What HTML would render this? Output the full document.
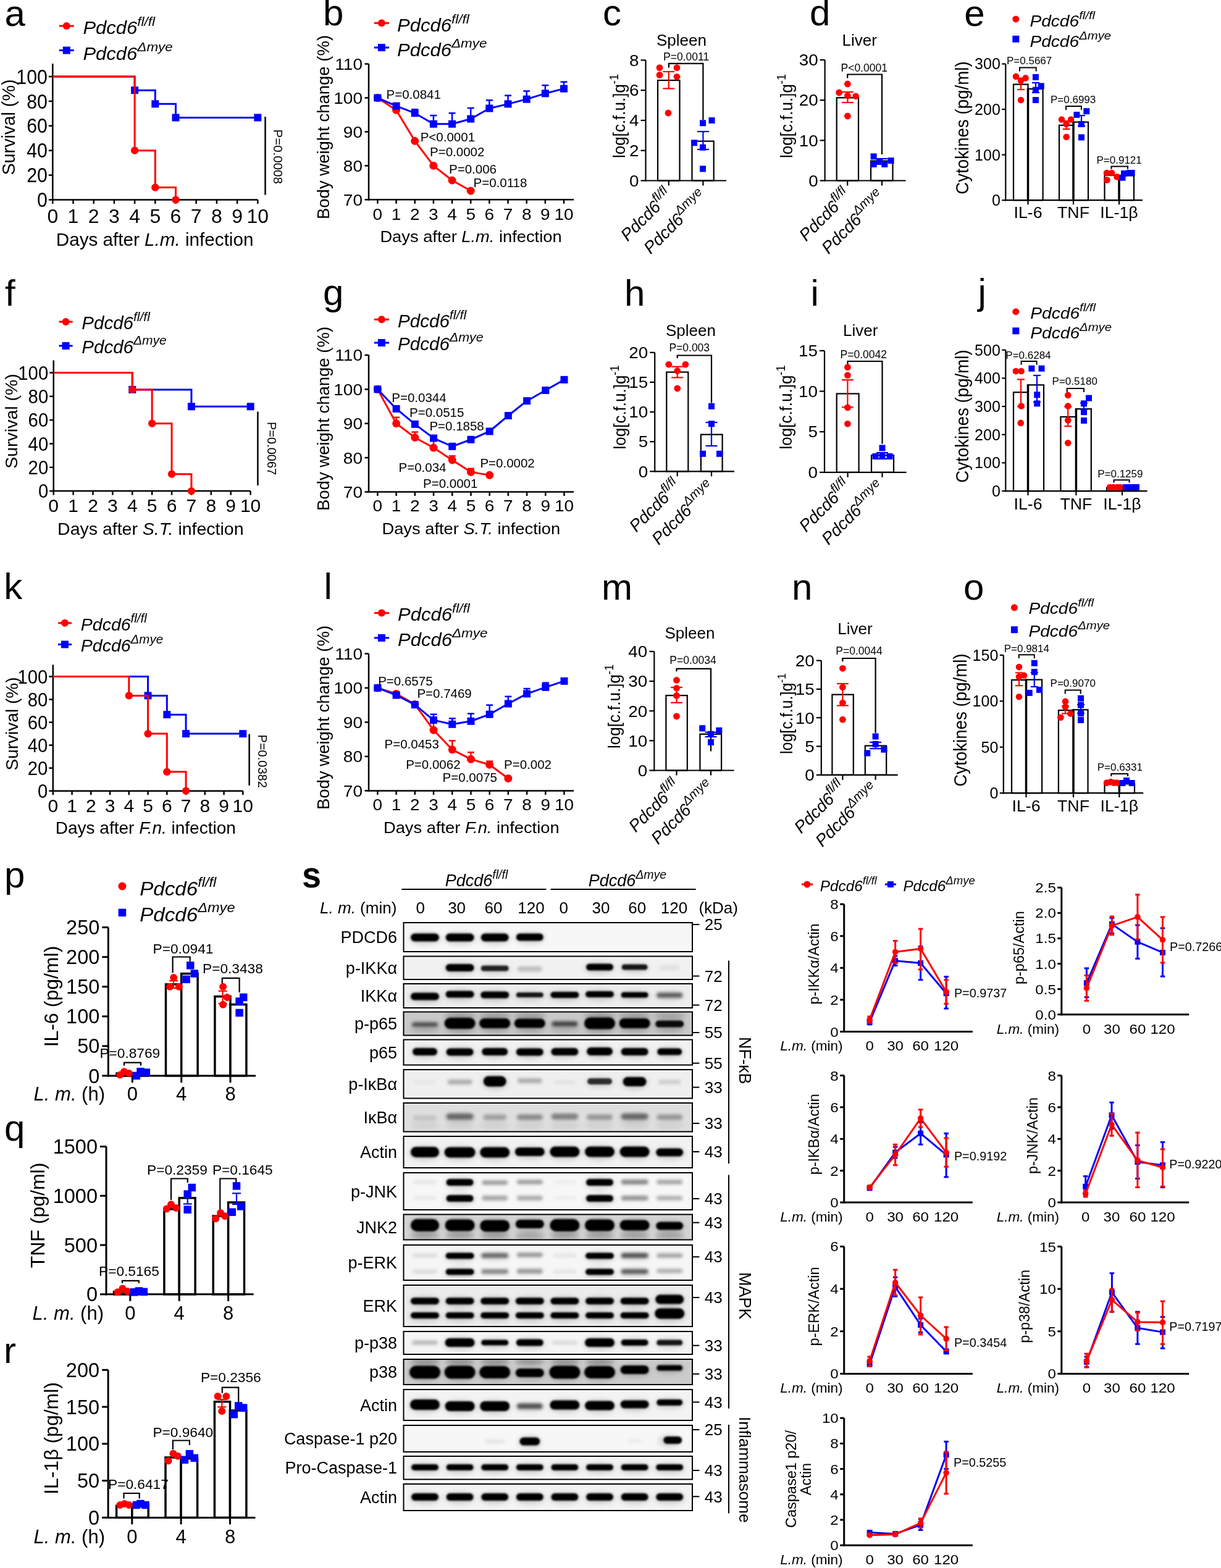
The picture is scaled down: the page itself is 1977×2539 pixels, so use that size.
<!DOCTYPE html>
<html><head><meta charset="utf-8"><title>Figure</title>
<style>
html,body{margin:0;padding:0;background:#fff;overflow:hidden;width:1977px;height:2539px;}
svg{display:block;}
text{font-family:"Liberation Sans",Arial,Helvetica,sans-serif;fill:#000;}
</style></head><body>
<svg width="1977" height="2539" viewBox="0 0 1977 2539">
<rect width="1977" height="2539" fill="#fff"/>
<line x1="95.8" y1="42" x2="119.7" y2="42" stroke="#ff0000" stroke-width="3"/>
<circle cx="107.75" cy="42" r="6" fill="#ff0000"/>
<text transform="translate(134.4,55.3) scale(1.07,1)" font-size="29" font-style="italic">Pdcd6<tspan font-size="21" dy="-13">fl/fl</tspan></text>
<line x1="95.8" y1="81.5" x2="119.7" y2="81.5" stroke="#0000ff" stroke-width="3"/>
<rect x="101.75" y="75.5" width="12" height="12" fill="#0000ff"/>
<text transform="translate(134.4,96.5) scale(1.07,1)" font-size="29" font-style="italic">Pdcd6<tspan font-size="21" dy="-14">Δmye</tspan></text>
<line x1="85.3" y1="103" x2="85.3" y2="324.75" stroke="#000" stroke-width="2.5"/>
<line x1="78.8" y1="323.5" x2="85.3" y2="323.5" stroke="#000" stroke-width="2.5"/>
<text transform="translate(76.8,335.15) scale(0.93,1)" font-size="32.55" text-anchor="end">0</text>
<line x1="78.8" y1="283.6" x2="85.3" y2="283.6" stroke="#000" stroke-width="2.5"/>
<text transform="translate(76.8,295.25) scale(0.93,1)" font-size="32.55" text-anchor="end">20</text>
<line x1="78.8" y1="243.7" x2="85.3" y2="243.7" stroke="#000" stroke-width="2.5"/>
<text transform="translate(76.8,255.35) scale(0.93,1)" font-size="32.55" text-anchor="end">40</text>
<line x1="78.8" y1="203.8" x2="85.3" y2="203.8" stroke="#000" stroke-width="2.5"/>
<text transform="translate(76.8,215.45) scale(0.93,1)" font-size="32.55" text-anchor="end">60</text>
<line x1="78.8" y1="163.9" x2="85.3" y2="163.9" stroke="#000" stroke-width="2.5"/>
<text transform="translate(76.8,175.55) scale(0.93,1)" font-size="32.55" text-anchor="end">80</text>
<line x1="78.8" y1="124" x2="85.3" y2="124" stroke="#000" stroke-width="2.5"/>
<text transform="translate(76.8,135.65) scale(0.93,1)" font-size="32.55" text-anchor="end">100</text>
<line x1="84.05" y1="323.5" x2="417.3" y2="323.5" stroke="#000" stroke-width="2.5"/>
<line x1="85.3" y1="323.5" x2="85.3" y2="330" stroke="#000" stroke-width="2.5"/>
<text transform="translate(85.3,360.8) scale(1.03,1)" font-size="31" text-anchor="middle">0</text>
<line x1="118.5" y1="323.5" x2="118.5" y2="330" stroke="#000" stroke-width="2.5"/>
<text transform="translate(118.5,360.8) scale(1.03,1)" font-size="31" text-anchor="middle">1</text>
<line x1="151.7" y1="323.5" x2="151.7" y2="330" stroke="#000" stroke-width="2.5"/>
<text transform="translate(151.7,360.8) scale(1.03,1)" font-size="31" text-anchor="middle">2</text>
<line x1="184.9" y1="323.5" x2="184.9" y2="330" stroke="#000" stroke-width="2.5"/>
<text transform="translate(184.9,360.8) scale(1.03,1)" font-size="31" text-anchor="middle">3</text>
<line x1="218.1" y1="323.5" x2="218.1" y2="330" stroke="#000" stroke-width="2.5"/>
<text transform="translate(218.1,360.8) scale(1.03,1)" font-size="31" text-anchor="middle">4</text>
<line x1="251.3" y1="323.5" x2="251.3" y2="330" stroke="#000" stroke-width="2.5"/>
<text transform="translate(251.3,360.8) scale(1.03,1)" font-size="31" text-anchor="middle">5</text>
<line x1="284.5" y1="323.5" x2="284.5" y2="330" stroke="#000" stroke-width="2.5"/>
<text transform="translate(284.5,360.8) scale(1.03,1)" font-size="31" text-anchor="middle">6</text>
<line x1="317.7" y1="323.5" x2="317.7" y2="330" stroke="#000" stroke-width="2.5"/>
<text transform="translate(317.7,360.8) scale(1.03,1)" font-size="31" text-anchor="middle">7</text>
<line x1="350.9" y1="323.5" x2="350.9" y2="330" stroke="#000" stroke-width="2.5"/>
<text transform="translate(350.9,360.8) scale(1.03,1)" font-size="31" text-anchor="middle">8</text>
<line x1="384.1" y1="323.5" x2="384.1" y2="330" stroke="#000" stroke-width="2.5"/>
<text transform="translate(384.1,360.8) scale(1.03,1)" font-size="31" text-anchor="middle">9</text>
<line x1="417.3" y1="323.5" x2="417.3" y2="330" stroke="#000" stroke-width="2.5"/>
<text transform="translate(417.3,360.8) scale(1.03,1)" font-size="31" text-anchor="middle">10</text>
<text transform="translate(250.6,397.6) scale(1.03,1)" font-size="28.8" text-anchor="middle">Days after <tspan font-style="italic">L.m.</tspan> infection</text>
<text transform="translate(24,206) rotate(-90)" font-size="28.8" text-anchor="middle">Survival (%)</text>
<polyline points="85.3,124 218.1,124 218.1,146.14 251.3,146.14 251.3,168.29 284.5,168.29 284.5,190.43 417.3,190.43 417.3,190.43" fill="none" stroke="#0000ff" stroke-width="3" stroke-linejoin="miter" stroke-linecap="butt"/>
<rect x="212.1" y="140.14" width="12" height="12" fill="#0000ff"/>
<rect x="245.3" y="162.29" width="12" height="12" fill="#0000ff"/>
<rect x="278.5" y="184.43" width="12" height="12" fill="#0000ff"/>
<rect x="411.3" y="184.43" width="12" height="12" fill="#0000ff"/>
<polyline points="85.3,124 218.1,124 218.1,243.7 251.3,243.7 251.3,303.55 284.5,303.55 284.5,323.5" fill="none" stroke="#ff0000" stroke-width="3" stroke-linejoin="miter" stroke-linecap="butt"/>
<circle cx="218.1" cy="243.7" r="6.2" fill="#ff0000"/>
<circle cx="251.3" cy="303.55" r="6.2" fill="#ff0000"/>
<circle cx="284.5" cy="323.5" r="6.2" fill="#ff0000"/>
<line x1="429.5" y1="189" x2="429.5" y2="315.6" stroke="#000" stroke-width="2.5"/>
<text transform="translate(443,209.5) rotate(90)" font-size="20.5">P=0.0008</text>
<line x1="605.8" y1="37.3" x2="630" y2="37.3" stroke="#ff0000" stroke-width="3"/>
<circle cx="617.9" cy="37.3" r="6" fill="#ff0000"/>
<text transform="translate(643,50.5) scale(1.07,1)" font-size="29" font-style="italic">Pdcd6<tspan font-size="21" dy="-13">fl/fl</tspan></text>
<line x1="605.8" y1="77" x2="630" y2="77" stroke="#0000ff" stroke-width="3"/>
<rect x="611.9" y="71" width="12" height="12" fill="#0000ff"/>
<text transform="translate(643,90.5) scale(1.07,1)" font-size="29" font-style="italic">Pdcd6<tspan font-size="21" dy="-14">Δmye</tspan></text>
<line x1="597" y1="103.5" x2="597" y2="324.55" stroke="#000" stroke-width="2.5"/>
<line x1="590.5" y1="323.3" x2="597" y2="323.3" stroke="#000" stroke-width="2.5"/>
<text transform="translate(587,332.68) scale(1.07,1)" font-size="26.2" text-anchor="end">70</text>
<line x1="590.5" y1="268.35" x2="597" y2="268.35" stroke="#000" stroke-width="2.5"/>
<text transform="translate(587,277.73) scale(1.07,1)" font-size="26.2" text-anchor="end">80</text>
<line x1="590.5" y1="213.4" x2="597" y2="213.4" stroke="#000" stroke-width="2.5"/>
<text transform="translate(587,222.78) scale(1.07,1)" font-size="26.2" text-anchor="end">90</text>
<line x1="590.5" y1="158.45" x2="597" y2="158.45" stroke="#000" stroke-width="2.5"/>
<text transform="translate(587,167.83) scale(1.07,1)" font-size="26.2" text-anchor="end">100</text>
<line x1="590.5" y1="103.5" x2="597" y2="103.5" stroke="#000" stroke-width="2.5"/>
<text transform="translate(587,112.88) scale(1.07,1)" font-size="26.2" text-anchor="end">110</text>
<line x1="595.75" y1="323.3" x2="929" y2="323.3" stroke="#000" stroke-width="2.5"/>
<line x1="611.4" y1="323.3" x2="611.4" y2="329.8" stroke="#000" stroke-width="2.5"/>
<text transform="translate(611.4,355.7) scale(1.07,1)" font-size="26.2" text-anchor="middle">0</text>
<line x1="641.56" y1="323.3" x2="641.56" y2="329.8" stroke="#000" stroke-width="2.5"/>
<text transform="translate(641.56,355.7) scale(1.07,1)" font-size="26.2" text-anchor="middle">1</text>
<line x1="671.72" y1="323.3" x2="671.72" y2="329.8" stroke="#000" stroke-width="2.5"/>
<text transform="translate(671.72,355.7) scale(1.07,1)" font-size="26.2" text-anchor="middle">2</text>
<line x1="701.88" y1="323.3" x2="701.88" y2="329.8" stroke="#000" stroke-width="2.5"/>
<text transform="translate(701.88,355.7) scale(1.07,1)" font-size="26.2" text-anchor="middle">3</text>
<line x1="732.04" y1="323.3" x2="732.04" y2="329.8" stroke="#000" stroke-width="2.5"/>
<text transform="translate(732.04,355.7) scale(1.07,1)" font-size="26.2" text-anchor="middle">4</text>
<line x1="762.2" y1="323.3" x2="762.2" y2="329.8" stroke="#000" stroke-width="2.5"/>
<text transform="translate(762.2,355.7) scale(1.07,1)" font-size="26.2" text-anchor="middle">5</text>
<line x1="792.36" y1="323.3" x2="792.36" y2="329.8" stroke="#000" stroke-width="2.5"/>
<text transform="translate(792.36,355.7) scale(1.07,1)" font-size="26.2" text-anchor="middle">6</text>
<line x1="822.52" y1="323.3" x2="822.52" y2="329.8" stroke="#000" stroke-width="2.5"/>
<text transform="translate(822.52,355.7) scale(1.07,1)" font-size="26.2" text-anchor="middle">7</text>
<line x1="852.68" y1="323.3" x2="852.68" y2="329.8" stroke="#000" stroke-width="2.5"/>
<text transform="translate(852.68,355.7) scale(1.07,1)" font-size="26.2" text-anchor="middle">8</text>
<line x1="882.84" y1="323.3" x2="882.84" y2="329.8" stroke="#000" stroke-width="2.5"/>
<text transform="translate(882.84,355.7) scale(1.07,1)" font-size="26.2" text-anchor="middle">9</text>
<line x1="913" y1="323.3" x2="913" y2="329.8" stroke="#000" stroke-width="2.5"/>
<text transform="translate(913,355.7) scale(1.07,1)" font-size="26.2" text-anchor="middle">10</text>
<text transform="translate(762.5,392.4) scale(1.03,1)" font-size="26.5" text-anchor="middle">Days after <tspan font-style="italic">L.m.</tspan> infection</text>
<text transform="translate(532.5,206) rotate(-90)" font-size="27.5" text-anchor="middle">Body weight change (%)</text>
<polyline points="611.4,158.45 641.56,178.23 671.72,228.24 701.88,268.35 732.04,291.98 762.2,309.01" fill="none" stroke="#ff0000" stroke-width="3" stroke-linejoin="round" stroke-linecap="butt"/>
<circle cx="611.4" cy="158.45" r="6.5" fill="#ff0000"/>
<circle cx="641.56" cy="178.23" r="6.5" fill="#ff0000"/>
<circle cx="671.72" cy="228.24" r="6.5" fill="#ff0000"/>
<circle cx="701.88" cy="268.35" r="6.5" fill="#ff0000"/>
<circle cx="732.04" cy="291.98" r="6.5" fill="#ff0000"/>
<circle cx="762.2" cy="309.01" r="6.5" fill="#ff0000"/>
<line x1="671.72" y1="177.13" x2="671.72" y2="183.18" stroke="#0000ff" stroke-width="2.5"/>
<line x1="666.22" y1="177.13" x2="677.22" y2="177.13" stroke="#0000ff" stroke-width="2.5"/>
<line x1="701.88" y1="187.02" x2="701.88" y2="200.76" stroke="#0000ff" stroke-width="2.5"/>
<line x1="696.38" y1="187.02" x2="707.38" y2="187.02" stroke="#0000ff" stroke-width="2.5"/>
<line x1="732.04" y1="183.18" x2="732.04" y2="200.76" stroke="#0000ff" stroke-width="2.5"/>
<line x1="726.54" y1="183.18" x2="737.54" y2="183.18" stroke="#0000ff" stroke-width="2.5"/>
<line x1="762.2" y1="174.94" x2="762.2" y2="192.52" stroke="#0000ff" stroke-width="2.5"/>
<line x1="756.7" y1="174.94" x2="767.7" y2="174.94" stroke="#0000ff" stroke-width="2.5"/>
<line x1="792.36" y1="162.3" x2="792.36" y2="175.48" stroke="#0000ff" stroke-width="2.5"/>
<line x1="786.86" y1="162.3" x2="797.86" y2="162.3" stroke="#0000ff" stroke-width="2.5"/>
<line x1="822.52" y1="154.6" x2="822.52" y2="168.34" stroke="#0000ff" stroke-width="2.5"/>
<line x1="817.02" y1="154.6" x2="828.02" y2="154.6" stroke="#0000ff" stroke-width="2.5"/>
<line x1="852.68" y1="147.46" x2="852.68" y2="160.65" stroke="#0000ff" stroke-width="2.5"/>
<line x1="847.18" y1="147.46" x2="858.18" y2="147.46" stroke="#0000ff" stroke-width="2.5"/>
<line x1="882.84" y1="138.12" x2="882.84" y2="151.31" stroke="#0000ff" stroke-width="2.5"/>
<line x1="877.34" y1="138.12" x2="888.34" y2="138.12" stroke="#0000ff" stroke-width="2.5"/>
<line x1="913" y1="132.62" x2="913" y2="143.61" stroke="#0000ff" stroke-width="2.5"/>
<line x1="907.5" y1="132.62" x2="918.5" y2="132.62" stroke="#0000ff" stroke-width="2.5"/>
<polyline points="611.4,158.45 641.56,171.64 671.72,183.18 701.88,200.76 732.04,200.76 762.2,192.52 792.36,175.48 822.52,168.34 852.68,160.65 882.84,151.31 913,143.61" fill="none" stroke="#0000ff" stroke-width="3" stroke-linejoin="round" stroke-linecap="butt"/>
<rect x="605.4" y="152.45" width="12" height="12" fill="#0000ff"/>
<rect x="635.56" y="165.64" width="12" height="12" fill="#0000ff"/>
<rect x="665.72" y="177.18" width="12" height="12" fill="#0000ff"/>
<rect x="695.88" y="194.76" width="12" height="12" fill="#0000ff"/>
<rect x="726.04" y="194.76" width="12" height="12" fill="#0000ff"/>
<rect x="756.2" y="186.52" width="12" height="12" fill="#0000ff"/>
<rect x="786.36" y="169.48" width="12" height="12" fill="#0000ff"/>
<rect x="816.52" y="162.34" width="12" height="12" fill="#0000ff"/>
<rect x="846.68" y="154.65" width="12" height="12" fill="#0000ff"/>
<rect x="876.84" y="145.31" width="12" height="12" fill="#0000ff"/>
<rect x="907" y="137.61" width="12" height="12" fill="#0000ff"/>
<text transform="translate(625.5,160)" font-size="20.5">P=0.0841</text>
<text transform="translate(680.7,229)" font-size="20.5">P&lt;0.0001</text>
<text transform="translate(696,253)" font-size="20.5">P=0.0002</text>
<text transform="translate(727,281)" font-size="20.5">P=0.006</text>
<text transform="translate(766.6,303)" font-size="20.5">P=0.0118</text>
<line x1="1045.5" y1="97.4" x2="1045.5" y2="293.6" stroke="#000" stroke-width="2.2"/>
<line x1="1037.5" y1="292.5" x2="1045.5" y2="292.5" stroke="#000" stroke-width="2.2"/>
<text transform="translate(1034.5,301.81) scale(1.07,1)" font-size="26" text-anchor="end">0</text>
<line x1="1037.5" y1="243.72" x2="1045.5" y2="243.72" stroke="#000" stroke-width="2.2"/>
<text transform="translate(1034.5,253.03) scale(1.07,1)" font-size="26" text-anchor="end">2</text>
<line x1="1037.5" y1="194.94" x2="1045.5" y2="194.94" stroke="#000" stroke-width="2.2"/>
<text transform="translate(1034.5,204.25) scale(1.07,1)" font-size="26" text-anchor="end">4</text>
<line x1="1037.5" y1="146.16" x2="1045.5" y2="146.16" stroke="#000" stroke-width="2.2"/>
<text transform="translate(1034.5,155.47) scale(1.07,1)" font-size="26" text-anchor="end">6</text>
<line x1="1037.5" y1="97.38" x2="1045.5" y2="97.38" stroke="#000" stroke-width="2.2"/>
<text transform="translate(1034.5,106.69) scale(1.07,1)" font-size="26" text-anchor="end">8</text>
<rect x="1065" y="130.06" width="35.5" height="162.44" fill="#fff" stroke="#000" stroke-width="2.2" />
<rect x="1120.5" y="228.6" width="35.2" height="63.9" fill="#fff" stroke="#000" stroke-width="2.2" />
<line x1="1044.4" y1="292.5" x2="1176" y2="292.5" stroke="#000" stroke-width="2.2"/>
<line x1="1082.8" y1="292.5" x2="1082.8" y2="300.5" stroke="#000" stroke-width="2.2"/>
<line x1="1138.4" y1="292.5" x2="1138.4" y2="300.5" stroke="#000" stroke-width="2.2"/>
<polyline points="1082.9,109.4 1082.9,102.9 1138.4,102.9 1138.4,194" fill="none" stroke="#000" stroke-width="2.2" stroke-linejoin="miter" stroke-linecap="butt"/>
<circle cx="1068" cy="109.6" r="5.4" fill="#ff0000"/>
<circle cx="1096" cy="109.6" r="5.4" fill="#ff0000"/>
<circle cx="1068" cy="121.4" r="5.4" fill="#ff0000"/>
<circle cx="1096" cy="124.3" r="5.4" fill="#ff0000"/>
<circle cx="1082" cy="183" r="5.4" fill="#ff0000"/>
<rect x="1133" y="194.3" width="10" height="10" fill="#0000ff"/>
<rect x="1147.5" y="190" width="10" height="10" fill="#0000ff"/>
<rect x="1119" y="226.3" width="10" height="10" fill="#0000ff"/>
<rect x="1133" y="233.7" width="10" height="10" fill="#0000ff"/>
<rect x="1133" y="268.4" width="10" height="10" fill="#0000ff"/>
<line x1="1082.8" y1="116" x2="1082.8" y2="143.4" stroke="#ff0000" stroke-width="2.2"/>
<line x1="1073.3" y1="116" x2="1092.3" y2="116" stroke="#ff0000" stroke-width="2.2"/>
<line x1="1073.3" y1="143.4" x2="1092.3" y2="143.4" stroke="#ff0000" stroke-width="2.2"/>
<line x1="1138.4" y1="213" x2="1138.4" y2="242" stroke="#0000ff" stroke-width="2.2"/>
<line x1="1128.9" y1="213" x2="1147.9" y2="213" stroke="#0000ff" stroke-width="2.2"/>
<line x1="1128.9" y1="242" x2="1147.9" y2="242" stroke="#0000ff" stroke-width="2.2"/>
<text transform="translate(1074,97.6)" font-size="17.5">P=0.0011</text>
<text transform="translate(1063,74.1)" font-size="26">Spleen</text>
<text transform="translate(1012,256) scale(1.07,1) rotate(-90)" font-size="26">log[c.f.u.]g<tspan font-size="18.2" dy="-10.4">-1</tspan></text>
<text transform="translate(1090,318) rotate(-45)" font-size="27.5" text-anchor="end" font-style="italic">Pdcd6<tspan font-size="20.62" dy="-11.55">fl/fl</tspan></text>
<text transform="translate(1146,320) rotate(-45)" font-size="27.5" text-anchor="end" font-style="italic">Pdcd6<tspan font-size="20.62" dy="-11.55">Δmye</tspan></text>
<line x1="1335.6" y1="97" x2="1335.6" y2="293.6" stroke="#000" stroke-width="2.2"/>
<line x1="1327.6" y1="292.5" x2="1335.6" y2="292.5" stroke="#000" stroke-width="2.2"/>
<text transform="translate(1324.6,301.81) scale(1.07,1)" font-size="26" text-anchor="end">0</text>
<line x1="1327.6" y1="227.33" x2="1335.6" y2="227.33" stroke="#000" stroke-width="2.2"/>
<text transform="translate(1324.6,236.64) scale(1.07,1)" font-size="26" text-anchor="end">10</text>
<line x1="1327.6" y1="162.16" x2="1335.6" y2="162.16" stroke="#000" stroke-width="2.2"/>
<text transform="translate(1324.6,171.47) scale(1.07,1)" font-size="26" text-anchor="end">20</text>
<line x1="1327.6" y1="96.99" x2="1335.6" y2="96.99" stroke="#000" stroke-width="2.2"/>
<text transform="translate(1324.6,106.3) scale(1.07,1)" font-size="26" text-anchor="end">30</text>
<rect x="1354.7" y="158.25" width="35.3" height="134.25" fill="#fff" stroke="#000" stroke-width="2.2" />
<rect x="1410" y="260.57" width="35.5" height="31.93" fill="#fff" stroke="#000" stroke-width="2.2" />
<line x1="1334.5" y1="292.5" x2="1466.7" y2="292.5" stroke="#000" stroke-width="2.2"/>
<line x1="1372.2" y1="292.5" x2="1372.2" y2="300.5" stroke="#000" stroke-width="2.2"/>
<line x1="1428" y1="292.5" x2="1428" y2="300.5" stroke="#000" stroke-width="2.2"/>
<polyline points="1372.2,126.4 1372.2,120.5 1428,120.5 1428,250" fill="none" stroke="#000" stroke-width="2.2" stroke-linejoin="miter" stroke-linecap="butt"/>
<circle cx="1372.4" cy="136" r="5.4" fill="#ff0000"/>
<circle cx="1358.6" cy="150" r="5.4" fill="#ff0000"/>
<circle cx="1372.4" cy="155" r="5.4" fill="#ff0000"/>
<circle cx="1385.6" cy="155.8" r="5.4" fill="#ff0000"/>
<circle cx="1372.4" cy="188" r="5.4" fill="#ff0000"/>
<rect x="1409.6" y="248.4" width="10" height="10" fill="#0000ff"/>
<rect x="1409.6" y="261" width="10" height="10" fill="#0000ff"/>
<rect x="1427.3" y="261" width="10" height="10" fill="#0000ff"/>
<rect x="1437.6" y="255.1" width="10" height="10" fill="#0000ff"/>
<rect x="1419" y="257" width="10" height="10" fill="#0000ff"/>
<line x1="1372.4" y1="149" x2="1372.4" y2="166" stroke="#ff0000" stroke-width="2.2"/>
<line x1="1362.9" y1="149" x2="1381.9" y2="149" stroke="#ff0000" stroke-width="2.2"/>
<line x1="1362.9" y1="166" x2="1381.9" y2="166" stroke="#ff0000" stroke-width="2.2"/>
<line x1="1428" y1="257" x2="1428" y2="263.5" stroke="#0000ff" stroke-width="2.2"/>
<line x1="1418.5" y1="257" x2="1437.5" y2="257" stroke="#0000ff" stroke-width="2.2"/>
<line x1="1418.5" y1="263.5" x2="1437.5" y2="263.5" stroke="#0000ff" stroke-width="2.2"/>
<text transform="translate(1361.5,115.5)" font-size="17.5">P&lt;0.0001</text>
<text transform="translate(1363.6,73.5)" font-size="26">Liver</text>
<text transform="translate(1283,256) scale(1.07,1) rotate(-90)" font-size="26">log[c.f.u.]g<tspan font-size="18.2" dy="-10.4">-1</tspan></text>
<text transform="translate(1379,318) rotate(-45)" font-size="27.5" text-anchor="end" font-style="italic">Pdcd6<tspan font-size="20.62" dy="-11.55">fl/fl</tspan></text>
<text transform="translate(1434,320) rotate(-45)" font-size="27.5" text-anchor="end" font-style="italic">Pdcd6<tspan font-size="20.62" dy="-11.55">Δmye</tspan></text>
<circle cx="1644.8" cy="30.9" r="5.5" fill="#ff0000"/>
<text transform="translate(1667.4,42.6) scale(1.07,1)" font-size="26.3" font-style="italic">Pdcd6<tspan font-size="19" dy="-12">fl/fl</tspan></text>
<rect x="1639.3" y="57.7" width="11" height="11" fill="#0000ff"/>
<text transform="translate(1667.4,75.8) scale(1.07,1)" font-size="26.3" font-style="italic">Pdcd6<tspan font-size="19" dy="-12">Δmye</tspan></text>
<line x1="1628.3" y1="103.5" x2="1628.3" y2="325.3" stroke="#000" stroke-width="2.2"/>
<line x1="1622.3" y1="324.2" x2="1628.3" y2="324.2" stroke="#000" stroke-width="2.2"/>
<text transform="translate(1619.8,333.15)" font-size="25" text-anchor="end">0</text>
<line x1="1622.3" y1="250.63" x2="1628.3" y2="250.63" stroke="#000" stroke-width="2.2"/>
<text transform="translate(1619.8,259.58)" font-size="25" text-anchor="end">100</text>
<line x1="1622.3" y1="177.06" x2="1628.3" y2="177.06" stroke="#000" stroke-width="2.2"/>
<text transform="translate(1619.8,186.01)" font-size="25" text-anchor="end">200</text>
<line x1="1622.3" y1="103.49" x2="1628.3" y2="103.49" stroke="#000" stroke-width="2.2"/>
<text transform="translate(1619.8,112.44)" font-size="25" text-anchor="end">300</text>
<rect x="1641" y="136.6" width="23.5" height="187.6" fill="#fff" stroke="#000" stroke-width="2.2" />
<rect x="1664.5" y="143.95" width="24.1" height="180.25" fill="#fff" stroke="#000" stroke-width="2.2" />
<rect x="1715" y="202.81" width="23" height="121.39" fill="#fff" stroke="#000" stroke-width="2.2" />
<rect x="1738" y="197.66" width="24" height="126.54" fill="#fff" stroke="#000" stroke-width="2.2" />
<rect x="1788.5" y="283.74" width="23.5" height="40.46" fill="#fff" stroke="#000" stroke-width="2.2" />
<rect x="1812" y="284.47" width="24" height="39.73" fill="#fff" stroke="#000" stroke-width="2.2" />
<line x1="1664.5" y1="142.85" x2="1664.5" y2="324.2" stroke="#000" stroke-width="3.5"/>
<line x1="1738" y1="196.56" x2="1738" y2="324.2" stroke="#000" stroke-width="3.5"/>
<line x1="1812" y1="283.37" x2="1812" y2="324.2" stroke="#000" stroke-width="3.5"/>
<line x1="1627.2" y1="324.2" x2="1850" y2="324.2" stroke="#000" stroke-width="2.2"/>
<line x1="1664.5" y1="324.2" x2="1664.5" y2="331.2" stroke="#000" stroke-width="2.2"/>
<line x1="1738" y1="324.2" x2="1738" y2="331.2" stroke="#000" stroke-width="2.2"/>
<line x1="1812" y1="324.2" x2="1812" y2="331.2" stroke="#000" stroke-width="2.2"/>
<text transform="translate(1664.5,352.7) scale(1.07,1)" font-size="25" text-anchor="middle">IL-6</text>
<text transform="translate(1738,352.7) scale(1.07,1)" font-size="25" text-anchor="middle">TNF</text>
<text transform="translate(1812,352.7) scale(1.07,1)" font-size="25" text-anchor="middle">IL-1β</text>
<polyline points="1651,115.5 1651,109.6 1677.7,109.6 1677.7,115.5" fill="none" stroke="#000" stroke-width="2" stroke-linejoin="miter" stroke-linecap="butt"/>
<text transform="translate(1630,104.1)" font-size="17">P=0.5667</text>
<polyline points="1726,178 1726,172 1751,172 1751,178" fill="none" stroke="#000" stroke-width="2" stroke-linejoin="miter" stroke-linecap="butt"/>
<text transform="translate(1701,167)" font-size="17">P=0.6993</text>
<polyline points="1799.4,273.8 1799.4,269.6 1826,269.6 1826,273.8" fill="none" stroke="#000" stroke-width="2" stroke-linejoin="miter" stroke-linecap="butt"/>
<text transform="translate(1775.5,265)" font-size="17">P=0.9121</text>
<line x1="1653" y1="127" x2="1653" y2="145" stroke="#ff0000" stroke-width="2.2"/>
<line x1="1647" y1="127" x2="1659" y2="127" stroke="#ff0000" stroke-width="2.2"/>
<line x1="1647" y1="145" x2="1659" y2="145" stroke="#ff0000" stroke-width="2.2"/>
<line x1="1726.6" y1="196" x2="1726.6" y2="209" stroke="#ff0000" stroke-width="2.2"/>
<line x1="1720.6" y1="196" x2="1732.6" y2="196" stroke="#ff0000" stroke-width="2.2"/>
<line x1="1720.6" y1="209" x2="1732.6" y2="209" stroke="#ff0000" stroke-width="2.2"/>
<line x1="1677" y1="134" x2="1677" y2="150" stroke="#0000ff" stroke-width="2.2"/>
<line x1="1671" y1="134" x2="1683" y2="134" stroke="#0000ff" stroke-width="2.2"/>
<line x1="1671" y1="150" x2="1683" y2="150" stroke="#0000ff" stroke-width="2.2"/>
<line x1="1751" y1="187" x2="1751" y2="204" stroke="#0000ff" stroke-width="2.2"/>
<line x1="1745" y1="187" x2="1757" y2="187" stroke="#0000ff" stroke-width="2.2"/>
<line x1="1745" y1="204" x2="1757" y2="204" stroke="#0000ff" stroke-width="2.2"/>
<circle cx="1645" cy="123.9" r="5.3" fill="#ff0000"/>
<circle cx="1660.5" cy="126.4" r="5.3" fill="#ff0000"/>
<circle cx="1653" cy="130.6" r="5.3" fill="#ff0000"/>
<circle cx="1653" cy="162" r="5.3" fill="#ff0000"/>
<circle cx="1719" cy="193.5" r="5.3" fill="#ff0000"/>
<circle cx="1734" cy="193.5" r="5.3" fill="#ff0000"/>
<circle cx="1726.6" cy="201" r="5.3" fill="#ff0000"/>
<circle cx="1726.6" cy="221.8" r="5.3" fill="#ff0000"/>
<circle cx="1792" cy="280.1" r="5.3" fill="#ff0000"/>
<circle cx="1800" cy="280.1" r="5.3" fill="#ff0000"/>
<circle cx="1808.6" cy="286.4" r="5.3" fill="#ff0000"/>
<circle cx="1792.4" cy="291.5" r="5.3" fill="#ff0000"/>
<rect x="1671.9" y="119.9" width="10" height="10" fill="#0000ff"/>
<rect x="1680.7" y="134.4" width="10" height="10" fill="#0000ff"/>
<rect x="1671.9" y="140.7" width="10" height="10" fill="#0000ff"/>
<rect x="1671.9" y="157" width="10" height="10" fill="#0000ff"/>
<rect x="1738.4" y="180.9" width="10" height="10" fill="#0000ff"/>
<rect x="1754.3" y="175.1" width="10" height="10" fill="#0000ff"/>
<rect x="1746" y="196" width="10" height="10" fill="#0000ff"/>
<rect x="1746" y="217.4" width="10" height="10" fill="#0000ff"/>
<rect x="1815" y="276" width="10" height="10" fill="#0000ff"/>
<rect x="1823.8" y="275" width="10" height="10" fill="#0000ff"/>
<rect x="1827.6" y="275" width="10" height="10" fill="#0000ff"/>
<rect x="1812.5" y="282.7" width="10" height="10" fill="#0000ff"/>
<text transform="translate(1568,207) scale(1.07,1) rotate(-90)" font-size="27.7" text-anchor="middle">Cytokines (pg/ml)</text>
<line x1="95.5" y1="521" x2="117.6" y2="521" stroke="#ff0000" stroke-width="3"/>
<circle cx="106.55" cy="521" r="6" fill="#ff0000"/>
<text transform="translate(132.3,533)" font-size="29.5" font-style="italic">Pdcd6<tspan font-size="21" dy="-13">fl/fl</tspan></text>
<line x1="95.5" y1="560" x2="117.6" y2="560" stroke="#0000ff" stroke-width="3"/>
<rect x="100.55" y="554" width="12" height="12" fill="#0000ff"/>
<text transform="translate(132.3,571.7)" font-size="29.5" font-style="italic">Pdcd6<tspan font-size="21" dy="-14">Δmye</tspan></text>
<line x1="86.7" y1="583.5" x2="86.7" y2="796.35" stroke="#000" stroke-width="2.5"/>
<line x1="80.2" y1="795.1" x2="86.7" y2="795.1" stroke="#000" stroke-width="2.5"/>
<text transform="translate(78.2,806.38) scale(0.93,1)" font-size="31.5" text-anchor="end">0</text>
<line x1="80.2" y1="756.78" x2="86.7" y2="756.78" stroke="#000" stroke-width="2.5"/>
<text transform="translate(78.2,768.06) scale(0.93,1)" font-size="31.5" text-anchor="end">20</text>
<line x1="80.2" y1="718.46" x2="86.7" y2="718.46" stroke="#000" stroke-width="2.5"/>
<text transform="translate(78.2,729.74) scale(0.93,1)" font-size="31.5" text-anchor="end">40</text>
<line x1="80.2" y1="680.14" x2="86.7" y2="680.14" stroke="#000" stroke-width="2.5"/>
<text transform="translate(78.2,691.42) scale(0.93,1)" font-size="31.5" text-anchor="end">60</text>
<line x1="80.2" y1="641.82" x2="86.7" y2="641.82" stroke="#000" stroke-width="2.5"/>
<text transform="translate(78.2,653.1) scale(0.93,1)" font-size="31.5" text-anchor="end">80</text>
<line x1="80.2" y1="603.5" x2="86.7" y2="603.5" stroke="#000" stroke-width="2.5"/>
<text transform="translate(78.2,614.78) scale(0.93,1)" font-size="31.5" text-anchor="end">100</text>
<line x1="85.45" y1="795.1" x2="405.6" y2="795.1" stroke="#000" stroke-width="2.5"/>
<line x1="86.7" y1="795.1" x2="86.7" y2="801.6" stroke="#000" stroke-width="2.5"/>
<text transform="translate(86.7,829)" font-size="30" text-anchor="middle">0</text>
<line x1="118.59" y1="795.1" x2="118.59" y2="801.6" stroke="#000" stroke-width="2.5"/>
<text transform="translate(118.59,829)" font-size="30" text-anchor="middle">1</text>
<line x1="150.48" y1="795.1" x2="150.48" y2="801.6" stroke="#000" stroke-width="2.5"/>
<text transform="translate(150.48,829)" font-size="30" text-anchor="middle">2</text>
<line x1="182.37" y1="795.1" x2="182.37" y2="801.6" stroke="#000" stroke-width="2.5"/>
<text transform="translate(182.37,829)" font-size="30" text-anchor="middle">3</text>
<line x1="214.26" y1="795.1" x2="214.26" y2="801.6" stroke="#000" stroke-width="2.5"/>
<text transform="translate(214.26,829)" font-size="30" text-anchor="middle">4</text>
<line x1="246.15" y1="795.1" x2="246.15" y2="801.6" stroke="#000" stroke-width="2.5"/>
<text transform="translate(246.15,829)" font-size="30" text-anchor="middle">5</text>
<line x1="278.04" y1="795.1" x2="278.04" y2="801.6" stroke="#000" stroke-width="2.5"/>
<text transform="translate(278.04,829)" font-size="30" text-anchor="middle">6</text>
<line x1="309.93" y1="795.1" x2="309.93" y2="801.6" stroke="#000" stroke-width="2.5"/>
<text transform="translate(309.93,829)" font-size="30" text-anchor="middle">7</text>
<line x1="341.82" y1="795.1" x2="341.82" y2="801.6" stroke="#000" stroke-width="2.5"/>
<text transform="translate(341.82,829)" font-size="30" text-anchor="middle">8</text>
<line x1="373.71" y1="795.1" x2="373.71" y2="801.6" stroke="#000" stroke-width="2.5"/>
<text transform="translate(373.71,829)" font-size="30" text-anchor="middle">9</text>
<line x1="405.6" y1="795.1" x2="405.6" y2="801.6" stroke="#000" stroke-width="2.5"/>
<text transform="translate(405.6,829)" font-size="30" text-anchor="middle">10</text>
<text transform="translate(243.8,865.6)" font-size="28.5" text-anchor="middle">Days after <tspan font-style="italic">S.T.</tspan> infection</text>
<text transform="translate(28,682) rotate(-90)" font-size="28.5" text-anchor="middle">Survival (%)</text>
<polyline points="86.7,603.5 214.26,603.5 214.26,630.9 309.93,630.9 309.93,658.3 405.6,658.3 405.6,658.3" fill="none" stroke="#0000ff" stroke-width="3" stroke-linejoin="miter" stroke-linecap="butt"/>
<rect x="208.26" y="624.9" width="12" height="12" fill="#0000ff"/>
<rect x="303.93" y="652.3" width="12" height="12" fill="#0000ff"/>
<rect x="399.6" y="652.3" width="12" height="12" fill="#0000ff"/>
<polyline points="86.7,603.5 214.26,603.5 214.26,630.9 246.15,630.9 246.15,685.7 278.04,685.7 278.04,767.7 309.93,767.7 309.93,795.1" fill="none" stroke="#ff0000" stroke-width="3" stroke-linejoin="miter" stroke-linecap="butt"/>
<circle cx="214.26" cy="630.9" r="6.2" fill="#ff0000"/>
<circle cx="246.15" cy="685.7" r="6.2" fill="#ff0000"/>
<circle cx="278.04" cy="767.7" r="6.2" fill="#ff0000"/>
<circle cx="309.93" cy="795.1" r="6.2" fill="#ff0000"/>
<line x1="417.4" y1="666.6" x2="417.4" y2="786" stroke="#000" stroke-width="2.5"/>
<text transform="translate(432.5,683) rotate(90)" font-size="20">P=0.0067</text>
<line x1="605.8" y1="517.3" x2="630" y2="517.3" stroke="#ff0000" stroke-width="3"/>
<circle cx="617.9" cy="517.3" r="6" fill="#ff0000"/>
<text transform="translate(644,530) scale(1.02,1)" font-size="29" font-style="italic">Pdcd6<tspan font-size="21" dy="-13">fl/fl</tspan></text>
<line x1="605.8" y1="555" x2="630" y2="555" stroke="#0000ff" stroke-width="3"/>
<rect x="611.9" y="549" width="12" height="12" fill="#0000ff"/>
<text transform="translate(644,566.7) scale(1.02,1)" font-size="29" font-style="italic">Pdcd6<tspan font-size="21" dy="-14">Δmye</tspan></text>
<line x1="597" y1="575" x2="597" y2="797.75" stroke="#000" stroke-width="2.5"/>
<line x1="590.5" y1="796.5" x2="597" y2="796.5" stroke="#000" stroke-width="2.5"/>
<text transform="translate(587,805.88) scale(1.07,1)" font-size="26.2" text-anchor="end">70</text>
<line x1="590.5" y1="741.12" x2="597" y2="741.12" stroke="#000" stroke-width="2.5"/>
<text transform="translate(587,750.5) scale(1.07,1)" font-size="26.2" text-anchor="end">80</text>
<line x1="590.5" y1="685.74" x2="597" y2="685.74" stroke="#000" stroke-width="2.5"/>
<text transform="translate(587,695.12) scale(1.07,1)" font-size="26.2" text-anchor="end">90</text>
<line x1="590.5" y1="630.36" x2="597" y2="630.36" stroke="#000" stroke-width="2.5"/>
<text transform="translate(587,639.74) scale(1.07,1)" font-size="26.2" text-anchor="end">100</text>
<line x1="590.5" y1="574.98" x2="597" y2="574.98" stroke="#000" stroke-width="2.5"/>
<text transform="translate(587,584.36) scale(1.07,1)" font-size="26.2" text-anchor="end">110</text>
<line x1="595.75" y1="796.5" x2="929" y2="796.5" stroke="#000" stroke-width="2.5"/>
<line x1="611.4" y1="796.5" x2="611.4" y2="803" stroke="#000" stroke-width="2.5"/>
<text transform="translate(611.4,828.3) scale(1.07,1)" font-size="26.2" text-anchor="middle">0</text>
<line x1="641.61" y1="796.5" x2="641.61" y2="803" stroke="#000" stroke-width="2.5"/>
<text transform="translate(641.61,828.3) scale(1.07,1)" font-size="26.2" text-anchor="middle">1</text>
<line x1="671.82" y1="796.5" x2="671.82" y2="803" stroke="#000" stroke-width="2.5"/>
<text transform="translate(671.82,828.3) scale(1.07,1)" font-size="26.2" text-anchor="middle">2</text>
<line x1="702.03" y1="796.5" x2="702.03" y2="803" stroke="#000" stroke-width="2.5"/>
<text transform="translate(702.03,828.3) scale(1.07,1)" font-size="26.2" text-anchor="middle">3</text>
<line x1="732.24" y1="796.5" x2="732.24" y2="803" stroke="#000" stroke-width="2.5"/>
<text transform="translate(732.24,828.3) scale(1.07,1)" font-size="26.2" text-anchor="middle">4</text>
<line x1="762.45" y1="796.5" x2="762.45" y2="803" stroke="#000" stroke-width="2.5"/>
<text transform="translate(762.45,828.3) scale(1.07,1)" font-size="26.2" text-anchor="middle">5</text>
<line x1="792.66" y1="796.5" x2="792.66" y2="803" stroke="#000" stroke-width="2.5"/>
<text transform="translate(792.66,828.3) scale(1.07,1)" font-size="26.2" text-anchor="middle">6</text>
<line x1="822.87" y1="796.5" x2="822.87" y2="803" stroke="#000" stroke-width="2.5"/>
<text transform="translate(822.87,828.3) scale(1.07,1)" font-size="26.2" text-anchor="middle">7</text>
<line x1="853.08" y1="796.5" x2="853.08" y2="803" stroke="#000" stroke-width="2.5"/>
<text transform="translate(853.08,828.3) scale(1.07,1)" font-size="26.2" text-anchor="middle">8</text>
<line x1="883.29" y1="796.5" x2="883.29" y2="803" stroke="#000" stroke-width="2.5"/>
<text transform="translate(883.29,828.3) scale(1.07,1)" font-size="26.2" text-anchor="middle">9</text>
<line x1="913.5" y1="796.5" x2="913.5" y2="803" stroke="#000" stroke-width="2.5"/>
<text transform="translate(913.5,828.3) scale(1.07,1)" font-size="26.2" text-anchor="middle">10</text>
<text transform="translate(762.8,865) scale(1.03,1)" font-size="26.5" text-anchor="middle">Days after <tspan font-style="italic">S.T.</tspan> infection</text>
<text transform="translate(532.5,678) rotate(-90)" font-size="27.5" text-anchor="middle">Body weight change (%)</text>
<line x1="641.61" y1="675.77" x2="641.61" y2="685.74" stroke="#ff0000" stroke-width="2.5"/>
<line x1="636.11" y1="675.77" x2="647.11" y2="675.77" stroke="#ff0000" stroke-width="2.5"/>
<line x1="671.82" y1="699.59" x2="671.82" y2="708.45" stroke="#ff0000" stroke-width="2.5"/>
<line x1="666.32" y1="699.59" x2="677.32" y2="699.59" stroke="#ff0000" stroke-width="2.5"/>
<line x1="702.03" y1="713.43" x2="702.03" y2="725.06" stroke="#ff0000" stroke-width="2.5"/>
<line x1="696.53" y1="713.43" x2="707.53" y2="713.43" stroke="#ff0000" stroke-width="2.5"/>
<line x1="732.24" y1="738.35" x2="732.24" y2="745" stroke="#ff0000" stroke-width="2.5"/>
<line x1="726.74" y1="738.35" x2="737.74" y2="738.35" stroke="#ff0000" stroke-width="2.5"/>
<line x1="762.45" y1="758.84" x2="762.45" y2="764.38" stroke="#ff0000" stroke-width="2.5"/>
<line x1="756.95" y1="758.84" x2="767.95" y2="758.84" stroke="#ff0000" stroke-width="2.5"/>
<polyline points="611.4,630.36 641.61,685.74 671.82,708.45 702.03,725.06 732.24,745 762.45,764.38 792.66,769.36" fill="none" stroke="#ff0000" stroke-width="3" stroke-linejoin="round" stroke-linecap="butt"/>
<circle cx="611.4" cy="630.36" r="6.5" fill="#ff0000"/>
<circle cx="641.61" cy="685.74" r="6.5" fill="#ff0000"/>
<circle cx="671.82" cy="708.45" r="6.5" fill="#ff0000"/>
<circle cx="702.03" cy="725.06" r="6.5" fill="#ff0000"/>
<circle cx="732.24" cy="745" r="6.5" fill="#ff0000"/>
<circle cx="762.45" cy="764.38" r="6.5" fill="#ff0000"/>
<circle cx="792.66" cy="769.36" r="6.5" fill="#ff0000"/>
<polyline points="611.4,630.36 641.61,661.93 671.82,686.85 702.03,709.55 732.24,722.84 762.45,711.77 792.66,698.48 822.87,673 853.08,649.19 883.29,632.02 913.5,614.85" fill="none" stroke="#0000ff" stroke-width="3" stroke-linejoin="round" stroke-linecap="butt"/>
<rect x="605.4" y="624.36" width="12" height="12" fill="#0000ff"/>
<rect x="635.61" y="655.93" width="12" height="12" fill="#0000ff"/>
<rect x="665.82" y="680.85" width="12" height="12" fill="#0000ff"/>
<rect x="696.03" y="703.55" width="12" height="12" fill="#0000ff"/>
<rect x="726.24" y="716.84" width="12" height="12" fill="#0000ff"/>
<rect x="756.45" y="705.77" width="12" height="12" fill="#0000ff"/>
<rect x="786.66" y="692.48" width="12" height="12" fill="#0000ff"/>
<rect x="816.87" y="667" width="12" height="12" fill="#0000ff"/>
<rect x="847.08" y="643.19" width="12" height="12" fill="#0000ff"/>
<rect x="877.29" y="626.02" width="12" height="12" fill="#0000ff"/>
<rect x="907.5" y="608.85" width="12" height="12" fill="#0000ff"/>
<text transform="translate(634.3,650.5)" font-size="20.5">P=0.0344</text>
<text transform="translate(663,674.6)" font-size="20.5">P=0.0515</text>
<text transform="translate(695.4,697)" font-size="20.5">P=0.1858</text>
<text transform="translate(645.5,763.6)" font-size="20.5">P=0.034</text>
<text transform="translate(685,790)" font-size="20.5">P=0.0001</text>
<text transform="translate(777.4,757)" font-size="20.5">P=0.0002</text>
<line x1="1060.2" y1="570.8" x2="1060.2" y2="764.4" stroke="#000" stroke-width="2.2"/>
<line x1="1052.2" y1="763.3" x2="1060.2" y2="763.3" stroke="#000" stroke-width="2.2"/>
<text transform="translate(1049.2,772.61) scale(1.07,1)" font-size="26" text-anchor="end">0</text>
<line x1="1052.2" y1="715.17" x2="1060.2" y2="715.17" stroke="#000" stroke-width="2.2"/>
<text transform="translate(1049.2,724.48) scale(1.07,1)" font-size="26" text-anchor="end">5</text>
<line x1="1052.2" y1="667.05" x2="1060.2" y2="667.05" stroke="#000" stroke-width="2.2"/>
<text transform="translate(1049.2,676.36) scale(1.07,1)" font-size="26" text-anchor="end">10</text>
<line x1="1052.2" y1="618.92" x2="1060.2" y2="618.92" stroke="#000" stroke-width="2.2"/>
<text transform="translate(1049.2,628.23) scale(1.07,1)" font-size="26" text-anchor="end">15</text>
<line x1="1052.2" y1="570.8" x2="1060.2" y2="570.8" stroke="#000" stroke-width="2.2"/>
<text transform="translate(1049.2,580.11) scale(1.07,1)" font-size="26" text-anchor="end">20</text>
<rect x="1079.3" y="602.56" width="35" height="160.74" fill="#fff" stroke="#000" stroke-width="2.2" />
<rect x="1134.9" y="703.62" width="34.7" height="59.67" fill="#fff" stroke="#000" stroke-width="2.2" />
<line x1="1059.1" y1="763.3" x2="1189" y2="763.3" stroke="#000" stroke-width="2.2"/>
<line x1="1096.7" y1="763.3" x2="1096.7" y2="771.3" stroke="#000" stroke-width="2.2"/>
<line x1="1152" y1="763.3" x2="1152" y2="771.3" stroke="#000" stroke-width="2.2"/>
<polyline points="1096.7,580 1096.7,575.5 1152,575.5 1152,652.5" fill="none" stroke="#000" stroke-width="2.2" stroke-linejoin="miter" stroke-linecap="butt"/>
<circle cx="1082.8" cy="590.2" r="5.4" fill="#ff0000"/>
<circle cx="1109.9" cy="590.2" r="5.4" fill="#ff0000"/>
<circle cx="1096.7" cy="600.5" r="5.4" fill="#ff0000"/>
<circle cx="1096.7" cy="629" r="5.4" fill="#ff0000"/>
<rect x="1147" y="652.8" width="10" height="10" fill="#0000ff"/>
<rect x="1147" y="681.3" width="10" height="10" fill="#0000ff"/>
<rect x="1133" y="729.8" width="10" height="10" fill="#0000ff"/>
<rect x="1160" y="729.8" width="10" height="10" fill="#0000ff"/>
<line x1="1096.7" y1="593.7" x2="1096.7" y2="611.4" stroke="#ff0000" stroke-width="2.2"/>
<line x1="1087.2" y1="593.7" x2="1106.2" y2="593.7" stroke="#ff0000" stroke-width="2.2"/>
<line x1="1087.2" y1="611.4" x2="1106.2" y2="611.4" stroke="#ff0000" stroke-width="2.2"/>
<line x1="1152" y1="684" x2="1152" y2="722" stroke="#0000ff" stroke-width="2.2"/>
<line x1="1142.5" y1="684" x2="1161.5" y2="684" stroke="#0000ff" stroke-width="2.2"/>
<line x1="1142.5" y1="722" x2="1161.5" y2="722" stroke="#0000ff" stroke-width="2.2"/>
<text transform="translate(1083.4,569.3)" font-size="17.5">P=0.003</text>
<text transform="translate(1077.9,543.8)" font-size="26">Spleen</text>
<text transform="translate(1013,727.5) scale(1.07,1) rotate(-90)" font-size="26">log[c.f.u.]g<tspan font-size="18.2" dy="-10.4">-1</tspan></text>
<text transform="translate(1104,789) rotate(-45)" font-size="27.5" text-anchor="end" font-style="italic">Pdcd6<tspan font-size="20.62" dy="-11.55">fl/fl</tspan></text>
<text transform="translate(1159,791) rotate(-45)" font-size="27.5" text-anchor="end" font-style="italic">Pdcd6<tspan font-size="20.62" dy="-11.55">Δmye</tspan></text>
<line x1="1335" y1="567.9" x2="1335" y2="765.9" stroke="#000" stroke-width="2.2"/>
<line x1="1327" y1="764.8" x2="1335" y2="764.8" stroke="#000" stroke-width="2.2"/>
<text transform="translate(1324,774.11) scale(1.07,1)" font-size="26" text-anchor="end">0</text>
<line x1="1327" y1="699.16" x2="1335" y2="699.16" stroke="#000" stroke-width="2.2"/>
<text transform="translate(1324,708.47) scale(1.07,1)" font-size="26" text-anchor="end">5</text>
<line x1="1327" y1="633.53" x2="1335" y2="633.53" stroke="#000" stroke-width="2.2"/>
<text transform="translate(1324,642.84) scale(1.07,1)" font-size="26" text-anchor="end">10</text>
<line x1="1327" y1="567.89" x2="1335" y2="567.89" stroke="#000" stroke-width="2.2"/>
<text transform="translate(1324,577.2) scale(1.07,1)" font-size="26" text-anchor="end">15</text>
<rect x="1354.7" y="637.47" width="35.9" height="127.33" fill="#fff" stroke="#000" stroke-width="2.2" />
<rect x="1411" y="737.23" width="36" height="27.57" fill="#fff" stroke="#000" stroke-width="2.2" />
<line x1="1333.9" y1="764.8" x2="1467.5" y2="764.8" stroke="#000" stroke-width="2.2"/>
<line x1="1372.6" y1="764.8" x2="1372.6" y2="772.8" stroke="#000" stroke-width="2.2"/>
<line x1="1428.5" y1="764.8" x2="1428.5" y2="772.8" stroke="#000" stroke-width="2.2"/>
<polyline points="1372.5,590.8 1372.5,585 1428.5,585 1428.5,718.7" fill="none" stroke="#000" stroke-width="2.2" stroke-linejoin="miter" stroke-linecap="butt"/>
<circle cx="1372.4" cy="594.6" r="5.4" fill="#ff0000"/>
<circle cx="1372.4" cy="607.6" r="5.4" fill="#ff0000"/>
<circle cx="1372.4" cy="659.9" r="5.4" fill="#ff0000"/>
<circle cx="1372.4" cy="686.3" r="5.4" fill="#ff0000"/>
<rect x="1412.5" y="734" width="10" height="10" fill="#0000ff"/>
<rect x="1423.5" y="720.4" width="10" height="10" fill="#0000ff"/>
<rect x="1423.5" y="734" width="10" height="10" fill="#0000ff"/>
<rect x="1435.5" y="734" width="10" height="10" fill="#0000ff"/>
<line x1="1372.4" y1="615.2" x2="1372.4" y2="659.3" stroke="#ff0000" stroke-width="2.2"/>
<line x1="1362.9" y1="615.2" x2="1381.9" y2="615.2" stroke="#ff0000" stroke-width="2.2"/>
<line x1="1362.9" y1="659.3" x2="1381.9" y2="659.3" stroke="#ff0000" stroke-width="2.2"/>
<line x1="1428.5" y1="733" x2="1428.5" y2="743" stroke="#0000ff" stroke-width="2.2"/>
<line x1="1419" y1="733" x2="1438" y2="733" stroke="#0000ff" stroke-width="2.2"/>
<line x1="1419" y1="743" x2="1438" y2="743" stroke="#0000ff" stroke-width="2.2"/>
<text transform="translate(1360.6,580)" font-size="17.5">P=0.0042</text>
<text transform="translate(1365,543.8)" font-size="26">Liver</text>
<text transform="translate(1282,727.5) scale(1.07,1) rotate(-90)" font-size="26">log[c.f.u.]g<tspan font-size="18.2" dy="-10.4">-1</tspan></text>
<text transform="translate(1379,789) rotate(-45)" font-size="27.5" text-anchor="end" font-style="italic">Pdcd6<tspan font-size="20.62" dy="-11.55">fl/fl</tspan></text>
<text transform="translate(1434,791) rotate(-45)" font-size="27.5" text-anchor="end" font-style="italic">Pdcd6<tspan font-size="20.62" dy="-11.55">Δmye</tspan></text>
<circle cx="1644.8" cy="504.7" r="5.5" fill="#ff0000"/>
<text transform="translate(1668.3,515.8) scale(1.07,1)" font-size="26.3" font-style="italic">Pdcd6<tspan font-size="19" dy="-12">fl/fl</tspan></text>
<rect x="1639.3" y="530.3" width="11" height="11" fill="#0000ff"/>
<text transform="translate(1668.3,548.2) scale(1.07,1)" font-size="26.3" font-style="italic">Pdcd6<tspan font-size="19" dy="-12">Δmye</tspan></text>
<line x1="1628.3" y1="566.7" x2="1628.3" y2="796.2" stroke="#000" stroke-width="2.2"/>
<line x1="1622.3" y1="795.1" x2="1628.3" y2="795.1" stroke="#000" stroke-width="2.2"/>
<text transform="translate(1619.8,804.05)" font-size="25" text-anchor="end">0</text>
<line x1="1622.3" y1="749.42" x2="1628.3" y2="749.42" stroke="#000" stroke-width="2.2"/>
<text transform="translate(1619.8,758.37)" font-size="25" text-anchor="end">100</text>
<line x1="1622.3" y1="703.74" x2="1628.3" y2="703.74" stroke="#000" stroke-width="2.2"/>
<text transform="translate(1619.8,712.69)" font-size="25" text-anchor="end">200</text>
<line x1="1622.3" y1="658.06" x2="1628.3" y2="658.06" stroke="#000" stroke-width="2.2"/>
<text transform="translate(1619.8,667.01)" font-size="25" text-anchor="end">300</text>
<line x1="1622.3" y1="612.38" x2="1628.3" y2="612.38" stroke="#000" stroke-width="2.2"/>
<text transform="translate(1619.8,621.33)" font-size="25" text-anchor="end">400</text>
<line x1="1622.3" y1="566.7" x2="1628.3" y2="566.7" stroke="#000" stroke-width="2.2"/>
<text transform="translate(1619.8,575.65)" font-size="25" text-anchor="end">500</text>
<rect x="1641" y="635.22" width="23.5" height="159.88" fill="#fff" stroke="#000" stroke-width="2.2" />
<rect x="1664.5" y="623.34" width="25.5" height="171.76" fill="#fff" stroke="#000" stroke-width="2.2" />
<rect x="1717.4" y="674.96" width="25" height="120.14" fill="#fff" stroke="#000" stroke-width="2.2" />
<rect x="1742.4" y="662.17" width="24.4" height="132.93" fill="#fff" stroke="#000" stroke-width="2.2" />
<rect x="1792" y="789.62" width="25" height="5.48" fill="#fff" stroke="#000" stroke-width="2.2" />
<rect x="1817" y="789.62" width="25" height="5.48" fill="#fff" stroke="#000" stroke-width="2.2" />
<line x1="1664.5" y1="622.24" x2="1664.5" y2="795.1" stroke="#000" stroke-width="3.5"/>
<line x1="1742.4" y1="661.07" x2="1742.4" y2="795.1" stroke="#000" stroke-width="3.5"/>
<line x1="1817" y1="788.52" x2="1817" y2="795.1" stroke="#000" stroke-width="3.5"/>
<line x1="1627.2" y1="795.1" x2="1857.5" y2="795.1" stroke="#000" stroke-width="2.2"/>
<line x1="1664.5" y1="795.1" x2="1664.5" y2="802.1" stroke="#000" stroke-width="2.2"/>
<line x1="1742.4" y1="795.1" x2="1742.4" y2="802.1" stroke="#000" stroke-width="2.2"/>
<line x1="1817" y1="795.1" x2="1817" y2="802.1" stroke="#000" stroke-width="2.2"/>
<text transform="translate(1664.5,825.4) scale(1.07,1)" font-size="25" text-anchor="middle">IL-6</text>
<text transform="translate(1742.4,825.4) scale(1.07,1)" font-size="25" text-anchor="middle">TNF</text>
<text transform="translate(1817,825.4) scale(1.07,1)" font-size="25" text-anchor="middle">IL-1β</text>
<polyline points="1653.6,590.8 1653.6,585 1678.6,585 1678.6,590.8" fill="none" stroke="#000" stroke-width="2" stroke-linejoin="miter" stroke-linecap="butt"/>
<text transform="translate(1628.3,580.5)" font-size="17">P=0.6284</text>
<polyline points="1727.7,635 1727.7,629 1755,629 1755,635" fill="none" stroke="#000" stroke-width="2" stroke-linejoin="miter" stroke-linecap="butt"/>
<text transform="translate(1703.6,622.5)" font-size="17">P=0.5180</text>
<polyline points="1803.5,781.4 1803.5,777.2 1828.6,777.2 1828.6,781.4" fill="none" stroke="#000" stroke-width="2" stroke-linejoin="miter" stroke-linecap="butt"/>
<text transform="translate(1777.2,772.7)" font-size="17">P=0.1259</text>
<line x1="1653" y1="614.3" x2="1653" y2="658.4" stroke="#ff0000" stroke-width="2.2"/>
<line x1="1647" y1="614.3" x2="1659" y2="614.3" stroke="#ff0000" stroke-width="2.2"/>
<line x1="1647" y1="658.4" x2="1659" y2="658.4" stroke="#ff0000" stroke-width="2.2"/>
<line x1="1729.2" y1="658.4" x2="1729.2" y2="690.2" stroke="#ff0000" stroke-width="2.2"/>
<line x1="1723.2" y1="658.4" x2="1735.2" y2="658.4" stroke="#ff0000" stroke-width="2.2"/>
<line x1="1723.2" y1="690.2" x2="1735.2" y2="690.2" stroke="#ff0000" stroke-width="2.2"/>
<line x1="1679" y1="607.9" x2="1679" y2="651" stroke="#0000ff" stroke-width="2.2"/>
<line x1="1673" y1="607.9" x2="1685" y2="607.9" stroke="#0000ff" stroke-width="2.2"/>
<line x1="1673" y1="651" x2="1685" y2="651" stroke="#0000ff" stroke-width="2.2"/>
<line x1="1755" y1="652.5" x2="1755" y2="662.8" stroke="#0000ff" stroke-width="2.2"/>
<line x1="1749" y1="652.5" x2="1761" y2="652.5" stroke="#0000ff" stroke-width="2.2"/>
<line x1="1749" y1="662.8" x2="1761" y2="662.8" stroke="#0000ff" stroke-width="2.2"/>
<circle cx="1644.8" cy="601" r="5.3" fill="#ff0000"/>
<circle cx="1653.6" cy="601" r="5.3" fill="#ff0000"/>
<circle cx="1653.6" cy="657.5" r="5.3" fill="#ff0000"/>
<circle cx="1652.7" cy="684.9" r="5.3" fill="#ff0000"/>
<circle cx="1729.2" cy="639.9" r="5.3" fill="#ff0000"/>
<circle cx="1729.2" cy="657.5" r="5.3" fill="#ff0000"/>
<circle cx="1729.2" cy="680.5" r="5.3" fill="#ff0000"/>
<circle cx="1729.2" cy="717.2" r="5.3" fill="#ff0000"/>
<circle cx="1797" cy="789" r="5.3" fill="#ff0000"/>
<circle cx="1803" cy="789" r="5.3" fill="#ff0000"/>
<circle cx="1809" cy="789" r="5.3" fill="#ff0000"/>
<circle cx="1814" cy="789" r="5.3" fill="#ff0000"/>
<rect x="1665.4" y="591.7" width="10" height="10" fill="#0000ff"/>
<rect x="1681.5" y="591.7" width="10" height="10" fill="#0000ff"/>
<rect x="1674.2" y="634.3" width="10" height="10" fill="#0000ff"/>
<rect x="1674.2" y="648.4" width="10" height="10" fill="#0000ff"/>
<rect x="1758" y="639.6" width="10" height="10" fill="#0000ff"/>
<rect x="1750" y="648.4" width="10" height="10" fill="#0000ff"/>
<rect x="1750" y="662.2" width="10" height="10" fill="#0000ff"/>
<rect x="1750" y="676" width="10" height="10" fill="#0000ff"/>
<rect x="1818" y="784" width="10" height="10" fill="#0000ff"/>
<rect x="1825" y="784" width="10" height="10" fill="#0000ff"/>
<rect x="1831" y="784" width="10" height="10" fill="#0000ff"/>
<rect x="1835" y="784" width="10" height="10" fill="#0000ff"/>
<text transform="translate(1568,674) scale(1.07,1) rotate(-90)" font-size="27.7" text-anchor="middle">Cytokines (pg/ml)</text>
<line x1="94" y1="1008.8" x2="116" y2="1008.8" stroke="#ff0000" stroke-width="3"/>
<circle cx="105" cy="1008.8" r="6" fill="#ff0000"/>
<text transform="translate(130.8,1020.5)" font-size="28.5" font-style="italic">Pdcd6<tspan font-size="20.5" dy="-12.5">fl/fl</tspan></text>
<line x1="94" y1="1043.5" x2="116" y2="1043.5" stroke="#0000ff" stroke-width="3"/>
<rect x="99" y="1037.5" width="12" height="12" fill="#0000ff"/>
<text transform="translate(130.8,1055)" font-size="28.5" font-style="italic">Pdcd6<tspan font-size="20.5" dy="-13.5">Δmye</tspan></text>
<line x1="85.8" y1="1076.4" x2="85.8" y2="1281.95" stroke="#000" stroke-width="2.5"/>
<line x1="79.3" y1="1280.7" x2="85.8" y2="1280.7" stroke="#000" stroke-width="2.5"/>
<text transform="translate(77.3,1291.98) scale(0.93,1)" font-size="31.5" text-anchor="end">0</text>
<line x1="79.3" y1="1243.66" x2="85.8" y2="1243.66" stroke="#000" stroke-width="2.5"/>
<text transform="translate(77.3,1254.94) scale(0.93,1)" font-size="31.5" text-anchor="end">20</text>
<line x1="79.3" y1="1206.62" x2="85.8" y2="1206.62" stroke="#000" stroke-width="2.5"/>
<text transform="translate(77.3,1217.9) scale(0.93,1)" font-size="31.5" text-anchor="end">40</text>
<line x1="79.3" y1="1169.58" x2="85.8" y2="1169.58" stroke="#000" stroke-width="2.5"/>
<text transform="translate(77.3,1180.86) scale(0.93,1)" font-size="31.5" text-anchor="end">60</text>
<line x1="79.3" y1="1132.54" x2="85.8" y2="1132.54" stroke="#000" stroke-width="2.5"/>
<text transform="translate(77.3,1143.82) scale(0.93,1)" font-size="31.5" text-anchor="end">80</text>
<line x1="79.3" y1="1095.5" x2="85.8" y2="1095.5" stroke="#000" stroke-width="2.5"/>
<text transform="translate(77.3,1106.78) scale(0.93,1)" font-size="31.5" text-anchor="end">100</text>
<line x1="84.55" y1="1280.7" x2="393.3" y2="1280.7" stroke="#000" stroke-width="2.5"/>
<line x1="85.8" y1="1280.7" x2="85.8" y2="1287.2" stroke="#000" stroke-width="2.5"/>
<text transform="translate(85.8,1314.5)" font-size="30" text-anchor="middle">0</text>
<line x1="116.55" y1="1280.7" x2="116.55" y2="1287.2" stroke="#000" stroke-width="2.5"/>
<text transform="translate(116.55,1314.5)" font-size="30" text-anchor="middle">1</text>
<line x1="147.3" y1="1280.7" x2="147.3" y2="1287.2" stroke="#000" stroke-width="2.5"/>
<text transform="translate(147.3,1314.5)" font-size="30" text-anchor="middle">2</text>
<line x1="178.05" y1="1280.7" x2="178.05" y2="1287.2" stroke="#000" stroke-width="2.5"/>
<text transform="translate(178.05,1314.5)" font-size="30" text-anchor="middle">3</text>
<line x1="208.8" y1="1280.7" x2="208.8" y2="1287.2" stroke="#000" stroke-width="2.5"/>
<text transform="translate(208.8,1314.5)" font-size="30" text-anchor="middle">4</text>
<line x1="239.55" y1="1280.7" x2="239.55" y2="1287.2" stroke="#000" stroke-width="2.5"/>
<text transform="translate(239.55,1314.5)" font-size="30" text-anchor="middle">5</text>
<line x1="270.3" y1="1280.7" x2="270.3" y2="1287.2" stroke="#000" stroke-width="2.5"/>
<text transform="translate(270.3,1314.5)" font-size="30" text-anchor="middle">6</text>
<line x1="301.05" y1="1280.7" x2="301.05" y2="1287.2" stroke="#000" stroke-width="2.5"/>
<text transform="translate(301.05,1314.5)" font-size="30" text-anchor="middle">7</text>
<line x1="331.8" y1="1280.7" x2="331.8" y2="1287.2" stroke="#000" stroke-width="2.5"/>
<text transform="translate(331.8,1314.5)" font-size="30" text-anchor="middle">8</text>
<line x1="362.55" y1="1280.7" x2="362.55" y2="1287.2" stroke="#000" stroke-width="2.5"/>
<text transform="translate(362.55,1314.5)" font-size="30" text-anchor="middle">9</text>
<line x1="393.3" y1="1280.7" x2="393.3" y2="1287.2" stroke="#000" stroke-width="2.5"/>
<text transform="translate(393.3,1314.5)" font-size="30" text-anchor="middle">10</text>
<text transform="translate(235.8,1349.8)" font-size="28" text-anchor="middle">Days after <tspan font-style="italic">F.n.</tspan> infection</text>
<text transform="translate(29,1172) rotate(-90)" font-size="28" text-anchor="middle">Survival (%)</text>
<polyline points="85.8,1095.5 239.55,1095.5 239.55,1126.43 270.3,1126.43 270.3,1157.17 301.05,1157.17 301.05,1188.1 393.3,1188.1 393.3,1188.1" fill="none" stroke="#0000ff" stroke-width="3" stroke-linejoin="miter" stroke-linecap="butt"/>
<rect x="233.55" y="1120.43" width="12" height="12" fill="#0000ff"/>
<rect x="264.3" y="1151.17" width="12" height="12" fill="#0000ff"/>
<rect x="295.05" y="1182.1" width="12" height="12" fill="#0000ff"/>
<rect x="387.3" y="1182.1" width="12" height="12" fill="#0000ff"/>
<polyline points="85.8,1095.5 208.8,1095.5 208.8,1126.43 239.55,1126.43 239.55,1188.1 270.3,1188.1 270.3,1249.77 301.05,1249.77 301.05,1280.7" fill="none" stroke="#ff0000" stroke-width="3" stroke-linejoin="miter" stroke-linecap="butt"/>
<circle cx="208.8" cy="1126.43" r="6.2" fill="#ff0000"/>
<circle cx="239.55" cy="1188.1" r="6.2" fill="#ff0000"/>
<circle cx="270.3" cy="1249.77" r="6.2" fill="#ff0000"/>
<circle cx="301.05" cy="1280.7" r="6.2" fill="#ff0000"/>
<line x1="403.6" y1="1188.7" x2="403.6" y2="1271.9" stroke="#000" stroke-width="2.5"/>
<text transform="translate(418,1189.6) rotate(90)" font-size="20">P=0.0382</text>
<line x1="605.8" y1="992.6" x2="630" y2="992.6" stroke="#ff0000" stroke-width="3"/>
<circle cx="617.9" cy="992.6" r="6" fill="#ff0000"/>
<text transform="translate(644,1005) scale(1.07,1)" font-size="29" font-style="italic">Pdcd6<tspan font-size="21" dy="-13">fl/fl</tspan></text>
<line x1="605.8" y1="1032.9" x2="630" y2="1032.9" stroke="#0000ff" stroke-width="3"/>
<rect x="611.9" y="1026.9" width="12" height="12" fill="#0000ff"/>
<text transform="translate(644,1046) scale(1.07,1)" font-size="29" font-style="italic">Pdcd6<tspan font-size="21" dy="-14">Δmye</tspan></text>
<line x1="597" y1="1058.5" x2="597" y2="1281.65" stroke="#000" stroke-width="2.5"/>
<line x1="590.5" y1="1280.4" x2="597" y2="1280.4" stroke="#000" stroke-width="2.5"/>
<text transform="translate(587,1289.78) scale(1.07,1)" font-size="26.2" text-anchor="end">70</text>
<line x1="590.5" y1="1224.92" x2="597" y2="1224.92" stroke="#000" stroke-width="2.5"/>
<text transform="translate(587,1234.3) scale(1.07,1)" font-size="26.2" text-anchor="end">80</text>
<line x1="590.5" y1="1169.44" x2="597" y2="1169.44" stroke="#000" stroke-width="2.5"/>
<text transform="translate(587,1178.82) scale(1.07,1)" font-size="26.2" text-anchor="end">90</text>
<line x1="590.5" y1="1113.96" x2="597" y2="1113.96" stroke="#000" stroke-width="2.5"/>
<text transform="translate(587,1123.34) scale(1.07,1)" font-size="26.2" text-anchor="end">100</text>
<line x1="590.5" y1="1058.48" x2="597" y2="1058.48" stroke="#000" stroke-width="2.5"/>
<text transform="translate(587,1067.86) scale(1.07,1)" font-size="26.2" text-anchor="end">110</text>
<line x1="595.75" y1="1280.4" x2="929" y2="1280.4" stroke="#000" stroke-width="2.5"/>
<line x1="611.4" y1="1280.4" x2="611.4" y2="1286.9" stroke="#000" stroke-width="2.5"/>
<text transform="translate(611.4,1312) scale(1.07,1)" font-size="26.2" text-anchor="middle">0</text>
<line x1="641.61" y1="1280.4" x2="641.61" y2="1286.9" stroke="#000" stroke-width="2.5"/>
<text transform="translate(641.61,1312) scale(1.07,1)" font-size="26.2" text-anchor="middle">1</text>
<line x1="671.82" y1="1280.4" x2="671.82" y2="1286.9" stroke="#000" stroke-width="2.5"/>
<text transform="translate(671.82,1312) scale(1.07,1)" font-size="26.2" text-anchor="middle">2</text>
<line x1="702.03" y1="1280.4" x2="702.03" y2="1286.9" stroke="#000" stroke-width="2.5"/>
<text transform="translate(702.03,1312) scale(1.07,1)" font-size="26.2" text-anchor="middle">3</text>
<line x1="732.24" y1="1280.4" x2="732.24" y2="1286.9" stroke="#000" stroke-width="2.5"/>
<text transform="translate(732.24,1312) scale(1.07,1)" font-size="26.2" text-anchor="middle">4</text>
<line x1="762.45" y1="1280.4" x2="762.45" y2="1286.9" stroke="#000" stroke-width="2.5"/>
<text transform="translate(762.45,1312) scale(1.07,1)" font-size="26.2" text-anchor="middle">5</text>
<line x1="792.66" y1="1280.4" x2="792.66" y2="1286.9" stroke="#000" stroke-width="2.5"/>
<text transform="translate(792.66,1312) scale(1.07,1)" font-size="26.2" text-anchor="middle">6</text>
<line x1="822.87" y1="1280.4" x2="822.87" y2="1286.9" stroke="#000" stroke-width="2.5"/>
<text transform="translate(822.87,1312) scale(1.07,1)" font-size="26.2" text-anchor="middle">7</text>
<line x1="853.08" y1="1280.4" x2="853.08" y2="1286.9" stroke="#000" stroke-width="2.5"/>
<text transform="translate(853.08,1312) scale(1.07,1)" font-size="26.2" text-anchor="middle">8</text>
<line x1="883.29" y1="1280.4" x2="883.29" y2="1286.9" stroke="#000" stroke-width="2.5"/>
<text transform="translate(883.29,1312) scale(1.07,1)" font-size="26.2" text-anchor="middle">9</text>
<line x1="913.5" y1="1280.4" x2="913.5" y2="1286.9" stroke="#000" stroke-width="2.5"/>
<text transform="translate(913.5,1312) scale(1.07,1)" font-size="26.2" text-anchor="middle">10</text>
<text transform="translate(763.3,1348.9) scale(1.03,1)" font-size="26.5" text-anchor="middle">Days after <tspan font-style="italic">F.n.</tspan> infection</text>
<text transform="translate(532.5,1162) rotate(-90)" font-size="27.5" text-anchor="middle">Body weight change (%)</text>
<line x1="702.03" y1="1168.33" x2="702.03" y2="1182.2" stroke="#ff0000" stroke-width="2.5"/>
<line x1="696.53" y1="1168.33" x2="707.53" y2="1168.33" stroke="#ff0000" stroke-width="2.5"/>
<line x1="732.24" y1="1199.4" x2="732.24" y2="1213.82" stroke="#ff0000" stroke-width="2.5"/>
<line x1="726.74" y1="1199.4" x2="737.74" y2="1199.4" stroke="#ff0000" stroke-width="2.5"/>
<line x1="762.45" y1="1218.26" x2="762.45" y2="1229.36" stroke="#ff0000" stroke-width="2.5"/>
<line x1="756.95" y1="1218.26" x2="767.95" y2="1218.26" stroke="#ff0000" stroke-width="2.5"/>
<line x1="792.66" y1="1232.69" x2="792.66" y2="1238.24" stroke="#ff0000" stroke-width="2.5"/>
<line x1="787.16" y1="1232.69" x2="798.16" y2="1232.69" stroke="#ff0000" stroke-width="2.5"/>
<polyline points="611.4,1113.96 641.61,1123.39 671.82,1140.59 702.03,1182.2 732.24,1213.82 762.45,1229.36 792.66,1238.24 822.87,1260.43" fill="none" stroke="#ff0000" stroke-width="3" stroke-linejoin="round" stroke-linecap="butt"/>
<circle cx="611.4" cy="1113.96" r="6.5" fill="#ff0000"/>
<circle cx="641.61" cy="1123.39" r="6.5" fill="#ff0000"/>
<circle cx="671.82" cy="1140.59" r="6.5" fill="#ff0000"/>
<circle cx="702.03" cy="1182.2" r="6.5" fill="#ff0000"/>
<circle cx="732.24" cy="1213.82" r="6.5" fill="#ff0000"/>
<circle cx="762.45" cy="1229.36" r="6.5" fill="#ff0000"/>
<circle cx="792.66" cy="1238.24" r="6.5" fill="#ff0000"/>
<circle cx="822.87" cy="1260.43" r="6.5" fill="#ff0000"/>
<line x1="702.03" y1="1156.68" x2="702.03" y2="1166.11" stroke="#0000ff" stroke-width="2.5"/>
<line x1="696.53" y1="1156.68" x2="707.53" y2="1156.68" stroke="#0000ff" stroke-width="2.5"/>
<line x1="732.24" y1="1163.34" x2="732.24" y2="1172.77" stroke="#0000ff" stroke-width="2.5"/>
<line x1="726.74" y1="1163.34" x2="737.74" y2="1163.34" stroke="#0000ff" stroke-width="2.5"/>
<line x1="762.45" y1="1155.57" x2="762.45" y2="1167.78" stroke="#0000ff" stroke-width="2.5"/>
<line x1="756.95" y1="1155.57" x2="767.95" y2="1155.57" stroke="#0000ff" stroke-width="2.5"/>
<line x1="792.66" y1="1141.7" x2="792.66" y2="1156.68" stroke="#0000ff" stroke-width="2.5"/>
<line x1="787.16" y1="1141.7" x2="798.16" y2="1141.7" stroke="#0000ff" stroke-width="2.5"/>
<line x1="822.87" y1="1127.83" x2="822.87" y2="1139.48" stroke="#0000ff" stroke-width="2.5"/>
<line x1="817.37" y1="1127.83" x2="828.37" y2="1127.83" stroke="#0000ff" stroke-width="2.5"/>
<line x1="853.08" y1="1115.07" x2="853.08" y2="1123.39" stroke="#0000ff" stroke-width="2.5"/>
<line x1="847.58" y1="1115.07" x2="858.58" y2="1115.07" stroke="#0000ff" stroke-width="2.5"/>
<line x1="883.29" y1="1105.64" x2="883.29" y2="1112.85" stroke="#0000ff" stroke-width="2.5"/>
<line x1="877.79" y1="1105.64" x2="888.79" y2="1105.64" stroke="#0000ff" stroke-width="2.5"/>
<polyline points="611.4,1113.96 641.61,1125.61 671.82,1141.15 702.03,1166.11 732.24,1172.77 762.45,1167.78 792.66,1156.68 822.87,1139.48 853.08,1123.39 883.29,1112.85 913.5,1102.86" fill="none" stroke="#0000ff" stroke-width="3" stroke-linejoin="round" stroke-linecap="butt"/>
<rect x="605.4" y="1107.96" width="12" height="12" fill="#0000ff"/>
<rect x="635.61" y="1119.61" width="12" height="12" fill="#0000ff"/>
<rect x="665.82" y="1135.15" width="12" height="12" fill="#0000ff"/>
<rect x="696.03" y="1160.11" width="12" height="12" fill="#0000ff"/>
<rect x="726.24" y="1166.77" width="12" height="12" fill="#0000ff"/>
<rect x="756.45" y="1161.78" width="12" height="12" fill="#0000ff"/>
<rect x="786.66" y="1150.68" width="12" height="12" fill="#0000ff"/>
<rect x="816.87" y="1133.48" width="12" height="12" fill="#0000ff"/>
<rect x="847.08" y="1117.39" width="12" height="12" fill="#0000ff"/>
<rect x="877.29" y="1106.85" width="12" height="12" fill="#0000ff"/>
<rect x="907.5" y="1096.86" width="12" height="12" fill="#0000ff"/>
<text transform="translate(612.2,1110)" font-size="20.5">P=0.6575</text>
<text transform="translate(675.4,1130)" font-size="20.5">P=0.7469</text>
<text transform="translate(622.5,1212)" font-size="20.5">P=0.0453</text>
<text transform="translate(657.2,1245.4)" font-size="20.5">P=0.0062</text>
<text transform="translate(716.6,1266)" font-size="20.5">P=0.0075</text>
<text transform="translate(816,1245.4)" font-size="20.5">P=0.002</text>
<line x1="1059.3" y1="1054.9" x2="1059.3" y2="1248.6" stroke="#000" stroke-width="2.2"/>
<line x1="1051.3" y1="1247.5" x2="1059.3" y2="1247.5" stroke="#000" stroke-width="2.2"/>
<text transform="translate(1048.3,1256.81) scale(1.07,1)" font-size="26" text-anchor="end">0</text>
<line x1="1051.3" y1="1199.35" x2="1059.3" y2="1199.35" stroke="#000" stroke-width="2.2"/>
<text transform="translate(1048.3,1208.66) scale(1.07,1)" font-size="26" text-anchor="end">10</text>
<line x1="1051.3" y1="1151.2" x2="1059.3" y2="1151.2" stroke="#000" stroke-width="2.2"/>
<text transform="translate(1048.3,1160.51) scale(1.07,1)" font-size="26" text-anchor="end">20</text>
<line x1="1051.3" y1="1103.05" x2="1059.3" y2="1103.05" stroke="#000" stroke-width="2.2"/>
<text transform="translate(1048.3,1112.36) scale(1.07,1)" font-size="26" text-anchor="end">30</text>
<line x1="1051.3" y1="1054.9" x2="1059.3" y2="1054.9" stroke="#000" stroke-width="2.2"/>
<text transform="translate(1048.3,1064.21) scale(1.07,1)" font-size="26" text-anchor="end">40</text>
<rect x="1078.4" y="1126.16" width="34.4" height="121.34" fill="#fff" stroke="#000" stroke-width="2.2" />
<rect x="1133.4" y="1188.76" width="34.7" height="58.74" fill="#fff" stroke="#000" stroke-width="2.2" />
<line x1="1058.2" y1="1247.5" x2="1188.7" y2="1247.5" stroke="#000" stroke-width="2.2"/>
<line x1="1095.5" y1="1247.5" x2="1095.5" y2="1255.5" stroke="#000" stroke-width="2.2"/>
<line x1="1151" y1="1247.5" x2="1151" y2="1255.5" stroke="#000" stroke-width="2.2"/>
<polyline points="1095.5,1087.3 1095.5,1082.9 1151,1082.9 1151,1216.6" fill="none" stroke="#000" stroke-width="2.2" stroke-linejoin="miter" stroke-linecap="butt"/>
<circle cx="1095.5" cy="1101.4" r="5.4" fill="#ff0000"/>
<circle cx="1095.5" cy="1114.3" r="5.4" fill="#ff0000"/>
<circle cx="1095.5" cy="1126.4" r="5.4" fill="#ff0000"/>
<circle cx="1095.5" cy="1159.9" r="5.4" fill="#ff0000"/>
<rect x="1132.2" y="1174.3" width="10" height="10" fill="#0000ff"/>
<rect x="1159.3" y="1177.8" width="10" height="10" fill="#0000ff"/>
<rect x="1146" y="1183.7" width="10" height="10" fill="#0000ff"/>
<rect x="1146" y="1196.9" width="10" height="10" fill="#0000ff"/>
<line x1="1095.5" y1="1113" x2="1095.5" y2="1137.8" stroke="#ff0000" stroke-width="2.2"/>
<line x1="1086" y1="1113" x2="1105" y2="1113" stroke="#ff0000" stroke-width="2.2"/>
<line x1="1086" y1="1137.8" x2="1105" y2="1137.8" stroke="#ff0000" stroke-width="2.2"/>
<line x1="1151" y1="1185.7" x2="1151" y2="1193" stroke="#0000ff" stroke-width="2.2"/>
<line x1="1141.5" y1="1185.7" x2="1160.5" y2="1185.7" stroke="#0000ff" stroke-width="2.2"/>
<line x1="1141.5" y1="1193" x2="1160.5" y2="1193" stroke="#0000ff" stroke-width="2.2"/>
<text transform="translate(1084.3,1074.9)" font-size="17.5">P=0.0034</text>
<text transform="translate(1076.4,1034.3)" font-size="26">Spleen</text>
<text transform="translate(1004,1212) scale(1.07,1) rotate(-90)" font-size="26">log[c.f.u.]g<tspan font-size="18.2" dy="-10.4">-1</tspan></text>
<text transform="translate(1103,1275) rotate(-45)" font-size="27.5" text-anchor="end" font-style="italic">Pdcd6<tspan font-size="20.62" dy="-11.55">fl/fl</tspan></text>
<text transform="translate(1158,1276) rotate(-45)" font-size="27.5" text-anchor="end" font-style="italic">Pdcd6<tspan font-size="20.62" dy="-11.55">Δmye</tspan></text>
<line x1="1329.8" y1="1069.6" x2="1329.8" y2="1255.9" stroke="#000" stroke-width="2.2"/>
<line x1="1321.8" y1="1254.8" x2="1329.8" y2="1254.8" stroke="#000" stroke-width="2.2"/>
<text transform="translate(1318.8,1264.11) scale(1.07,1)" font-size="26" text-anchor="end">0</text>
<line x1="1321.8" y1="1208.5" x2="1329.8" y2="1208.5" stroke="#000" stroke-width="2.2"/>
<text transform="translate(1318.8,1217.81) scale(1.07,1)" font-size="26" text-anchor="end">5</text>
<line x1="1321.8" y1="1162.2" x2="1329.8" y2="1162.2" stroke="#000" stroke-width="2.2"/>
<text transform="translate(1318.8,1171.51) scale(1.07,1)" font-size="26" text-anchor="end">10</text>
<line x1="1321.8" y1="1115.9" x2="1329.8" y2="1115.9" stroke="#000" stroke-width="2.2"/>
<text transform="translate(1318.8,1125.21) scale(1.07,1)" font-size="26" text-anchor="end">15</text>
<line x1="1321.8" y1="1069.6" x2="1329.8" y2="1069.6" stroke="#000" stroke-width="2.2"/>
<text transform="translate(1318.8,1078.91) scale(1.07,1)" font-size="26" text-anchor="end">20</text>
<rect x="1347.4" y="1124.7" width="34.4" height="130.1" fill="#fff" stroke="#000" stroke-width="2.2" />
<rect x="1400.8" y="1207.57" width="34.4" height="47.23" fill="#fff" stroke="#000" stroke-width="2.2" />
<line x1="1328.7" y1="1254.8" x2="1453.7" y2="1254.8" stroke="#000" stroke-width="2.2"/>
<line x1="1364.4" y1="1254.8" x2="1364.4" y2="1262.8" stroke="#000" stroke-width="2.2"/>
<line x1="1417.6" y1="1254.8" x2="1417.6" y2="1262.8" stroke="#000" stroke-width="2.2"/>
<polyline points="1364.4,1071 1364.4,1066 1417.6,1066 1417.6,1187" fill="none" stroke="#000" stroke-width="2.2" stroke-linejoin="miter" stroke-linecap="butt"/>
<circle cx="1364.4" cy="1082.3" r="5.4" fill="#ff0000"/>
<circle cx="1364.4" cy="1112.8" r="5.4" fill="#ff0000"/>
<circle cx="1364.4" cy="1138.1" r="5.4" fill="#ff0000"/>
<circle cx="1364.4" cy="1165.2" r="5.4" fill="#ff0000"/>
<rect x="1412.6" y="1187.5" width="10" height="10" fill="#0000ff"/>
<rect x="1412.6" y="1199.8" width="10" height="10" fill="#0000ff"/>
<rect x="1399.3" y="1214.5" width="10" height="10" fill="#0000ff"/>
<rect x="1426.4" y="1208.7" width="10" height="10" fill="#0000ff"/>
<line x1="1364.4" y1="1107" x2="1364.4" y2="1142.5" stroke="#ff0000" stroke-width="2.2"/>
<line x1="1354.9" y1="1107" x2="1373.9" y2="1107" stroke="#ff0000" stroke-width="2.2"/>
<line x1="1354.9" y1="1142.5" x2="1373.9" y2="1142.5" stroke="#ff0000" stroke-width="2.2"/>
<line x1="1417.6" y1="1201.9" x2="1417.6" y2="1212.2" stroke="#0000ff" stroke-width="2.2"/>
<line x1="1408.1" y1="1201.9" x2="1427.1" y2="1201.9" stroke="#0000ff" stroke-width="2.2"/>
<line x1="1408.1" y1="1212.2" x2="1427.1" y2="1212.2" stroke="#0000ff" stroke-width="2.2"/>
<text transform="translate(1353.3,1060.2)" font-size="17.5">P=0.0044</text>
<text transform="translate(1356.2,1027)" font-size="26">Liver</text>
<text transform="translate(1283,1221) scale(1.07,1) rotate(-90)" font-size="25">log[c.f.u.]g<tspan font-size="17.5" dy="-10">-1</tspan></text>
<text transform="translate(1371,1277) rotate(-45)" font-size="27.5" text-anchor="end" font-style="italic">Pdcd6<tspan font-size="20.62" dy="-11.55">fl/fl</tspan></text>
<text transform="translate(1424,1280) rotate(-45)" font-size="27.5" text-anchor="end" font-style="italic">Pdcd6<tspan font-size="20.62" dy="-11.55">Δmye</tspan></text>
<circle cx="1642.4" cy="983.8" r="5.5" fill="#ff0000"/>
<text transform="translate(1665.4,994) scale(1.07,1)" font-size="26.3" font-style="italic">Pdcd6<tspan font-size="19" dy="-12">fl/fl</tspan></text>
<rect x="1636.9" y="1014.2" width="11" height="11" fill="#0000ff"/>
<text transform="translate(1665.4,1031.4) scale(1.07,1)" font-size="26.3" font-style="italic">Pdcd6<tspan font-size="19" dy="-12">Δmye</tspan></text>
<line x1="1624.8" y1="1060.8" x2="1624.8" y2="1285.3" stroke="#000" stroke-width="2.2"/>
<line x1="1618.8" y1="1284.2" x2="1624.8" y2="1284.2" stroke="#000" stroke-width="2.2"/>
<text transform="translate(1616.3,1293.15)" font-size="25" text-anchor="end">0</text>
<line x1="1618.8" y1="1209.74" x2="1624.8" y2="1209.74" stroke="#000" stroke-width="2.2"/>
<text transform="translate(1616.3,1218.69)" font-size="25" text-anchor="end">50</text>
<line x1="1618.8" y1="1135.27" x2="1624.8" y2="1135.27" stroke="#000" stroke-width="2.2"/>
<text transform="translate(1616.3,1144.22)" font-size="25" text-anchor="end">100</text>
<line x1="1618.8" y1="1060.81" x2="1624.8" y2="1060.81" stroke="#000" stroke-width="2.2"/>
<text transform="translate(1616.3,1069.76)" font-size="25" text-anchor="end">150</text>
<rect x="1638" y="1101.02" width="23.5" height="183.18" fill="#fff" stroke="#000" stroke-width="2.2" />
<rect x="1661.5" y="1100.57" width="25.6" height="183.63" fill="#fff" stroke="#000" stroke-width="2.2" />
<rect x="1713.9" y="1150.16" width="24.1" height="134.04" fill="#fff" stroke="#000" stroke-width="2.2" />
<rect x="1738" y="1149.27" width="23.5" height="134.93" fill="#fff" stroke="#000" stroke-width="2.2" />
<rect x="1788.5" y="1270.05" width="23.8" height="14.15" fill="#fff" stroke="#000" stroke-width="2.2" />
<rect x="1812.3" y="1269.31" width="24.7" height="14.89" fill="#fff" stroke="#000" stroke-width="2.2" />
<line x1="1661.5" y1="1099.47" x2="1661.5" y2="1284.2" stroke="#000" stroke-width="3.5"/>
<line x1="1738" y1="1148.17" x2="1738" y2="1284.2" stroke="#000" stroke-width="3.5"/>
<line x1="1812.3" y1="1268.21" x2="1812.3" y2="1284.2" stroke="#000" stroke-width="3.5"/>
<line x1="1623.7" y1="1284.2" x2="1851.2" y2="1284.2" stroke="#000" stroke-width="2.2"/>
<line x1="1661.5" y1="1284.2" x2="1661.5" y2="1291.2" stroke="#000" stroke-width="2.2"/>
<line x1="1738" y1="1284.2" x2="1738" y2="1291.2" stroke="#000" stroke-width="2.2"/>
<line x1="1812.3" y1="1284.2" x2="1812.3" y2="1291.2" stroke="#000" stroke-width="2.2"/>
<text transform="translate(1661.5,1313.6) scale(1.07,1)" font-size="25" text-anchor="middle">IL-6</text>
<text transform="translate(1738,1313.6) scale(1.07,1)" font-size="25" text-anchor="middle">TNF</text>
<text transform="translate(1812.3,1313.6) scale(1.07,1)" font-size="25" text-anchor="middle">IL-1β</text>
<polyline points="1649.8,1066 1649.8,1060.2 1674.8,1060.2 1674.8,1066" fill="none" stroke="#000" stroke-width="2" stroke-linejoin="miter" stroke-linecap="butt"/>
<text transform="translate(1625.7,1056.4)" font-size="17">P=0.9814</text>
<polyline points="1724.7,1123.4 1724.7,1117.5 1749.7,1117.5 1749.7,1123.4" fill="none" stroke="#000" stroke-width="2" stroke-linejoin="miter" stroke-linecap="butt"/>
<text transform="translate(1700.6,1112.2)" font-size="17">P=0.9070</text>
<polyline points="1799.3,1257 1799.3,1253 1826.1,1253 1826.1,1257" fill="none" stroke="#000" stroke-width="2" stroke-linejoin="miter" stroke-linecap="butt"/>
<text transform="translate(1776.7,1247.5)" font-size="17">P=0.6331</text>
<line x1="1650" y1="1089.4" x2="1650" y2="1110.2" stroke="#ff0000" stroke-width="2.2"/>
<line x1="1644" y1="1089.4" x2="1656" y2="1089.4" stroke="#ff0000" stroke-width="2.2"/>
<line x1="1644" y1="1110.2" x2="1656" y2="1110.2" stroke="#ff0000" stroke-width="2.2"/>
<line x1="1725" y1="1143.4" x2="1725" y2="1155.4" stroke="#ff0000" stroke-width="2.2"/>
<line x1="1719" y1="1143.4" x2="1731" y2="1143.4" stroke="#ff0000" stroke-width="2.2"/>
<line x1="1719" y1="1155.4" x2="1731" y2="1155.4" stroke="#ff0000" stroke-width="2.2"/>
<line x1="1674.8" y1="1089" x2="1674.8" y2="1112" stroke="#0000ff" stroke-width="2.2"/>
<line x1="1668.8" y1="1089" x2="1680.8" y2="1089" stroke="#0000ff" stroke-width="2.2"/>
<line x1="1668.8" y1="1112" x2="1680.8" y2="1112" stroke="#0000ff" stroke-width="2.2"/>
<line x1="1750" y1="1141" x2="1750" y2="1155" stroke="#0000ff" stroke-width="2.2"/>
<line x1="1744" y1="1141" x2="1756" y2="1141" stroke="#0000ff" stroke-width="2.2"/>
<line x1="1744" y1="1155" x2="1756" y2="1155" stroke="#0000ff" stroke-width="2.2"/>
<circle cx="1650" cy="1080.1" r="5.3" fill="#ff0000"/>
<circle cx="1650" cy="1095.7" r="5.3" fill="#ff0000"/>
<circle cx="1658" cy="1093.7" r="5.3" fill="#ff0000"/>
<circle cx="1650" cy="1128.3" r="5.3" fill="#ff0000"/>
<circle cx="1725" cy="1135.9" r="5.3" fill="#ff0000"/>
<circle cx="1725" cy="1144.6" r="5.3" fill="#ff0000"/>
<circle cx="1717.4" cy="1161.7" r="5.3" fill="#ff0000"/>
<circle cx="1733.3" cy="1155.4" r="5.3" fill="#ff0000"/>
<circle cx="1792" cy="1267.6" r="5.3" fill="#ff0000"/>
<circle cx="1798.5" cy="1266" r="5.3" fill="#ff0000"/>
<circle cx="1803.5" cy="1267.6" r="5.3" fill="#ff0000"/>
<circle cx="1808.6" cy="1267.6" r="5.3" fill="#ff0000"/>
<rect x="1669.8" y="1068.8" width="10" height="10" fill="#0000ff"/>
<rect x="1669.8" y="1083.1" width="10" height="10" fill="#0000ff"/>
<rect x="1661.7" y="1117" width="10" height="10" fill="#0000ff"/>
<rect x="1678" y="1112" width="10" height="10" fill="#0000ff"/>
<rect x="1745" y="1125.8" width="10" height="10" fill="#0000ff"/>
<rect x="1745" y="1136.6" width="10" height="10" fill="#0000ff"/>
<rect x="1745" y="1150.2" width="10" height="10" fill="#0000ff"/>
<rect x="1745" y="1161" width="10" height="10" fill="#0000ff"/>
<rect x="1812.5" y="1263" width="10" height="10" fill="#0000ff"/>
<rect x="1819" y="1259" width="10" height="10" fill="#0000ff"/>
<rect x="1827.6" y="1263" width="10" height="10" fill="#0000ff"/>
<text transform="translate(1565,1166) scale(1.07,1) rotate(-90)" font-size="27.7" text-anchor="middle">Cytokines (pg/ml)</text>
<circle cx="197.9" cy="1435" r="6.5" fill="#ff0000"/>
<text transform="translate(226.2,1449.5) scale(1.07,1)" font-size="31" font-style="italic">Pdcd6<tspan font-size="22" dy="-14">fl/fl</tspan></text>
<rect x="191.65" y="1471.55" width="12.5" height="12.5" fill="#0000ff"/>
<text transform="translate(226.2,1491.9) scale(1.07,1)" font-size="31" font-style="italic">Pdcd6<tspan font-size="22" dy="-15">Δmye</tspan></text>
<line x1="175.3" y1="1501.6" x2="175.3" y2="1743.4" stroke="#000" stroke-width="3"/>
<line x1="165.3" y1="1741.9" x2="175.3" y2="1741.9" stroke="#000" stroke-width="3"/>
<text transform="translate(161.3,1753.54)" font-size="32.5" text-anchor="end">0</text>
<line x1="165.3" y1="1693.84" x2="175.3" y2="1693.84" stroke="#000" stroke-width="3"/>
<text transform="translate(161.3,1705.48)" font-size="32.5" text-anchor="end">50</text>
<line x1="165.3" y1="1645.78" x2="175.3" y2="1645.78" stroke="#000" stroke-width="3"/>
<text transform="translate(161.3,1657.42)" font-size="32.5" text-anchor="end">100</text>
<line x1="165.3" y1="1597.72" x2="175.3" y2="1597.72" stroke="#000" stroke-width="3"/>
<text transform="translate(161.3,1609.36)" font-size="32.5" text-anchor="end">150</text>
<line x1="165.3" y1="1549.66" x2="175.3" y2="1549.66" stroke="#000" stroke-width="3"/>
<text transform="translate(161.3,1561.3)" font-size="32.5" text-anchor="end">200</text>
<line x1="165.3" y1="1501.6" x2="175.3" y2="1501.6" stroke="#000" stroke-width="3"/>
<text transform="translate(161.3,1513.24)" font-size="32.5" text-anchor="end">250</text>
<rect x="189" y="1738.06" width="24.8" height="3.84" fill="#fff" stroke="#000" stroke-width="3.5" />
<rect x="213.8" y="1738.06" width="25.7" height="3.84" fill="#fff" stroke="#000" stroke-width="3.5" />
<rect x="268.5" y="1593.88" width="25.2" height="148.02" fill="#fff" stroke="#000" stroke-width="3.5" />
<rect x="293.7" y="1576.57" width="26.4" height="165.33" fill="#fff" stroke="#000" stroke-width="3.5" />
<rect x="347.9" y="1613.58" width="25.1" height="128.32" fill="#fff" stroke="#000" stroke-width="3.5" />
<rect x="373" y="1626.56" width="25.9" height="115.34" fill="#fff" stroke="#000" stroke-width="3.5" />
<line x1="173.8" y1="1741.9" x2="414" y2="1741.9" stroke="#000" stroke-width="3"/>
<line x1="214.3" y1="1741.9" x2="214.3" y2="1752.9" stroke="#000" stroke-width="3"/>
<line x1="293.7" y1="1741.9" x2="293.7" y2="1752.9" stroke="#000" stroke-width="3"/>
<line x1="373" y1="1741.9" x2="373" y2="1752.9" stroke="#000" stroke-width="3"/>
<text transform="translate(214.3,1781.5)" font-size="31" text-anchor="middle">0</text>
<text transform="translate(293.7,1781.5)" font-size="31" text-anchor="middle">4</text>
<text transform="translate(373,1781.5)" font-size="31" text-anchor="middle">8</text>
<text transform="translate(170,1781.5)" font-size="31" text-anchor="end"><tspan font-style="italic">L. m.</tspan> (h)</text>
<polyline points="201,1725.4 201,1720.7 228,1720.7 228,1725.4" fill="none" stroke="#000" stroke-width="2.2" stroke-linejoin="miter" stroke-linecap="butt"/>
<text transform="translate(161.4,1713.3)" font-size="22.7">P=0.8769</text>
<polyline points="279.6,1575.2 279.6,1549.5 307.7,1549.5 307.7,1556.7" fill="none" stroke="#000" stroke-width="2.2" stroke-linejoin="miter" stroke-linecap="butt"/>
<text transform="translate(247.6,1544.1)" font-size="22.7">P=0.0941</text>
<polyline points="359.8,1592.4 359.8,1583.9 387.6,1583.9 387.6,1607" fill="none" stroke="#000" stroke-width="2.2" stroke-linejoin="miter" stroke-linecap="butt"/>
<text transform="translate(328,1576)" font-size="22.7">P=0.3438</text>
<circle cx="281.2" cy="1583.1" r="6" fill="#ff0000"/>
<circle cx="275.1" cy="1597.7" r="6" fill="#ff0000"/>
<circle cx="289.7" cy="1597.7" r="6" fill="#ff0000"/>
<circle cx="361.1" cy="1597.7" r="6" fill="#ff0000"/>
<circle cx="367.7" cy="1614.9" r="6" fill="#ff0000"/>
<circle cx="361.1" cy="1626.8" r="6" fill="#ff0000"/>
<circle cx="194.4" cy="1740.5" r="6" fill="#ff0000"/>
<circle cx="201" cy="1735.2" r="6" fill="#ff0000"/>
<circle cx="209" cy="1737.9" r="6" fill="#ff0000"/>
<rect x="301.95" y="1557.05" width="12.5" height="12.5" fill="#0000ff"/>
<rect x="295.35" y="1579.55" width="12.5" height="12.5" fill="#0000ff"/>
<rect x="308.55" y="1570.25" width="12.5" height="12.5" fill="#0000ff"/>
<rect x="387.95" y="1608.65" width="12.5" height="12.5" fill="#0000ff"/>
<rect x="381.35" y="1615.25" width="12.5" height="12.5" fill="#0000ff"/>
<rect x="381.35" y="1633.75" width="12.5" height="12.5" fill="#0000ff"/>
<rect x="214.65" y="1735.65" width="12.5" height="12.5" fill="#0000ff"/>
<rect x="221.25" y="1728.95" width="12.5" height="12.5" fill="#0000ff"/>
<rect x="230.55" y="1730.35" width="12.5" height="12.5" fill="#0000ff"/>
<line x1="281" y1="1588.2" x2="281" y2="1600" stroke="#ff0000" stroke-width="2.2"/>
<line x1="274" y1="1588.2" x2="288" y2="1588.2" stroke="#ff0000" stroke-width="2.2"/>
<line x1="274" y1="1600" x2="288" y2="1600" stroke="#ff0000" stroke-width="2.2"/>
<line x1="360.6" y1="1604.7" x2="360.6" y2="1625" stroke="#ff0000" stroke-width="2.2"/>
<line x1="353.6" y1="1604.7" x2="367.6" y2="1604.7" stroke="#ff0000" stroke-width="2.2"/>
<line x1="353.6" y1="1625" x2="367.6" y2="1625" stroke="#ff0000" stroke-width="2.2"/>
<text transform="translate(94,1613.5) rotate(-90)" font-size="32" text-anchor="middle">IL-6 (pg/ml)</text>
<line x1="172" y1="1856.3" x2="172" y2="2097.3" stroke="#000" stroke-width="3"/>
<line x1="162" y1="2095.8" x2="172" y2="2095.8" stroke="#000" stroke-width="3"/>
<text transform="translate(158,2107.44)" font-size="32.5" text-anchor="end">0</text>
<line x1="162" y1="2016.05" x2="172" y2="2016.05" stroke="#000" stroke-width="3"/>
<text transform="translate(158,2027.69)" font-size="32.5" text-anchor="end">500</text>
<line x1="162" y1="1936.3" x2="172" y2="1936.3" stroke="#000" stroke-width="3"/>
<text transform="translate(158,1947.94)" font-size="32.5" text-anchor="end">1000</text>
<line x1="162" y1="1856.55" x2="172" y2="1856.55" stroke="#000" stroke-width="3"/>
<text transform="translate(158,1868.19)" font-size="32.5" text-anchor="end">1500</text>
<rect x="184.5" y="2091.81" width="26.3" height="3.99" fill="#fff" stroke="#000" stroke-width="3.5" />
<rect x="210.8" y="2092.29" width="26.2" height="3.51" fill="#fff" stroke="#000" stroke-width="3.5" />
<rect x="265.9" y="1957.83" width="24.3" height="137.97" fill="#fff" stroke="#000" stroke-width="3.5" />
<rect x="290.2" y="1939.81" width="25.9" height="155.99" fill="#fff" stroke="#000" stroke-width="3.5" />
<rect x="345.2" y="1969" width="24.4" height="126.8" fill="#fff" stroke="#000" stroke-width="3.5" />
<rect x="369.6" y="1946.99" width="25.9" height="148.81" fill="#fff" stroke="#000" stroke-width="3.5" />
<line x1="170.5" y1="2095.8" x2="410.6" y2="2095.8" stroke="#000" stroke-width="3"/>
<line x1="210.8" y1="2095.8" x2="210.8" y2="2106.8" stroke="#000" stroke-width="3"/>
<line x1="290.2" y1="2095.8" x2="290.2" y2="2106.8" stroke="#000" stroke-width="3"/>
<line x1="369.6" y1="2095.8" x2="369.6" y2="2106.8" stroke="#000" stroke-width="3"/>
<text transform="translate(210.8,2137.3)" font-size="31" text-anchor="middle">0</text>
<text transform="translate(290.2,2137.3)" font-size="31" text-anchor="middle">4</text>
<text transform="translate(369.6,2137.3)" font-size="31" text-anchor="middle">8</text>
<text transform="translate(168,2137.3)" font-size="31" text-anchor="end"><tspan font-style="italic">L. m.</tspan> (h)</text>
<polyline points="197.9,2077.8 197.9,2073.8 224.9,2073.8 224.9,2077.8" fill="none" stroke="#000" stroke-width="2.2" stroke-linejoin="miter" stroke-linecap="butt"/>
<text transform="translate(160,2065.9)" font-size="22.7">P=0.5165</text>
<polyline points="277,1942.9 277,1908.5 303.7,1908.5 303.7,1915" fill="none" stroke="#000" stroke-width="2.2" stroke-linejoin="miter" stroke-linecap="butt"/>
<text transform="translate(238,1901.9)" font-size="22.7">P=0.2359</text>
<polyline points="356.3,1958.7 356.3,1908.5 382.3,1908.5 382.3,1915" fill="none" stroke="#000" stroke-width="2.2" stroke-linejoin="miter" stroke-linecap="butt"/>
<text transform="translate(343.9,1901.9)" font-size="22.7">P=0.1645</text>
<circle cx="269.8" cy="1957.4" r="6" fill="#ff0000"/>
<circle cx="277" cy="1950.3" r="6" fill="#ff0000"/>
<circle cx="285.2" cy="1956.1" r="6" fill="#ff0000"/>
<circle cx="349.2" cy="1973.3" r="6" fill="#ff0000"/>
<circle cx="357.1" cy="1964" r="6" fill="#ff0000"/>
<circle cx="364.3" cy="1969.3" r="6" fill="#ff0000"/>
<circle cx="190.5" cy="2092.3" r="6" fill="#ff0000"/>
<circle cx="198.4" cy="2086.5" r="6" fill="#ff0000"/>
<circle cx="206.3" cy="2091" r="6" fill="#ff0000"/>
<rect x="297.45" y="1927.35" width="12.5" height="12.5" fill="#0000ff"/>
<rect x="304.55" y="1916.75" width="12.5" height="12.5" fill="#0000ff"/>
<rect x="297.45" y="1952.45" width="12.5" height="12.5" fill="#0000ff"/>
<rect x="376.75" y="1914.15" width="12.5" height="12.5" fill="#0000ff"/>
<rect x="369.45" y="1956.45" width="12.5" height="12.5" fill="#0000ff"/>
<rect x="383.95" y="1947.15" width="12.5" height="12.5" fill="#0000ff"/>
<rect x="210.75" y="2086.05" width="12.5" height="12.5" fill="#0000ff"/>
<rect x="218.65" y="2084.25" width="12.5" height="12.5" fill="#0000ff"/>
<rect x="226.55" y="2085.55" width="12.5" height="12.5" fill="#0000ff"/>
<line x1="303.7" y1="1938.9" x2="303.7" y2="1949.5" stroke="#0000ff" stroke-width="2.2"/>
<line x1="296.7" y1="1938.9" x2="310.7" y2="1938.9" stroke="#0000ff" stroke-width="2.2"/>
<line x1="296.7" y1="1949.5" x2="310.7" y2="1949.5" stroke="#0000ff" stroke-width="2.2"/>
<line x1="383" y1="1932.3" x2="383" y2="1950" stroke="#0000ff" stroke-width="2.2"/>
<line x1="376" y1="1932.3" x2="390" y2="1932.3" stroke="#0000ff" stroke-width="2.2"/>
<line x1="376" y1="1950" x2="390" y2="1950" stroke="#0000ff" stroke-width="2.2"/>
<text transform="translate(71.5,1968) rotate(-90)" font-size="32" text-anchor="middle">TNF (pg/ml)</text>
<line x1="175.1" y1="2218.3" x2="175.1" y2="2458.9" stroke="#000" stroke-width="3"/>
<line x1="165.1" y1="2457.4" x2="175.1" y2="2457.4" stroke="#000" stroke-width="3"/>
<text transform="translate(161.1,2469.04)" font-size="32.5" text-anchor="end">0</text>
<line x1="165.1" y1="2397.62" x2="175.1" y2="2397.62" stroke="#000" stroke-width="3"/>
<text transform="translate(161.1,2409.26)" font-size="32.5" text-anchor="end">50</text>
<line x1="165.1" y1="2337.85" x2="175.1" y2="2337.85" stroke="#000" stroke-width="3"/>
<text transform="translate(161.1,2349.49)" font-size="32.5" text-anchor="end">100</text>
<line x1="165.1" y1="2278.08" x2="175.1" y2="2278.08" stroke="#000" stroke-width="3"/>
<text transform="translate(161.1,2289.71)" font-size="32.5" text-anchor="end">150</text>
<line x1="165.1" y1="2218.3" x2="175.1" y2="2218.3" stroke="#000" stroke-width="3"/>
<text transform="translate(161.1,2229.94)" font-size="32.5" text-anchor="end">200</text>
<rect x="188.6" y="2438.27" width="25.2" height="19.13" fill="#fff" stroke="#000" stroke-width="3.5" />
<rect x="213.8" y="2435.88" width="26.4" height="21.52" fill="#fff" stroke="#000" stroke-width="3.5" />
<rect x="268" y="2359.97" width="25.1" height="97.43" fill="#fff" stroke="#000" stroke-width="3.5" />
<rect x="293.1" y="2361.76" width="26.5" height="95.64" fill="#fff" stroke="#000" stroke-width="3.5" />
<rect x="347.4" y="2269.71" width="25.1" height="187.69" fill="#fff" stroke="#000" stroke-width="3.5" />
<rect x="372.5" y="2284.05" width="26.4" height="173.35" fill="#fff" stroke="#000" stroke-width="3.5" />
<line x1="173.6" y1="2457.4" x2="413.5" y2="2457.4" stroke="#000" stroke-width="3"/>
<line x1="213.8" y1="2457.4" x2="213.8" y2="2468.4" stroke="#000" stroke-width="3"/>
<line x1="293.1" y1="2457.4" x2="293.1" y2="2468.4" stroke="#000" stroke-width="3"/>
<line x1="372.5" y1="2457.4" x2="372.5" y2="2468.4" stroke="#000" stroke-width="3"/>
<text transform="translate(213.8,2499.2)" font-size="31" text-anchor="middle">0</text>
<text transform="translate(293.1,2499.2)" font-size="31" text-anchor="middle">4</text>
<text transform="translate(372.5,2499.2)" font-size="31" text-anchor="middle">8</text>
<text transform="translate(170,2499.2)" font-size="31" text-anchor="end"><tspan font-style="italic">L. m.</tspan> (h)</text>
<polyline points="200.5,2426.5 200.5,2418 225.7,2418 225.7,2426.5" fill="none" stroke="#000" stroke-width="2.2" stroke-linejoin="miter" stroke-linecap="butt"/>
<text transform="translate(175,2410.6)" font-size="22.7">P=0.6417</text>
<polyline points="279.9,2347 279.9,2332.5 306.9,2332.5 306.9,2340" fill="none" stroke="#000" stroke-width="2.2" stroke-linejoin="miter" stroke-linecap="butt"/>
<text transform="translate(247.4,2326.7)" font-size="22.7">P=0.9640</text>
<polyline points="359.8,2255.8 359.8,2246.6 386.2,2246.6 386.2,2270.4" fill="none" stroke="#000" stroke-width="2.2" stroke-linejoin="miter" stroke-linecap="butt"/>
<text transform="translate(324.9,2238.1)" font-size="22.7">P=0.2356</text>
<circle cx="272.5" cy="2365.6" r="6" fill="#ff0000"/>
<circle cx="280.4" cy="2353.7" r="6" fill="#ff0000"/>
<circle cx="287.8" cy="2357.7" r="6" fill="#ff0000"/>
<circle cx="352.6" cy="2261.1" r="6" fill="#ff0000"/>
<circle cx="366.4" cy="2261.1" r="6" fill="#ff0000"/>
<circle cx="359.3" cy="2284.9" r="6" fill="#ff0000"/>
<circle cx="194.4" cy="2437" r="6" fill="#ff0000"/>
<circle cx="201.6" cy="2435" r="6" fill="#ff0000"/>
<circle cx="209" cy="2437" r="6" fill="#ff0000"/>
<rect x="292.65" y="2357.55" width="12.5" height="12.5" fill="#0000ff"/>
<rect x="300.65" y="2347.95" width="12.5" height="12.5" fill="#0000ff"/>
<rect x="308.55" y="2354.65" width="12.5" height="12.5" fill="#0000ff"/>
<rect x="372.55" y="2283.95" width="12.5" height="12.5" fill="#0000ff"/>
<rect x="379.95" y="2270.25" width="12.5" height="12.5" fill="#0000ff"/>
<rect x="387.95" y="2273.35" width="12.5" height="12.5" fill="#0000ff"/>
<rect x="214.65" y="2430.75" width="12.5" height="12.5" fill="#0000ff"/>
<rect x="221.25" y="2428.75" width="12.5" height="12.5" fill="#0000ff"/>
<rect x="229.15" y="2430.75" width="12.5" height="12.5" fill="#0000ff"/>
<line x1="359.3" y1="2266" x2="359.3" y2="2278.3" stroke="#ff0000" stroke-width="2.2"/>
<line x1="352.3" y1="2266" x2="366.3" y2="2266" stroke="#ff0000" stroke-width="2.2"/>
<line x1="352.3" y1="2278.3" x2="366.3" y2="2278.3" stroke="#ff0000" stroke-width="2.2"/>
<text transform="translate(94,2329) rotate(-90)" font-size="32" text-anchor="middle">IL-1β (pg/ml)</text>
<defs><filter id="b1" x="-30%" y="-80%" width="160%" height="260%"><feGaussianBlur stdDeviation="1.8"/></filter><filter id="b2" x="-30%" y="-80%" width="160%" height="260%"><feGaussianBlur stdDeviation="2.6"/></filter><filter id="b3" x="-40%" y="-100%" width="180%" height="300%"><feGaussianBlur stdDeviation="3.5"/></filter></defs>
<text transform="translate(720.8,1434.7)" font-size="27" font-style="italic">Pdcd6<tspan font-size="19.5" dy="-12">fl/fl</tspan></text>
<text transform="translate(952.7,1434.7)" font-size="27" font-style="italic">Pdcd6<tspan font-size="19.5" dy="-12">Δmye</tspan></text>
<line x1="650.3" y1="1440" x2="884.5" y2="1440" stroke="#000" stroke-width="2"/>
<line x1="891.6" y1="1440" x2="1126.7" y2="1440" stroke="#000" stroke-width="2"/>
<text transform="translate(642.3,1478.8)" font-size="26" text-anchor="end"><tspan font-style="italic">L. m.</tspan> (min)</text>
<text transform="translate(680.8,1478.8)" font-size="26" text-anchor="middle">0</text>
<text transform="translate(739.6,1478.8)" font-size="26" text-anchor="middle">30</text>
<text transform="translate(798.9,1478.8)" font-size="26" text-anchor="middle">60</text>
<text transform="translate(860,1478.8)" font-size="26" text-anchor="middle">120</text>
<text transform="translate(912.7,1478.8)" font-size="26" text-anchor="middle">0</text>
<text transform="translate(972.9,1478.8)" font-size="26" text-anchor="middle">30</text>
<text transform="translate(1031.7,1478.8)" font-size="26" text-anchor="middle">60</text>
<text transform="translate(1091.5,1478.8)" font-size="26" text-anchor="middle">120</text>
<text transform="translate(1131.4,1478.8)" font-size="26">(kDa)</text>
<clipPath id="cp1493"><rect x="653.5" y="1494" width="467.5" height="47"/></clipPath>
<g clip-path="url(#cp1493)">
<rect x="653.5" y="1494" width="467.5" height="47" fill="#f7f7f7"/>
<ellipse cx="688" cy="1519.5" rx="26" ry="11" fill="#000" fill-opacity="0.13" filter="url(#b3)"/>
<rect x="665" y="1511.5" width="46" height="13" rx="6.5" fill="#000" fill-opacity="1" filter="url(#b1)"/>
<ellipse cx="744.6" cy="1519.5" rx="26" ry="11" fill="#000" fill-opacity="0.13" filter="url(#b3)"/>
<rect x="721.6" y="1511.5" width="46" height="13" rx="6.5" fill="#000" fill-opacity="1" filter="url(#b1)"/>
<ellipse cx="801.2" cy="1519.5" rx="25.5" ry="11" fill="#000" fill-opacity="0.13" filter="url(#b3)"/>
<rect x="778.7" y="1511.5" width="45" height="13" rx="6.5" fill="#000" fill-opacity="1" filter="url(#b1)"/>
<ellipse cx="857.8" cy="1519" rx="25" ry="10.5" fill="#000" fill-opacity="0.13" filter="url(#b3)"/>
<rect x="835.8" y="1511.5" width="44" height="12" rx="6" fill="#000" fill-opacity="1" filter="url(#b1)"/>
</g>
<rect x="653.5" y="1494" width="467.5" height="47" fill="none" stroke="#000" stroke-width="2" />
<text transform="translate(643,1527)" font-size="27" text-anchor="end">PDCD6</text>
<line x1="1122" y1="1497" x2="1132.4" y2="1497" stroke="#000" stroke-width="2"/>
<text transform="translate(1140.8,1506.2)" font-size="26">25</text>
<clipPath id="cp1547"><rect x="653.5" y="1548.5" width="467.5" height="37.5"/></clipPath>
<g clip-path="url(#cp1547)">
<rect x="653.5" y="1548.5" width="467.5" height="37.5" fill="#f1f1f1"/>
<ellipse cx="744.6" cy="1568.5" rx="26" ry="10.5" fill="#000" fill-opacity="0.13" filter="url(#b3)"/>
<rect x="721.6" y="1561" width="46" height="12" rx="6" fill="#000" fill-opacity="1" filter="url(#b1)"/>
<ellipse cx="801.2" cy="1569.5" rx="25.5" ry="9" fill="#000" fill-opacity="0.11" filter="url(#b3)"/>
<rect x="778.7" y="1563.5" width="45" height="9" rx="4.5" fill="#000" fill-opacity="0.85" filter="url(#b1)"/>
<rect x="837.8" y="1565" width="40" height="8" rx="4" fill="#000" fill-opacity="0.22" filter="url(#b2)"/>
<ellipse cx="971" cy="1567.5" rx="25" ry="10" fill="#000" fill-opacity="0.13" filter="url(#b3)"/>
<rect x="949" y="1560.5" width="44" height="11" rx="5.5" fill="#000" fill-opacity="1" filter="url(#b1)"/>
<ellipse cx="1027.6" cy="1567.5" rx="24" ry="9" fill="#000" fill-opacity="0.12" filter="url(#b3)"/>
<rect x="1006.6" y="1561.5" width="42" height="9" rx="4.5" fill="#000" fill-opacity="0.9" filter="url(#b1)"/>
<rect x="1067.2" y="1563.5" width="34" height="7" rx="3.5" fill="#000" fill-opacity="0.08" filter="url(#b2)"/>
</g>
<rect x="653.5" y="1548.5" width="467.5" height="37.5" fill="none" stroke="#000" stroke-width="2" />
<text transform="translate(643,1576.75)" font-size="27" text-anchor="end">p-IKKα</text>
<line x1="1122" y1="1580.5" x2="1132.4" y2="1580.5" stroke="#000" stroke-width="2"/>
<text transform="translate(1140.8,1589.7)" font-size="26">72</text>
<clipPath id="cp1592"><rect x="653.5" y="1593" width="467.5" height="39"/></clipPath>
<g clip-path="url(#cp1592)">
<rect x="653.5" y="1593" width="467.5" height="39" fill="#ededed"/>
<ellipse cx="688" cy="1615" rx="26" ry="10.5" fill="#000" fill-opacity="0.13" filter="url(#b3)"/>
<rect x="665" y="1607.5" width="46" height="12" rx="6" fill="#000" fill-opacity="1" filter="url(#b1)"/>
<ellipse cx="744.6" cy="1611.5" rx="26" ry="10" fill="#000" fill-opacity="0.13" filter="url(#b3)"/>
<rect x="721.6" y="1604.5" width="46" height="11" rx="5.5" fill="#000" fill-opacity="1" filter="url(#b1)"/>
<ellipse cx="801.2" cy="1612.5" rx="26" ry="10" fill="#000" fill-opacity="0.13" filter="url(#b3)"/>
<rect x="778.2" y="1605.5" width="46" height="11" rx="5.5" fill="#000" fill-opacity="1" filter="url(#b1)"/>
<ellipse cx="857.8" cy="1612.5" rx="25" ry="8.5" fill="#000" fill-opacity="0.12" filter="url(#b3)"/>
<rect x="835.8" y="1607" width="44" height="8" rx="4" fill="#000" fill-opacity="0.9" filter="url(#b1)"/>
<ellipse cx="914.4" cy="1612.5" rx="26" ry="9.5" fill="#000" fill-opacity="0.13" filter="url(#b3)"/>
<rect x="891.4" y="1606" width="46" height="10" rx="5" fill="#000" fill-opacity="1" filter="url(#b1)"/>
<ellipse cx="971" cy="1611.5" rx="26" ry="9.5" fill="#000" fill-opacity="0.13" filter="url(#b3)"/>
<rect x="948" y="1605" width="46" height="10" rx="5" fill="#000" fill-opacity="1" filter="url(#b1)"/>
<ellipse cx="1027.6" cy="1612.5" rx="25" ry="9" fill="#000" fill-opacity="0.13" filter="url(#b3)"/>
<rect x="1005.6" y="1606.5" width="44" height="9" rx="4.5" fill="#000" fill-opacity="1" filter="url(#b1)"/>
<ellipse cx="1084.2" cy="1613" rx="24" ry="8.5" fill="#000" fill-opacity="0.08" filter="url(#b3)"/>
<rect x="1063.2" y="1607.5" width="42" height="8" rx="4" fill="#000" fill-opacity="0.6" filter="url(#b2)"/>
</g>
<rect x="653.5" y="1593" width="467.5" height="39" fill="none" stroke="#000" stroke-width="2" />
<text transform="translate(643,1622)" font-size="27" text-anchor="end">IKKα</text>
<line x1="1122" y1="1627.5" x2="1132.4" y2="1627.5" stroke="#000" stroke-width="2"/>
<text transform="translate(1140.8,1636.7)" font-size="26">72</text>
<clipPath id="cp1637"><rect x="653.5" y="1638.5" width="467.5" height="38"/></clipPath>
<g clip-path="url(#cp1637)">
<rect x="653.5" y="1638.5" width="467.5" height="38" fill="#c9c9c9"/>
<ellipse cx="744.6" cy="1645" rx="26" ry="6" fill="#000" fill-opacity="0.18" filter="url(#b3)"/>
<ellipse cx="801.2" cy="1645" rx="26" ry="6" fill="#000" fill-opacity="0.18" filter="url(#b3)"/>
<ellipse cx="857.8" cy="1645" rx="26" ry="6" fill="#000" fill-opacity="0.18" filter="url(#b3)"/>
<ellipse cx="971" cy="1645" rx="26" ry="6" fill="#000" fill-opacity="0.18" filter="url(#b3)"/>
<ellipse cx="1027.6" cy="1645" rx="26" ry="6" fill="#000" fill-opacity="0.18" filter="url(#b3)"/>
<ellipse cx="1084.2" cy="1645" rx="26" ry="6" fill="#000" fill-opacity="0.18" filter="url(#b3)"/>
<ellipse cx="688" cy="1668" rx="25" ry="5" fill="#000" fill-opacity="0.1" filter="url(#b3)"/>
<ellipse cx="744.6" cy="1668" rx="25" ry="5" fill="#000" fill-opacity="0.1" filter="url(#b3)"/>
<ellipse cx="801.2" cy="1668" rx="25" ry="5" fill="#000" fill-opacity="0.1" filter="url(#b3)"/>
<ellipse cx="857.8" cy="1668" rx="25" ry="5" fill="#000" fill-opacity="0.1" filter="url(#b3)"/>
<ellipse cx="914.4" cy="1668" rx="25" ry="5" fill="#000" fill-opacity="0.1" filter="url(#b3)"/>
<ellipse cx="971" cy="1668" rx="25" ry="5" fill="#000" fill-opacity="0.1" filter="url(#b3)"/>
<ellipse cx="1027.6" cy="1668" rx="25" ry="5" fill="#000" fill-opacity="0.1" filter="url(#b3)"/>
<ellipse cx="1084.2" cy="1668" rx="25" ry="5" fill="#000" fill-opacity="0.1" filter="url(#b3)"/>
<ellipse cx="688" cy="1660.5" rx="24" ry="8" fill="#000" fill-opacity="0.08" filter="url(#b3)"/>
<rect x="667" y="1655.5" width="42" height="7" rx="3.5" fill="#000" fill-opacity="0.6" filter="url(#b2)"/>
<ellipse cx="744.6" cy="1658.5" rx="28" ry="13.5" fill="#000" fill-opacity="0.13" filter="url(#b3)"/>
<rect x="719.6" y="1648" width="50" height="18" rx="9" fill="#000" fill-opacity="1" filter="url(#b1)"/>
<ellipse cx="801.2" cy="1658.5" rx="28" ry="12.5" fill="#000" fill-opacity="0.13" filter="url(#b3)"/>
<rect x="776.2" y="1649" width="50" height="16" rx="8" fill="#000" fill-opacity="1" filter="url(#b1)"/>
<ellipse cx="857.8" cy="1658.5" rx="28" ry="12" fill="#000" fill-opacity="0.13" filter="url(#b3)"/>
<rect x="832.8" y="1649.5" width="50" height="15" rx="7.5" fill="#000" fill-opacity="1" filter="url(#b1)"/>
<ellipse cx="914.4" cy="1659.5" rx="24" ry="8.5" fill="#000" fill-opacity="0.08" filter="url(#b3)"/>
<rect x="893.4" y="1654" width="42" height="8" rx="4" fill="#000" fill-opacity="0.65" filter="url(#b2)"/>
<ellipse cx="971" cy="1658.5" rx="28" ry="14" fill="#000" fill-opacity="0.13" filter="url(#b3)"/>
<rect x="946" y="1647.5" width="50" height="19" rx="9.5" fill="#000" fill-opacity="1" filter="url(#b1)"/>
<ellipse cx="1027.6" cy="1658.5" rx="28" ry="12.5" fill="#000" fill-opacity="0.13" filter="url(#b3)"/>
<rect x="1002.6" y="1649" width="50" height="16" rx="8" fill="#000" fill-opacity="1" filter="url(#b1)"/>
<ellipse cx="1084.2" cy="1659.5" rx="26" ry="10" fill="#000" fill-opacity="0.12" filter="url(#b3)"/>
<rect x="1061.2" y="1652.5" width="46" height="11" rx="5.5" fill="#000" fill-opacity="0.95" filter="url(#b1)"/>
</g>
<rect x="653.5" y="1638.5" width="467.5" height="38" fill="none" stroke="#000" stroke-width="2" />
<text transform="translate(643,1667)" font-size="27" text-anchor="end">p-p65</text>
<line x1="1122" y1="1672" x2="1132.4" y2="1672" stroke="#000" stroke-width="2"/>
<text transform="translate(1140.8,1681.2)" font-size="26">55</text>
<clipPath id="cp1682"><rect x="653.5" y="1683.5" width="467.5" height="41"/></clipPath>
<g clip-path="url(#cp1682)">
<rect x="653.5" y="1683.5" width="467.5" height="41" fill="#f1f1f1"/>
<ellipse cx="688" cy="1704.5" rx="23" ry="10.5" fill="#000" fill-opacity="0.13" filter="url(#b3)"/>
<rect x="668" y="1697" width="40" height="12" rx="6" fill="#000" fill-opacity="1" filter="url(#b1)"/>
<ellipse cx="744.6" cy="1705" rx="25" ry="10.5" fill="#000" fill-opacity="0.13" filter="url(#b3)"/>
<rect x="722.6" y="1697.5" width="44" height="12" rx="6" fill="#000" fill-opacity="1" filter="url(#b1)"/>
<ellipse cx="801.2" cy="1704.5" rx="24" ry="10.5" fill="#000" fill-opacity="0.13" filter="url(#b3)"/>
<rect x="780.2" y="1697" width="42" height="12" rx="6" fill="#000" fill-opacity="1" filter="url(#b1)"/>
<ellipse cx="857.8" cy="1705" rx="25" ry="10.5" fill="#000" fill-opacity="0.13" filter="url(#b3)"/>
<rect x="835.8" y="1697.5" width="44" height="12" rx="6" fill="#000" fill-opacity="1" filter="url(#b1)"/>
<ellipse cx="914.4" cy="1704.5" rx="25" ry="10.5" fill="#000" fill-opacity="0.13" filter="url(#b3)"/>
<rect x="892.4" y="1697" width="44" height="12" rx="6" fill="#000" fill-opacity="1" filter="url(#b1)"/>
<ellipse cx="971" cy="1704" rx="24" ry="11" fill="#000" fill-opacity="0.13" filter="url(#b3)"/>
<rect x="950" y="1696" width="42" height="13" rx="6.5" fill="#000" fill-opacity="1" filter="url(#b1)"/>
<ellipse cx="1027.6" cy="1704.5" rx="25" ry="10.5" fill="#000" fill-opacity="0.13" filter="url(#b3)"/>
<rect x="1005.6" y="1697" width="44" height="12" rx="6" fill="#000" fill-opacity="1" filter="url(#b1)"/>
<ellipse cx="1084.2" cy="1704.5" rx="23" ry="10" fill="#000" fill-opacity="0.13" filter="url(#b3)"/>
<rect x="1064.2" y="1697.5" width="40" height="11" rx="5.5" fill="#000" fill-opacity="1" filter="url(#b1)"/>
</g>
<rect x="653.5" y="1683.5" width="467.5" height="41" fill="none" stroke="#000" stroke-width="2" />
<text transform="translate(643,1713.5)" font-size="27" text-anchor="end">p65</text>
<line x1="1122" y1="1721.6" x2="1132.4" y2="1721.6" stroke="#000" stroke-width="2"/>
<text transform="translate(1140.8,1730.8)" font-size="26">55</text>
<clipPath id="cp1731"><rect x="653.5" y="1732" width="467.5" height="46.5"/></clipPath>
<g clip-path="url(#cp1731)">
<rect x="653.5" y="1732" width="467.5" height="46.5" fill="#efefef"/>
<rect x="671" y="1749" width="34" height="6" rx="3" fill="#000" fill-opacity="0.04" filter="url(#b2)"/>
<rect x="724.6" y="1748" width="40" height="8" rx="4" fill="#000" fill-opacity="0.28" filter="url(#b2)"/>
<ellipse cx="801.2" cy="1752.5" rx="21.5" ry="13" fill="#000" fill-opacity="0.13" filter="url(#b3)"/>
<rect x="782.7" y="1742.5" width="37" height="17" rx="8.5" fill="#000" fill-opacity="1" filter="url(#b1)"/>
<rect x="837.8" y="1746" width="40" height="8" rx="4" fill="#000" fill-opacity="0.28" filter="url(#b2)"/>
<rect x="897.4" y="1749" width="34" height="6" rx="3" fill="#000" fill-opacity="0.06" filter="url(#b2)"/>
<ellipse cx="971" cy="1752.5" rx="23" ry="9.5" fill="#000" fill-opacity="0.1" filter="url(#b3)"/>
<rect x="951" y="1746" width="40" height="10" rx="5" fill="#000" fill-opacity="0.8" filter="url(#b1)"/>
<ellipse cx="1027.6" cy="1753" rx="22" ry="12" fill="#000" fill-opacity="0.13" filter="url(#b3)"/>
<rect x="1008.6" y="1744" width="38" height="15" rx="7.5" fill="#000" fill-opacity="1" filter="url(#b1)"/>
<rect x="1066.2" y="1748.5" width="36" height="7" rx="3.5" fill="#000" fill-opacity="0.15" filter="url(#b2)"/>
</g>
<rect x="653.5" y="1732" width="467.5" height="46.5" fill="none" stroke="#000" stroke-width="2" />
<text transform="translate(643,1764.75)" font-size="27" text-anchor="end">p-IκBα</text>
<line x1="1122" y1="1760.6" x2="1132.4" y2="1760.6" stroke="#000" stroke-width="2"/>
<text transform="translate(1140.8,1769.8)" font-size="26">33</text>
<clipPath id="cp1785"><rect x="653.5" y="1786" width="467.5" height="46.5"/></clipPath>
<g clip-path="url(#cp1785)">
<rect x="653.5" y="1786" width="467.5" height="46.5" fill="#dedede"/>
<ellipse cx="688" cy="1822" rx="23" ry="7" fill="#000" fill-opacity="0.06" filter="url(#b3)"/>
<ellipse cx="744.6" cy="1822" rx="23" ry="7" fill="#000" fill-opacity="0.06" filter="url(#b3)"/>
<ellipse cx="801.2" cy="1822" rx="23" ry="7" fill="#000" fill-opacity="0.06" filter="url(#b3)"/>
<ellipse cx="857.8" cy="1822" rx="23" ry="7" fill="#000" fill-opacity="0.06" filter="url(#b3)"/>
<ellipse cx="914.4" cy="1822" rx="23" ry="7" fill="#000" fill-opacity="0.06" filter="url(#b3)"/>
<ellipse cx="971" cy="1822" rx="23" ry="7" fill="#000" fill-opacity="0.06" filter="url(#b3)"/>
<ellipse cx="1027.6" cy="1822" rx="23" ry="7" fill="#000" fill-opacity="0.06" filter="url(#b3)"/>
<ellipse cx="1084.2" cy="1822" rx="23" ry="7" fill="#000" fill-opacity="0.06" filter="url(#b3)"/>
<rect x="669" y="1806" width="38" height="8" rx="4" fill="#000" fill-opacity="0.12" filter="url(#b2)"/>
<ellipse cx="744.6" cy="1809.5" rx="25" ry="9.5" fill="#000" fill-opacity="0.07" filter="url(#b3)"/>
<rect x="722.6" y="1803" width="44" height="10" rx="5" fill="#000" fill-opacity="0.5" filter="url(#b2)"/>
<rect x="782.2" y="1804.5" width="38" height="9" rx="4.5" fill="#000" fill-opacity="0.28" filter="url(#b2)"/>
<rect x="836.8" y="1804.5" width="42" height="9" rx="4.5" fill="#000" fill-opacity="0.38" filter="url(#b2)"/>
<rect x="892.4" y="1803" width="44" height="10" rx="5" fill="#000" fill-opacity="0.42" filter="url(#b2)"/>
<rect x="950" y="1804.5" width="42" height="9" rx="4.5" fill="#000" fill-opacity="0.32" filter="url(#b2)"/>
<ellipse cx="1027.6" cy="1809.5" rx="25" ry="9.5" fill="#000" fill-opacity="0.07" filter="url(#b3)"/>
<rect x="1005.6" y="1803" width="44" height="10" rx="5" fill="#000" fill-opacity="0.5" filter="url(#b2)"/>
<rect x="1063.2" y="1804.5" width="42" height="9" rx="4.5" fill="#000" fill-opacity="0.32" filter="url(#b2)"/>
</g>
<rect x="653.5" y="1786" width="467.5" height="46.5" fill="none" stroke="#000" stroke-width="2" />
<text transform="translate(643,1818.75)" font-size="27" text-anchor="end">IκBα</text>
<line x1="1122" y1="1819" x2="1132.4" y2="1819" stroke="#000" stroke-width="2"/>
<text transform="translate(1140.8,1828.2)" font-size="26">33</text>
<clipPath id="cp1839"><rect x="653.5" y="1840" width="467.5" height="51"/></clipPath>
<g clip-path="url(#cp1839)">
<rect x="653.5" y="1840" width="467.5" height="51" fill="#f2f2f2"/>
<ellipse cx="688" cy="1867" rx="26" ry="13" fill="#000" fill-opacity="0.13" filter="url(#b3)"/>
<rect x="665" y="1857" width="46" height="17" rx="8.5" fill="#000" fill-opacity="1" filter="url(#b1)"/>
<ellipse cx="744.6" cy="1867.5" rx="28" ry="13" fill="#000" fill-opacity="0.13" filter="url(#b3)"/>
<rect x="719.6" y="1857.5" width="50" height="17" rx="8.5" fill="#000" fill-opacity="1" filter="url(#b1)"/>
<ellipse cx="801.2" cy="1867.5" rx="27" ry="13" fill="#000" fill-opacity="0.13" filter="url(#b3)"/>
<rect x="777.2" y="1857.5" width="48" height="17" rx="8.5" fill="#000" fill-opacity="1" filter="url(#b1)"/>
<ellipse cx="857.8" cy="1866.5" rx="27" ry="11.5" fill="#000" fill-opacity="0.13" filter="url(#b3)"/>
<rect x="833.8" y="1858" width="48" height="14" rx="7" fill="#000" fill-opacity="1" filter="url(#b1)"/>
<ellipse cx="914.4" cy="1866.5" rx="27" ry="13" fill="#000" fill-opacity="0.13" filter="url(#b3)"/>
<rect x="890.4" y="1856.5" width="48" height="17" rx="8.5" fill="#000" fill-opacity="1" filter="url(#b1)"/>
<ellipse cx="971" cy="1866.5" rx="27" ry="13" fill="#000" fill-opacity="0.13" filter="url(#b3)"/>
<rect x="947" y="1856.5" width="48" height="17" rx="8.5" fill="#000" fill-opacity="1" filter="url(#b1)"/>
<ellipse cx="1027.6" cy="1866.5" rx="27" ry="13" fill="#000" fill-opacity="0.13" filter="url(#b3)"/>
<rect x="1003.6" y="1856.5" width="48" height="17" rx="8.5" fill="#000" fill-opacity="1" filter="url(#b1)"/>
<ellipse cx="1084.2" cy="1867.5" rx="25" ry="11" fill="#000" fill-opacity="0.13" filter="url(#b3)"/>
<rect x="1062.2" y="1859.5" width="44" height="13" rx="6.5" fill="#000" fill-opacity="1" filter="url(#b1)"/>
</g>
<rect x="653.5" y="1840" width="467.5" height="51" fill="none" stroke="#000" stroke-width="2" />
<text transform="translate(643,1875)" font-size="27" text-anchor="end">Actin</text>
<line x1="1122" y1="1865" x2="1132.4" y2="1865" stroke="#000" stroke-width="2"/>
<text transform="translate(1140.8,1874.2)" font-size="26">43</text>
<clipPath id="cp1898"><rect x="653.5" y="1899" width="467.5" height="60"/></clipPath>
<g clip-path="url(#cp1898)">
<rect x="653.5" y="1899" width="467.5" height="60" fill="#f7f7f7"/>
<rect x="669" y="1911" width="38" height="6" rx="3" fill="#000" fill-opacity="0.07" filter="url(#b2)"/>
<rect x="669" y="1937" width="38" height="6" rx="3" fill="#000" fill-opacity="0.06" filter="url(#b2)"/>
<ellipse cx="744.6" cy="1916" rx="25" ry="10" fill="#000" fill-opacity="0.13" filter="url(#b3)"/>
<rect x="722.6" y="1909" width="44" height="11" rx="5.5" fill="#000" fill-opacity="1" filter="url(#b1)"/>
<ellipse cx="744.6" cy="1942" rx="25" ry="10" fill="#000" fill-opacity="0.13" filter="url(#b3)"/>
<rect x="722.6" y="1935" width="44" height="11" rx="5.5" fill="#000" fill-opacity="1" filter="url(#b1)"/>
<rect x="780.2" y="1911.5" width="42" height="7" rx="3.5" fill="#000" fill-opacity="0.38" filter="url(#b2)"/>
<rect x="780.2" y="1936" width="42" height="8" rx="4" fill="#000" fill-opacity="0.33" filter="url(#b2)"/>
<rect x="836.8" y="1910.5" width="42" height="7" rx="3.5" fill="#000" fill-opacity="0.38" filter="url(#b2)"/>
<rect x="836.8" y="1936" width="42" height="8" rx="4" fill="#000" fill-opacity="0.3" filter="url(#b2)"/>
<rect x="895.4" y="1911" width="38" height="6" rx="3" fill="#000" fill-opacity="0.04" filter="url(#b2)"/>
<rect x="895.4" y="1937" width="38" height="6" rx="3" fill="#000" fill-opacity="0.04" filter="url(#b2)"/>
<ellipse cx="971" cy="1916" rx="25" ry="10" fill="#000" fill-opacity="0.13" filter="url(#b3)"/>
<rect x="949" y="1909" width="44" height="11" rx="5.5" fill="#000" fill-opacity="1" filter="url(#b1)"/>
<ellipse cx="971" cy="1942" rx="25" ry="10" fill="#000" fill-opacity="0.13" filter="url(#b3)"/>
<rect x="949" y="1935" width="44" height="11" rx="5.5" fill="#000" fill-opacity="1" filter="url(#b1)"/>
<rect x="1005.6" y="1910" width="44" height="8" rx="4" fill="#000" fill-opacity="0.45" filter="url(#b2)"/>
<rect x="1005.6" y="1936" width="44" height="8" rx="4" fill="#000" fill-opacity="0.4" filter="url(#b2)"/>
<rect x="1063.2" y="1910.5" width="42" height="7" rx="3.5" fill="#000" fill-opacity="0.35" filter="url(#b2)"/>
<rect x="1063.2" y="1936.5" width="42" height="7" rx="3.5" fill="#000" fill-opacity="0.3" filter="url(#b2)"/>
</g>
<rect x="653.5" y="1899" width="467.5" height="60" fill="none" stroke="#000" stroke-width="2" />
<text transform="translate(643,1938.5)" font-size="27" text-anchor="end">p-JNK</text>
<line x1="1122" y1="1941" x2="1132.4" y2="1941" stroke="#000" stroke-width="2"/>
<text transform="translate(1140.8,1950.2)" font-size="26">43</text>
<clipPath id="cp1965"><rect x="653.5" y="1966.5" width="467.5" height="41"/></clipPath>
<g clip-path="url(#cp1965)">
<rect x="653.5" y="1966.5" width="467.5" height="41" fill="#d4d4d4"/>
<ellipse cx="688" cy="2001" rx="24" ry="6" fill="#000" fill-opacity="0.22" filter="url(#b3)"/>
<ellipse cx="744.6" cy="2001" rx="24" ry="6" fill="#000" fill-opacity="0.22" filter="url(#b3)"/>
<ellipse cx="801.2" cy="2001" rx="24" ry="6" fill="#000" fill-opacity="0.22" filter="url(#b3)"/>
<ellipse cx="857.8" cy="2001" rx="24" ry="6" fill="#000" fill-opacity="0.22" filter="url(#b3)"/>
<ellipse cx="914.4" cy="2001" rx="24" ry="6" fill="#000" fill-opacity="0.22" filter="url(#b3)"/>
<ellipse cx="971" cy="2001" rx="24" ry="6" fill="#000" fill-opacity="0.22" filter="url(#b3)"/>
<ellipse cx="1027.6" cy="2001" rx="24" ry="6" fill="#000" fill-opacity="0.22" filter="url(#b3)"/>
<ellipse cx="1084.2" cy="2001" rx="24" ry="6" fill="#000" fill-opacity="0.22" filter="url(#b3)"/>
<ellipse cx="688" cy="1985.5" rx="26" ry="14.5" fill="#000" fill-opacity="0.13" filter="url(#b3)"/>
<rect x="665" y="1974" width="46" height="20" rx="10" fill="#000" fill-opacity="1" filter="url(#b1)"/>
<ellipse cx="744.6" cy="1985.5" rx="27" ry="14" fill="#000" fill-opacity="0.13" filter="url(#b3)"/>
<rect x="720.6" y="1974.5" width="48" height="19" rx="9.5" fill="#000" fill-opacity="1" filter="url(#b1)"/>
<ellipse cx="801.2" cy="1986.5" rx="27" ry="14" fill="#000" fill-opacity="0.13" filter="url(#b3)"/>
<rect x="777.2" y="1975.5" width="48" height="19" rx="9.5" fill="#000" fill-opacity="1" filter="url(#b1)"/>
<ellipse cx="857.8" cy="1983.5" rx="26" ry="11.5" fill="#000" fill-opacity="0.13" filter="url(#b3)"/>
<rect x="834.8" y="1975" width="46" height="14" rx="7" fill="#000" fill-opacity="1" filter="url(#b1)"/>
<ellipse cx="914.4" cy="1985.5" rx="27" ry="14.5" fill="#000" fill-opacity="0.13" filter="url(#b3)"/>
<rect x="890.4" y="1974" width="48" height="20" rx="10" fill="#000" fill-opacity="1" filter="url(#b1)"/>
<ellipse cx="971" cy="1985.5" rx="27" ry="14" fill="#000" fill-opacity="0.13" filter="url(#b3)"/>
<rect x="947" y="1974.5" width="48" height="19" rx="9.5" fill="#000" fill-opacity="1" filter="url(#b1)"/>
<ellipse cx="1027.6" cy="1985.5" rx="27" ry="13" fill="#000" fill-opacity="0.13" filter="url(#b3)"/>
<rect x="1003.6" y="1975.5" width="48" height="17" rx="8.5" fill="#000" fill-opacity="1" filter="url(#b1)"/>
<ellipse cx="1084.2" cy="1986.5" rx="25" ry="11" fill="#000" fill-opacity="0.13" filter="url(#b3)"/>
<rect x="1062.2" y="1978.5" width="44" height="13" rx="6.5" fill="#000" fill-opacity="1" filter="url(#b1)"/>
</g>
<rect x="653.5" y="1966.5" width="467.5" height="41" fill="none" stroke="#000" stroke-width="2" />
<text transform="translate(643,1996.5)" font-size="27" text-anchor="end">JNK2</text>
<line x1="1122" y1="1979.7" x2="1132.4" y2="1979.7" stroke="#000" stroke-width="2"/>
<text transform="translate(1140.8,1988.9)" font-size="26">43</text>
<clipPath id="cp2015"><rect x="653.5" y="2016" width="467.5" height="57"/></clipPath>
<g clip-path="url(#cp2015)">
<rect x="653.5" y="2016" width="467.5" height="57" fill="#f6f6f6"/>
<rect x="668" y="2030" width="40" height="6" rx="3" fill="#000" fill-opacity="0.12" filter="url(#b2)"/>
<rect x="668" y="2056" width="40" height="6" rx="3" fill="#000" fill-opacity="0.12" filter="url(#b2)"/>
<ellipse cx="744.6" cy="2035" rx="26" ry="9.5" fill="#000" fill-opacity="0.13" filter="url(#b3)"/>
<rect x="721.6" y="2028.5" width="46" height="10" rx="5" fill="#000" fill-opacity="1" filter="url(#b1)"/>
<ellipse cx="744.6" cy="2061" rx="26" ry="9.5" fill="#000" fill-opacity="0.13" filter="url(#b3)"/>
<rect x="721.6" y="2054.5" width="46" height="10" rx="5" fill="#000" fill-opacity="1" filter="url(#b1)"/>
<ellipse cx="801.2" cy="2034.5" rx="25" ry="8.5" fill="#000" fill-opacity="0.07" filter="url(#b3)"/>
<rect x="779.2" y="2029" width="44" height="8" rx="4" fill="#000" fill-opacity="0.55" filter="url(#b2)"/>
<rect x="779.2" y="2055" width="44" height="8" rx="4" fill="#000" fill-opacity="0.45" filter="url(#b2)"/>
<rect x="836.8" y="2028.5" width="42" height="7" rx="3.5" fill="#000" fill-opacity="0.4" filter="url(#b2)"/>
<rect x="836.8" y="2054.5" width="42" height="8" rx="4" fill="#000" fill-opacity="0.38" filter="url(#b2)"/>
<rect x="895.4" y="2030" width="38" height="6" rx="3" fill="#000" fill-opacity="0.08" filter="url(#b2)"/>
<rect x="895.4" y="2056" width="38" height="6" rx="3" fill="#000" fill-opacity="0.08" filter="url(#b2)"/>
<ellipse cx="971" cy="2035" rx="26" ry="9.5" fill="#000" fill-opacity="0.13" filter="url(#b3)"/>
<rect x="948" y="2028.5" width="46" height="10" rx="5" fill="#000" fill-opacity="1" filter="url(#b1)"/>
<ellipse cx="971" cy="2061" rx="26" ry="9.5" fill="#000" fill-opacity="0.13" filter="url(#b3)"/>
<rect x="948" y="2054.5" width="46" height="10" rx="5" fill="#000" fill-opacity="1" filter="url(#b1)"/>
<ellipse cx="1027.6" cy="2034.5" rx="25" ry="8.5" fill="#000" fill-opacity="0.08" filter="url(#b3)"/>
<rect x="1005.6" y="2029" width="44" height="8" rx="4" fill="#000" fill-opacity="0.65" filter="url(#b2)"/>
<ellipse cx="1027.6" cy="2060.5" rx="25" ry="8.5" fill="#000" fill-opacity="0.08" filter="url(#b3)"/>
<rect x="1005.6" y="2055" width="44" height="8" rx="4" fill="#000" fill-opacity="0.6" filter="url(#b2)"/>
<rect x="1063.2" y="2029.5" width="42" height="7" rx="3.5" fill="#000" fill-opacity="0.35" filter="url(#b2)"/>
<rect x="1063.2" y="2054.5" width="42" height="7" rx="3.5" fill="#000" fill-opacity="0.3" filter="url(#b2)"/>
</g>
<rect x="653.5" y="2016" width="467.5" height="57" fill="none" stroke="#000" stroke-width="2" />
<text transform="translate(643,2054)" font-size="27" text-anchor="end">p-ERK</text>
<line x1="1122" y1="2035.2" x2="1132.4" y2="2035.2" stroke="#000" stroke-width="2"/>
<text transform="translate(1140.8,2044.4)" font-size="26">43</text>
<clipPath id="cp2080"><rect x="653.5" y="2081" width="467.5" height="67"/></clipPath>
<g clip-path="url(#cp2080)">
<rect x="653.5" y="2081" width="467.5" height="67" fill="#ececec"/>
<ellipse cx="688" cy="2108.2" rx="26" ry="10" fill="#000" fill-opacity="0.13" filter="url(#b3)"/>
<rect x="665" y="2101.2" width="46" height="11" rx="5.5" fill="#000" fill-opacity="1" filter="url(#b1)"/>
<ellipse cx="744.6" cy="2108.2" rx="26" ry="10" fill="#000" fill-opacity="0.13" filter="url(#b3)"/>
<rect x="721.6" y="2101.2" width="46" height="11" rx="5.5" fill="#000" fill-opacity="1" filter="url(#b1)"/>
<ellipse cx="801.2" cy="2108.2" rx="26" ry="10" fill="#000" fill-opacity="0.13" filter="url(#b3)"/>
<rect x="778.2" y="2101.2" width="46" height="11" rx="5.5" fill="#000" fill-opacity="1" filter="url(#b1)"/>
<ellipse cx="857.8" cy="2108.2" rx="26" ry="10" fill="#000" fill-opacity="0.13" filter="url(#b3)"/>
<rect x="834.8" y="2101.2" width="46" height="11" rx="5.5" fill="#000" fill-opacity="1" filter="url(#b1)"/>
<ellipse cx="914.4" cy="2108.2" rx="26" ry="10" fill="#000" fill-opacity="0.13" filter="url(#b3)"/>
<rect x="891.4" y="2101.2" width="46" height="11" rx="5.5" fill="#000" fill-opacity="1" filter="url(#b1)"/>
<ellipse cx="971" cy="2108.2" rx="26" ry="10" fill="#000" fill-opacity="0.13" filter="url(#b3)"/>
<rect x="948" y="2101.2" width="46" height="11" rx="5.5" fill="#000" fill-opacity="1" filter="url(#b1)"/>
<ellipse cx="1027.6" cy="2108.2" rx="26" ry="10" fill="#000" fill-opacity="0.13" filter="url(#b3)"/>
<rect x="1004.6" y="2101.2" width="46" height="11" rx="5.5" fill="#000" fill-opacity="1" filter="url(#b1)"/>
<ellipse cx="688" cy="2131.5" rx="26" ry="9.5" fill="#000" fill-opacity="0.13" filter="url(#b3)"/>
<rect x="665" y="2125" width="46" height="10" rx="5" fill="#000" fill-opacity="1" filter="url(#b1)"/>
<ellipse cx="744.6" cy="2131.5" rx="26" ry="9.5" fill="#000" fill-opacity="0.13" filter="url(#b3)"/>
<rect x="721.6" y="2125" width="46" height="10" rx="5" fill="#000" fill-opacity="1" filter="url(#b1)"/>
<ellipse cx="801.2" cy="2131.5" rx="26" ry="9.5" fill="#000" fill-opacity="0.13" filter="url(#b3)"/>
<rect x="778.2" y="2125" width="46" height="10" rx="5" fill="#000" fill-opacity="1" filter="url(#b1)"/>
<ellipse cx="857.8" cy="2131.5" rx="26" ry="9.5" fill="#000" fill-opacity="0.13" filter="url(#b3)"/>
<rect x="834.8" y="2125" width="46" height="10" rx="5" fill="#000" fill-opacity="1" filter="url(#b1)"/>
<ellipse cx="914.4" cy="2131.5" rx="26" ry="9.5" fill="#000" fill-opacity="0.13" filter="url(#b3)"/>
<rect x="891.4" y="2125" width="46" height="10" rx="5" fill="#000" fill-opacity="1" filter="url(#b1)"/>
<ellipse cx="971" cy="2131.5" rx="26" ry="9.5" fill="#000" fill-opacity="0.13" filter="url(#b3)"/>
<rect x="948" y="2125" width="46" height="10" rx="5" fill="#000" fill-opacity="1" filter="url(#b1)"/>
<ellipse cx="1027.6" cy="2131.5" rx="26" ry="9.5" fill="#000" fill-opacity="0.13" filter="url(#b3)"/>
<rect x="1004.6" y="2125" width="46" height="10" rx="5" fill="#000" fill-opacity="1" filter="url(#b1)"/>
<ellipse cx="1084.2" cy="2105.5" rx="26" ry="12" fill="#000" fill-opacity="0.13" filter="url(#b3)"/>
<rect x="1061.2" y="2096.5" width="46" height="15" rx="7.5" fill="#000" fill-opacity="1" filter="url(#b1)"/>
<ellipse cx="1084.2" cy="2128.5" rx="27" ry="13" fill="#000" fill-opacity="0.13" filter="url(#b3)"/>
<rect x="1060.2" y="2118.5" width="48" height="17" rx="8.5" fill="#000" fill-opacity="1" filter="url(#b1)"/>
</g>
<rect x="653.5" y="2081" width="467.5" height="67" fill="none" stroke="#000" stroke-width="2" />
<text transform="translate(643,2124)" font-size="27" text-anchor="end">ERK</text>
<line x1="1122" y1="2101" x2="1132.4" y2="2101" stroke="#000" stroke-width="2"/>
<text transform="translate(1140.8,2110.2)" font-size="26">43</text>
<clipPath id="cp2155"><rect x="653.5" y="2156" width="467.5" height="37"/></clipPath>
<g clip-path="url(#cp2155)">
<rect x="653.5" y="2156" width="467.5" height="37" fill="#f5f5f5"/>
<rect x="667" y="2170.5" width="42" height="7" rx="3.5" fill="#000" fill-opacity="0.25" filter="url(#b2)"/>
<ellipse cx="744.6" cy="2175.5" rx="27" ry="11.5" fill="#000" fill-opacity="0.13" filter="url(#b3)"/>
<rect x="720.6" y="2167" width="48" height="14" rx="7" fill="#000" fill-opacity="1" filter="url(#b1)"/>
<ellipse cx="801.2" cy="2175.5" rx="25" ry="9" fill="#000" fill-opacity="0.13" filter="url(#b3)"/>
<rect x="779.2" y="2169.5" width="44" height="9" rx="4.5" fill="#000" fill-opacity="1" filter="url(#b1)"/>
<ellipse cx="857.8" cy="2175.5" rx="25" ry="10" fill="#000" fill-opacity="0.13" filter="url(#b3)"/>
<rect x="835.8" y="2168.5" width="44" height="11" rx="5.5" fill="#000" fill-opacity="1" filter="url(#b1)"/>
<rect x="893.4" y="2171" width="42" height="6" rx="3" fill="#000" fill-opacity="0.12" filter="url(#b2)"/>
<ellipse cx="971" cy="2175.5" rx="27" ry="11.5" fill="#000" fill-opacity="0.13" filter="url(#b3)"/>
<rect x="947" y="2167" width="48" height="14" rx="7" fill="#000" fill-opacity="1" filter="url(#b1)"/>
<ellipse cx="1027.6" cy="2175.5" rx="25" ry="9.5" fill="#000" fill-opacity="0.13" filter="url(#b3)"/>
<rect x="1005.6" y="2169" width="44" height="10" rx="5" fill="#000" fill-opacity="1" filter="url(#b1)"/>
<ellipse cx="1084.2" cy="2175.5" rx="24" ry="9" fill="#000" fill-opacity="0.12" filter="url(#b3)"/>
<rect x="1063.2" y="2169.5" width="42" height="9" rx="4.5" fill="#000" fill-opacity="0.9" filter="url(#b1)"/>
</g>
<rect x="653.5" y="2156" width="467.5" height="37" fill="none" stroke="#000" stroke-width="2" />
<text transform="translate(643,2184)" font-size="27" text-anchor="end">p-p38</text>
<line x1="1122" y1="2178.7" x2="1132.4" y2="2178.7" stroke="#000" stroke-width="2"/>
<text transform="translate(1140.8,2187.9)" font-size="26">33</text>
<clipPath id="cp2200"><rect x="653.5" y="2201" width="467.5" height="41"/></clipPath>
<g clip-path="url(#cp2200)">
<rect x="653.5" y="2201" width="467.5" height="41" fill="#cccccc"/>
<ellipse cx="688" cy="2205" rx="24" ry="4.5" fill="#000" fill-opacity="0.3" filter="url(#b3)"/>
<ellipse cx="744.6" cy="2205" rx="24" ry="4.5" fill="#000" fill-opacity="0.3" filter="url(#b3)"/>
<ellipse cx="801.2" cy="2205" rx="24" ry="4.5" fill="#000" fill-opacity="0.3" filter="url(#b3)"/>
<ellipse cx="857.8" cy="2205" rx="24" ry="4.5" fill="#000" fill-opacity="0.3" filter="url(#b3)"/>
<ellipse cx="914.4" cy="2205" rx="24" ry="4.5" fill="#000" fill-opacity="0.3" filter="url(#b3)"/>
<ellipse cx="971" cy="2205" rx="24" ry="4.5" fill="#000" fill-opacity="0.3" filter="url(#b3)"/>
<ellipse cx="688" cy="2223.5" rx="28" ry="15" fill="#000" fill-opacity="0.13" filter="url(#b3)"/>
<rect x="663" y="2211.5" width="50" height="21" rx="10.5" fill="#000" fill-opacity="1" filter="url(#b1)"/>
<ellipse cx="744.6" cy="2223.5" rx="28" ry="15" fill="#000" fill-opacity="0.13" filter="url(#b3)"/>
<rect x="719.6" y="2211.5" width="50" height="21" rx="10.5" fill="#000" fill-opacity="1" filter="url(#b1)"/>
<ellipse cx="801.2" cy="2223.5" rx="28" ry="14.5" fill="#000" fill-opacity="0.13" filter="url(#b3)"/>
<rect x="776.2" y="2212" width="50" height="20" rx="10" fill="#000" fill-opacity="1" filter="url(#b1)"/>
<ellipse cx="857.8" cy="2224.5" rx="26" ry="11.5" fill="#000" fill-opacity="0.13" filter="url(#b3)"/>
<rect x="834.8" y="2216" width="46" height="14" rx="7" fill="#000" fill-opacity="1" filter="url(#b1)"/>
<ellipse cx="914.4" cy="2223.5" rx="28" ry="15" fill="#000" fill-opacity="0.13" filter="url(#b3)"/>
<rect x="889.4" y="2211.5" width="50" height="21" rx="10.5" fill="#000" fill-opacity="1" filter="url(#b1)"/>
<ellipse cx="971" cy="2223.5" rx="28" ry="14.5" fill="#000" fill-opacity="0.13" filter="url(#b3)"/>
<rect x="946" y="2212" width="50" height="20" rx="10" fill="#000" fill-opacity="1" filter="url(#b1)"/>
<ellipse cx="1027.6" cy="2219.5" rx="26" ry="11.5" fill="#000" fill-opacity="0.13" filter="url(#b3)"/>
<rect x="1004.6" y="2211" width="46" height="14" rx="7" fill="#000" fill-opacity="1" filter="url(#b1)"/>
<ellipse cx="1084.2" cy="2216.5" rx="24" ry="9" fill="#000" fill-opacity="0.13" filter="url(#b3)"/>
<rect x="1063.2" y="2210.5" width="42" height="9" rx="4.5" fill="#000" fill-opacity="1" filter="url(#b1)"/>
</g>
<rect x="653.5" y="2201" width="467.5" height="41" fill="none" stroke="#000" stroke-width="2" />
<text transform="translate(643,2231)" font-size="27" text-anchor="end">p38</text>
<line x1="1122" y1="2224.8" x2="1132.4" y2="2224.8" stroke="#000" stroke-width="2"/>
<text transform="translate(1140.8,2234)" font-size="26">33</text>
<clipPath id="cp2249"><rect x="653.5" y="2250" width="467.5" height="50"/></clipPath>
<g clip-path="url(#cp2249)">
<rect x="653.5" y="2250" width="467.5" height="50" fill="#f3f3f3"/>
<ellipse cx="688" cy="2276" rx="27" ry="13" fill="#000" fill-opacity="0.13" filter="url(#b3)"/>
<rect x="664" y="2266" width="48" height="17" rx="8.5" fill="#000" fill-opacity="1" filter="url(#b1)"/>
<ellipse cx="744.6" cy="2278.5" rx="27" ry="12.5" fill="#000" fill-opacity="0.13" filter="url(#b3)"/>
<rect x="720.6" y="2269" width="48" height="16" rx="8" fill="#000" fill-opacity="1" filter="url(#b1)"/>
<ellipse cx="801.2" cy="2278.5" rx="27" ry="12.5" fill="#000" fill-opacity="0.13" filter="url(#b3)"/>
<rect x="777.2" y="2269" width="48" height="16" rx="8" fill="#000" fill-opacity="1" filter="url(#b1)"/>
<ellipse cx="857.8" cy="2278.5" rx="24" ry="9" fill="#000" fill-opacity="0.08" filter="url(#b3)"/>
<rect x="836.8" y="2272.5" width="42" height="9" rx="4.5" fill="#000" fill-opacity="0.65" filter="url(#b2)"/>
<ellipse cx="914.4" cy="2276.5" rx="27" ry="12" fill="#000" fill-opacity="0.13" filter="url(#b3)"/>
<rect x="890.4" y="2267.5" width="48" height="15" rx="7.5" fill="#000" fill-opacity="1" filter="url(#b1)"/>
<ellipse cx="971" cy="2277.5" rx="27" ry="12" fill="#000" fill-opacity="0.13" filter="url(#b3)"/>
<rect x="947" y="2268.5" width="48" height="15" rx="7.5" fill="#000" fill-opacity="1" filter="url(#b1)"/>
<ellipse cx="1027.6" cy="2275.5" rx="26" ry="11" fill="#000" fill-opacity="0.13" filter="url(#b3)"/>
<rect x="1004.6" y="2267.5" width="46" height="13" rx="6.5" fill="#000" fill-opacity="1" filter="url(#b1)"/>
<ellipse cx="1084.2" cy="2272.5" rx="24" ry="9.5" fill="#000" fill-opacity="0.13" filter="url(#b3)"/>
<rect x="1063.2" y="2266" width="42" height="10" rx="5" fill="#000" fill-opacity="1" filter="url(#b1)"/>
</g>
<rect x="653.5" y="2250" width="467.5" height="50" fill="none" stroke="#000" stroke-width="2" />
<text transform="translate(643,2284.5)" font-size="27" text-anchor="end">Actin</text>
<line x1="1122" y1="2270.4" x2="1132.4" y2="2270.4" stroke="#000" stroke-width="2"/>
<text transform="translate(1140.8,2279.6)" font-size="26">43</text>
<clipPath id="cp2307"><rect x="653.5" y="2308" width="467.5" height="43"/></clipPath>
<g clip-path="url(#cp2307)">
<rect x="653.5" y="2308" width="467.5" height="43" fill="#f7f7f7"/>
<rect x="785.2" y="2331" width="32" height="6" rx="3" fill="#000" fill-opacity="0.08" filter="url(#b2)"/>
<ellipse cx="857.8" cy="2335.5" rx="19.5" ry="11" fill="#000" fill-opacity="0.13" filter="url(#b3)"/>
<rect x="841.3" y="2327.5" width="33" height="13" rx="6.5" fill="#000" fill-opacity="1" filter="url(#b1)"/>
<rect x="1016.6" y="2330" width="22" height="6" rx="3" fill="#000" fill-opacity="0.05" filter="url(#b2)"/>
<ellipse cx="1084.2" cy="2333.5" rx="18" ry="10.5" fill="#000" fill-opacity="0.13" filter="url(#b3)"/>
<rect x="1074.2" y="2326" width="30" height="12" rx="6" fill="#000" fill-opacity="1" filter="url(#b1)"/>
</g>
<rect x="653.5" y="2308" width="467.5" height="43" fill="none" stroke="#000" stroke-width="2" />
<text transform="translate(643,2339)" font-size="27" text-anchor="end">Caspase-1 p20</text>
<line x1="1122" y1="2315" x2="1132.4" y2="2315" stroke="#000" stroke-width="2"/>
<text transform="translate(1140.8,2324.2)" font-size="26">25</text>
<clipPath id="cp2357"><rect x="653.5" y="2358" width="467.5" height="37.5"/></clipPath>
<g clip-path="url(#cp2357)">
<rect x="653.5" y="2358" width="467.5" height="37.5" fill="#f3f3f3"/>
<ellipse cx="688" cy="2377.5" rx="25" ry="9.5" fill="#000" fill-opacity="0.13" filter="url(#b3)"/>
<rect x="666" y="2371" width="44" height="10" rx="5" fill="#000" fill-opacity="1" filter="url(#b1)"/>
<ellipse cx="744.6" cy="2377.5" rx="25" ry="9.5" fill="#000" fill-opacity="0.13" filter="url(#b3)"/>
<rect x="722.6" y="2371" width="44" height="10" rx="5" fill="#000" fill-opacity="1" filter="url(#b1)"/>
<ellipse cx="801.2" cy="2377.5" rx="25" ry="9.5" fill="#000" fill-opacity="0.13" filter="url(#b3)"/>
<rect x="779.2" y="2371" width="44" height="10" rx="5" fill="#000" fill-opacity="1" filter="url(#b1)"/>
<ellipse cx="857.8" cy="2377.5" rx="25" ry="9.5" fill="#000" fill-opacity="0.13" filter="url(#b3)"/>
<rect x="835.8" y="2371" width="44" height="10" rx="5" fill="#000" fill-opacity="1" filter="url(#b1)"/>
<ellipse cx="914.4" cy="2377.5" rx="25" ry="9.5" fill="#000" fill-opacity="0.13" filter="url(#b3)"/>
<rect x="892.4" y="2371" width="44" height="10" rx="5" fill="#000" fill-opacity="1" filter="url(#b1)"/>
<ellipse cx="971" cy="2377.5" rx="25" ry="9.5" fill="#000" fill-opacity="0.13" filter="url(#b3)"/>
<rect x="949" y="2371" width="44" height="10" rx="5" fill="#000" fill-opacity="1" filter="url(#b1)"/>
<ellipse cx="1027.6" cy="2377.5" rx="25" ry="9.5" fill="#000" fill-opacity="0.13" filter="url(#b3)"/>
<rect x="1005.6" y="2371" width="44" height="10" rx="5" fill="#000" fill-opacity="1" filter="url(#b1)"/>
<ellipse cx="1084.2" cy="2377.5" rx="25" ry="9.5" fill="#000" fill-opacity="0.13" filter="url(#b3)"/>
<rect x="1062.2" y="2371" width="44" height="10" rx="5" fill="#000" fill-opacity="1" filter="url(#b1)"/>
</g>
<rect x="653.5" y="2358" width="467.5" height="37.5" fill="none" stroke="#000" stroke-width="2" />
<text transform="translate(643,2386.25)" font-size="27" text-anchor="end">Pro-Caspase-1</text>
<line x1="1122" y1="2381" x2="1132.4" y2="2381" stroke="#000" stroke-width="2"/>
<text transform="translate(1140.8,2390.2)" font-size="26">43</text>
<clipPath id="cp2402"><rect x="653.5" y="2403" width="467.5" height="43"/></clipPath>
<g clip-path="url(#cp2402)">
<rect x="653.5" y="2403" width="467.5" height="43" fill="#f3f3f3"/>
<ellipse cx="688" cy="2425.5" rx="25" ry="10.5" fill="#000" fill-opacity="0.13" filter="url(#b3)"/>
<rect x="666" y="2418" width="44" height="12" rx="6" fill="#000" fill-opacity="1" filter="url(#b1)"/>
<ellipse cx="744.6" cy="2425.5" rx="25" ry="10.5" fill="#000" fill-opacity="0.13" filter="url(#b3)"/>
<rect x="722.6" y="2418" width="44" height="12" rx="6" fill="#000" fill-opacity="1" filter="url(#b1)"/>
<ellipse cx="801.2" cy="2425.5" rx="25" ry="10.5" fill="#000" fill-opacity="0.13" filter="url(#b3)"/>
<rect x="779.2" y="2418" width="44" height="12" rx="6" fill="#000" fill-opacity="1" filter="url(#b1)"/>
<ellipse cx="857.8" cy="2425.5" rx="25" ry="10.5" fill="#000" fill-opacity="0.13" filter="url(#b3)"/>
<rect x="835.8" y="2418" width="44" height="12" rx="6" fill="#000" fill-opacity="1" filter="url(#b1)"/>
<ellipse cx="914.4" cy="2425.5" rx="25" ry="10.5" fill="#000" fill-opacity="0.13" filter="url(#b3)"/>
<rect x="892.4" y="2418" width="44" height="12" rx="6" fill="#000" fill-opacity="1" filter="url(#b1)"/>
<ellipse cx="971" cy="2425.5" rx="25" ry="10.5" fill="#000" fill-opacity="0.13" filter="url(#b3)"/>
<rect x="949" y="2418" width="44" height="12" rx="6" fill="#000" fill-opacity="1" filter="url(#b1)"/>
<ellipse cx="1027.6" cy="2425.5" rx="25" ry="10.5" fill="#000" fill-opacity="0.13" filter="url(#b3)"/>
<rect x="1005.6" y="2418" width="44" height="12" rx="6" fill="#000" fill-opacity="1" filter="url(#b1)"/>
<ellipse cx="1084.2" cy="2425.5" rx="25" ry="10.5" fill="#000" fill-opacity="0.13" filter="url(#b3)"/>
<rect x="1062.2" y="2418" width="44" height="12" rx="6" fill="#000" fill-opacity="1" filter="url(#b1)"/>
</g>
<rect x="653.5" y="2403" width="467.5" height="43" fill="none" stroke="#000" stroke-width="2" />
<text transform="translate(643,2434)" font-size="27" text-anchor="end">Actin</text>
<line x1="1122" y1="2423.3" x2="1132.4" y2="2423.3" stroke="#000" stroke-width="2"/>
<text transform="translate(1140.8,2432.5)" font-size="26">43</text>
<line x1="1180" y1="1555.6" x2="1180" y2="1883.9" stroke="#000" stroke-width="2"/>
<line x1="1180" y1="1902.6" x2="1180" y2="2280.8" stroke="#000" stroke-width="2"/>
<line x1="1180" y1="2307.1" x2="1180" y2="2450.6" stroke="#000" stroke-width="2"/>
<text transform="translate(1197,1679) rotate(90)" font-size="27">NF-κB</text>
<text transform="translate(1197,2060) rotate(90)" font-size="27">MAPK</text>
<text transform="translate(1197,2294) rotate(90)" font-size="26.2">Inflammasome</text>
<line x1="1297.9" y1="1432" x2="1316.2" y2="1432" stroke="#ff0000" stroke-width="3"/>
<circle cx="1306.8" cy="1432" r="5.5" fill="#ff0000"/>
<text transform="translate(1327.8,1442.7)" font-size="24.3" font-style="italic">Pdcd6<tspan font-size="18" dy="-11">fl/fl</tspan></text>
<line x1="1432.9" y1="1432" x2="1450.9" y2="1432" stroke="#0000ff" stroke-width="3"/>
<rect x="1436.9" y="1427" width="10" height="10" fill="#0000ff"/>
<text transform="translate(1462.4,1442.7)" font-size="24.3" font-style="italic">Pdcd6<tspan font-size="18.5" dy="-11">Δmye</tspan></text>
<line x1="1366.7" y1="1464.1" x2="1366.7" y2="1672" stroke="#000" stroke-width="3"/>
<line x1="1360.2" y1="1670.5" x2="1366.7" y2="1670.5" stroke="#000" stroke-width="3"/>
<text transform="translate(1357.7,1678.56) scale(1.07,1)" font-size="22.5" text-anchor="end">0</text>
<line x1="1360.2" y1="1618.9" x2="1366.7" y2="1618.9" stroke="#000" stroke-width="3"/>
<text transform="translate(1357.7,1626.96) scale(1.07,1)" font-size="22.5" text-anchor="end">2</text>
<line x1="1360.2" y1="1567.3" x2="1366.7" y2="1567.3" stroke="#000" stroke-width="3"/>
<text transform="translate(1357.7,1575.36) scale(1.07,1)" font-size="22.5" text-anchor="end">4</text>
<line x1="1360.2" y1="1515.7" x2="1366.7" y2="1515.7" stroke="#000" stroke-width="3"/>
<text transform="translate(1357.7,1523.76) scale(1.07,1)" font-size="22.5" text-anchor="end">6</text>
<line x1="1360.2" y1="1464.1" x2="1366.7" y2="1464.1" stroke="#000" stroke-width="3"/>
<text transform="translate(1357.7,1472.15) scale(1.07,1)" font-size="22.5" text-anchor="end">8</text>
<line x1="1365.2" y1="1670.5" x2="1574.8" y2="1670.5" stroke="#000" stroke-width="3"/>
<text transform="translate(1408.1,1701.3) scale(1.07,1)" font-size="22.5" text-anchor="middle">0</text>
<text transform="translate(1449.6,1701.3) scale(1.07,1)" font-size="22.5" text-anchor="middle">30</text>
<text transform="translate(1490.6,1701.3) scale(1.07,1)" font-size="22.5" text-anchor="middle">60</text>
<text transform="translate(1532.1,1701.3) scale(1.07,1)" font-size="22.5" text-anchor="middle">120</text>
<text transform="translate(1364.5,1701.3)" font-size="22.5" text-anchor="end"><tspan font-style="italic">L.m.</tspan> (min)</text>
<line x1="1408.1" y1="1649.86" x2="1408.1" y2="1658.89" stroke="#0000ff" stroke-width="3"/>
<line x1="1404.35" y1="1649.86" x2="1411.85" y2="1649.86" stroke="#0000ff" stroke-width="3"/>
<line x1="1404.35" y1="1658.89" x2="1411.85" y2="1658.89" stroke="#0000ff" stroke-width="3"/>
<line x1="1449.6" y1="1547.95" x2="1449.6" y2="1563.43" stroke="#0000ff" stroke-width="3"/>
<line x1="1445.85" y1="1547.95" x2="1453.35" y2="1547.95" stroke="#0000ff" stroke-width="3"/>
<line x1="1445.85" y1="1563.43" x2="1453.35" y2="1563.43" stroke="#0000ff" stroke-width="3"/>
<line x1="1490.6" y1="1532.47" x2="1490.6" y2="1586.65" stroke="#0000ff" stroke-width="3"/>
<line x1="1486.85" y1="1532.47" x2="1494.35" y2="1532.47" stroke="#0000ff" stroke-width="3"/>
<line x1="1486.85" y1="1586.65" x2="1494.35" y2="1586.65" stroke="#0000ff" stroke-width="3"/>
<line x1="1532.1" y1="1581.49" x2="1532.1" y2="1633.09" stroke="#0000ff" stroke-width="3"/>
<line x1="1528.35" y1="1581.49" x2="1535.85" y2="1581.49" stroke="#0000ff" stroke-width="3"/>
<line x1="1528.35" y1="1633.09" x2="1535.85" y2="1633.09" stroke="#0000ff" stroke-width="3"/>
<polyline points="1408.1,1655.02 1449.6,1555.69 1490.6,1559.56 1532.1,1608.58" fill="none" stroke="#0000ff" stroke-width="3" stroke-linejoin="round" stroke-linecap="butt"/>
<rect x="1403.6" y="1650.52" width="9" height="9" fill="#0000ff"/>
<rect x="1445.1" y="1551.19" width="9" height="9" fill="#0000ff"/>
<rect x="1486.1" y="1555.06" width="9" height="9" fill="#0000ff"/>
<rect x="1527.6" y="1604.08" width="9" height="9" fill="#0000ff"/>
<line x1="1408.1" y1="1645.99" x2="1408.1" y2="1656.31" stroke="#ff0000" stroke-width="3"/>
<line x1="1404.35" y1="1645.99" x2="1411.85" y2="1645.99" stroke="#ff0000" stroke-width="3"/>
<line x1="1404.35" y1="1656.31" x2="1411.85" y2="1656.31" stroke="#ff0000" stroke-width="3"/>
<line x1="1449.6" y1="1523.44" x2="1449.6" y2="1559.56" stroke="#ff0000" stroke-width="3"/>
<line x1="1445.85" y1="1523.44" x2="1453.35" y2="1523.44" stroke="#ff0000" stroke-width="3"/>
<line x1="1445.85" y1="1559.56" x2="1453.35" y2="1559.56" stroke="#ff0000" stroke-width="3"/>
<line x1="1490.6" y1="1504.09" x2="1490.6" y2="1569.88" stroke="#ff0000" stroke-width="3"/>
<line x1="1486.85" y1="1504.09" x2="1494.35" y2="1504.09" stroke="#ff0000" stroke-width="3"/>
<line x1="1486.85" y1="1569.88" x2="1494.35" y2="1569.88" stroke="#ff0000" stroke-width="3"/>
<line x1="1532.1" y1="1586.65" x2="1532.1" y2="1625.35" stroke="#ff0000" stroke-width="3"/>
<line x1="1528.35" y1="1586.65" x2="1535.85" y2="1586.65" stroke="#ff0000" stroke-width="3"/>
<line x1="1528.35" y1="1625.35" x2="1535.85" y2="1625.35" stroke="#ff0000" stroke-width="3"/>
<polyline points="1408.1,1651.15 1449.6,1541.5 1490.6,1536.34 1532.1,1606" fill="none" stroke="#ff0000" stroke-width="3" stroke-linejoin="round" stroke-linecap="butt"/>
<circle cx="1408.1" cy="1651.15" r="4.8" fill="#ff0000"/>
<circle cx="1449.6" cy="1541.5" r="4.8" fill="#ff0000"/>
<circle cx="1490.6" cy="1536.34" r="4.8" fill="#ff0000"/>
<circle cx="1532.1" cy="1606" r="4.8" fill="#ff0000"/>
<text transform="translate(1544.9,1614.5)" font-size="19.8">P=0.9737</text>
<text transform="translate(1326,1561) rotate(-90)" font-size="23.5" text-anchor="middle">p-IKKα/Actin</text>
<line x1="1718.8" y1="1437.2" x2="1718.8" y2="1644.2" stroke="#000" stroke-width="3"/>
<line x1="1712.3" y1="1642.7" x2="1718.8" y2="1642.7" stroke="#000" stroke-width="3"/>
<text transform="translate(1709.8,1650.76) scale(1.07,1)" font-size="22.5" text-anchor="end">0.0</text>
<line x1="1712.3" y1="1601.6" x2="1718.8" y2="1601.6" stroke="#000" stroke-width="3"/>
<text transform="translate(1709.8,1609.66) scale(1.07,1)" font-size="22.5" text-anchor="end">0.5</text>
<line x1="1712.3" y1="1560.5" x2="1718.8" y2="1560.5" stroke="#000" stroke-width="3"/>
<text transform="translate(1709.8,1568.56) scale(1.07,1)" font-size="22.5" text-anchor="end">1.0</text>
<line x1="1712.3" y1="1519.4" x2="1718.8" y2="1519.4" stroke="#000" stroke-width="3"/>
<text transform="translate(1709.8,1527.46) scale(1.07,1)" font-size="22.5" text-anchor="end">1.5</text>
<line x1="1712.3" y1="1478.3" x2="1718.8" y2="1478.3" stroke="#000" stroke-width="3"/>
<text transform="translate(1709.8,1486.36) scale(1.07,1)" font-size="22.5" text-anchor="end">2.0</text>
<line x1="1712.3" y1="1437.2" x2="1718.8" y2="1437.2" stroke="#000" stroke-width="3"/>
<text transform="translate(1709.8,1445.26) scale(1.07,1)" font-size="22.5" text-anchor="end">2.5</text>
<line x1="1717.3" y1="1642.7" x2="1925.2" y2="1642.7" stroke="#000" stroke-width="3"/>
<text transform="translate(1759.4,1673.5) scale(1.07,1)" font-size="22.5" text-anchor="middle">0</text>
<text transform="translate(1800.4,1673.5) scale(1.07,1)" font-size="22.5" text-anchor="middle">30</text>
<text transform="translate(1841.9,1673.5) scale(1.07,1)" font-size="22.5" text-anchor="middle">60</text>
<text transform="translate(1882.5,1673.5) scale(1.07,1)" font-size="22.5" text-anchor="middle">120</text>
<text transform="translate(1715,1673.5)" font-size="22.5" text-anchor="end"><tspan font-style="italic">L.m.</tspan> (min)</text>
<line x1="1759.4" y1="1567.9" x2="1759.4" y2="1614.75" stroke="#0000ff" stroke-width="3"/>
<line x1="1755.65" y1="1567.9" x2="1763.15" y2="1567.9" stroke="#0000ff" stroke-width="3"/>
<line x1="1755.65" y1="1614.75" x2="1763.15" y2="1614.75" stroke="#0000ff" stroke-width="3"/>
<line x1="1800.4" y1="1486.52" x2="1800.4" y2="1511.18" stroke="#0000ff" stroke-width="3"/>
<line x1="1796.65" y1="1486.52" x2="1804.15" y2="1486.52" stroke="#0000ff" stroke-width="3"/>
<line x1="1796.65" y1="1511.18" x2="1804.15" y2="1511.18" stroke="#0000ff" stroke-width="3"/>
<line x1="1841.9" y1="1498.03" x2="1841.9" y2="1552.28" stroke="#0000ff" stroke-width="3"/>
<line x1="1838.15" y1="1498.03" x2="1845.65" y2="1498.03" stroke="#0000ff" stroke-width="3"/>
<line x1="1838.15" y1="1552.28" x2="1845.65" y2="1552.28" stroke="#0000ff" stroke-width="3"/>
<line x1="1882.5" y1="1502.96" x2="1882.5" y2="1581.05" stroke="#0000ff" stroke-width="3"/>
<line x1="1878.75" y1="1502.96" x2="1886.25" y2="1502.96" stroke="#0000ff" stroke-width="3"/>
<line x1="1878.75" y1="1581.05" x2="1886.25" y2="1581.05" stroke="#0000ff" stroke-width="3"/>
<polyline points="1759.4,1591.74 1800.4,1496.38 1841.9,1525.15 1882.5,1542.42" fill="none" stroke="#0000ff" stroke-width="3" stroke-linejoin="round" stroke-linecap="butt"/>
<rect x="1754.9" y="1587.24" width="9" height="9" fill="#0000ff"/>
<rect x="1795.9" y="1491.88" width="9" height="9" fill="#0000ff"/>
<rect x="1837.4" y="1520.65" width="9" height="9" fill="#0000ff"/>
<rect x="1878" y="1537.92" width="9" height="9" fill="#0000ff"/>
<line x1="1759.4" y1="1579.41" x2="1759.4" y2="1620.51" stroke="#ff0000" stroke-width="3"/>
<line x1="1755.65" y1="1579.41" x2="1763.15" y2="1579.41" stroke="#ff0000" stroke-width="3"/>
<line x1="1755.65" y1="1620.51" x2="1763.15" y2="1620.51" stroke="#ff0000" stroke-width="3"/>
<line x1="1800.4" y1="1484.05" x2="1800.4" y2="1513.65" stroke="#ff0000" stroke-width="3"/>
<line x1="1796.65" y1="1484.05" x2="1804.15" y2="1484.05" stroke="#ff0000" stroke-width="3"/>
<line x1="1796.65" y1="1513.65" x2="1804.15" y2="1513.65" stroke="#ff0000" stroke-width="3"/>
<line x1="1841.9" y1="1448.71" x2="1841.9" y2="1521.04" stroke="#ff0000" stroke-width="3"/>
<line x1="1838.15" y1="1448.71" x2="1845.65" y2="1448.71" stroke="#ff0000" stroke-width="3"/>
<line x1="1838.15" y1="1521.04" x2="1845.65" y2="1521.04" stroke="#ff0000" stroke-width="3"/>
<line x1="1882.5" y1="1484.88" x2="1882.5" y2="1558.86" stroke="#ff0000" stroke-width="3"/>
<line x1="1878.75" y1="1484.88" x2="1886.25" y2="1484.88" stroke="#ff0000" stroke-width="3"/>
<line x1="1878.75" y1="1558.86" x2="1886.25" y2="1558.86" stroke="#ff0000" stroke-width="3"/>
<polyline points="1759.4,1599.96 1800.4,1498.85 1841.9,1484.88 1882.5,1521.87" fill="none" stroke="#ff0000" stroke-width="3" stroke-linejoin="round" stroke-linecap="butt"/>
<circle cx="1759.4" cy="1599.96" r="4.8" fill="#ff0000"/>
<circle cx="1800.4" cy="1498.85" r="4.8" fill="#ff0000"/>
<circle cx="1841.9" cy="1484.88" r="4.8" fill="#ff0000"/>
<circle cx="1882.5" cy="1521.87" r="4.8" fill="#ff0000"/>
<text transform="translate(1894,1539.7)" font-size="19.8">P=0.7266</text>
<text transform="translate(1657.6,1534.6) rotate(-90)" font-size="23.5" text-anchor="middle">p-p65/Actin</text>
<line x1="1366.7" y1="1741.48" x2="1366.7" y2="1948.5" stroke="#000" stroke-width="3"/>
<line x1="1360.2" y1="1947" x2="1366.7" y2="1947" stroke="#000" stroke-width="3"/>
<text transform="translate(1357.7,1955.06) scale(1.07,1)" font-size="22.5" text-anchor="end">0</text>
<line x1="1360.2" y1="1895.62" x2="1366.7" y2="1895.62" stroke="#000" stroke-width="3"/>
<text transform="translate(1357.7,1903.67) scale(1.07,1)" font-size="22.5" text-anchor="end">2</text>
<line x1="1360.2" y1="1844.24" x2="1366.7" y2="1844.24" stroke="#000" stroke-width="3"/>
<text transform="translate(1357.7,1852.3) scale(1.07,1)" font-size="22.5" text-anchor="end">4</text>
<line x1="1360.2" y1="1792.86" x2="1366.7" y2="1792.86" stroke="#000" stroke-width="3"/>
<text transform="translate(1357.7,1800.91) scale(1.07,1)" font-size="22.5" text-anchor="end">6</text>
<line x1="1360.2" y1="1741.48" x2="1366.7" y2="1741.48" stroke="#000" stroke-width="3"/>
<text transform="translate(1357.7,1749.54) scale(1.07,1)" font-size="22.5" text-anchor="end">8</text>
<line x1="1365.2" y1="1947" x2="1574.8" y2="1947" stroke="#000" stroke-width="3"/>
<text transform="translate(1408.1,1977.8) scale(1.07,1)" font-size="22.5" text-anchor="middle">0</text>
<text transform="translate(1449.6,1977.8) scale(1.07,1)" font-size="22.5" text-anchor="middle">30</text>
<text transform="translate(1490.6,1977.8) scale(1.07,1)" font-size="22.5" text-anchor="middle">60</text>
<text transform="translate(1532.1,1977.8) scale(1.07,1)" font-size="22.5" text-anchor="middle">120</text>
<text transform="translate(1364.5,1977.8)" font-size="22.5" text-anchor="end"><tspan font-style="italic">L.m.</tspan> (min)</text>
<line x1="1408.1" y1="1921.31" x2="1408.1" y2="1926.45" stroke="#0000ff" stroke-width="3"/>
<line x1="1404.35" y1="1921.31" x2="1411.85" y2="1921.31" stroke="#0000ff" stroke-width="3"/>
<line x1="1404.35" y1="1926.45" x2="1411.85" y2="1926.45" stroke="#0000ff" stroke-width="3"/>
<line x1="1449.6" y1="1857.09" x2="1449.6" y2="1875.07" stroke="#0000ff" stroke-width="3"/>
<line x1="1445.85" y1="1857.09" x2="1453.35" y2="1857.09" stroke="#0000ff" stroke-width="3"/>
<line x1="1445.85" y1="1875.07" x2="1453.35" y2="1875.07" stroke="#0000ff" stroke-width="3"/>
<line x1="1490.6" y1="1817.27" x2="1490.6" y2="1853.23" stroke="#0000ff" stroke-width="3"/>
<line x1="1486.85" y1="1817.27" x2="1494.35" y2="1817.27" stroke="#0000ff" stroke-width="3"/>
<line x1="1486.85" y1="1853.23" x2="1494.35" y2="1853.23" stroke="#0000ff" stroke-width="3"/>
<line x1="1532.1" y1="1835.25" x2="1532.1" y2="1905.9" stroke="#0000ff" stroke-width="3"/>
<line x1="1528.35" y1="1835.25" x2="1535.85" y2="1835.25" stroke="#0000ff" stroke-width="3"/>
<line x1="1528.35" y1="1905.9" x2="1535.85" y2="1905.9" stroke="#0000ff" stroke-width="3"/>
<polyline points="1408.1,1923.88 1449.6,1866.08 1490.6,1835.25 1532.1,1869.93" fill="none" stroke="#0000ff" stroke-width="3" stroke-linejoin="round" stroke-linecap="butt"/>
<rect x="1403.6" y="1919.38" width="9" height="9" fill="#0000ff"/>
<rect x="1445.1" y="1861.58" width="9" height="9" fill="#0000ff"/>
<rect x="1486.1" y="1830.75" width="9" height="9" fill="#0000ff"/>
<rect x="1527.6" y="1865.43" width="9" height="9" fill="#0000ff"/>
<line x1="1408.1" y1="1920.03" x2="1408.1" y2="1925.16" stroke="#ff0000" stroke-width="3"/>
<line x1="1404.35" y1="1920.03" x2="1411.85" y2="1920.03" stroke="#ff0000" stroke-width="3"/>
<line x1="1404.35" y1="1925.16" x2="1411.85" y2="1925.16" stroke="#ff0000" stroke-width="3"/>
<line x1="1449.6" y1="1853.23" x2="1449.6" y2="1886.63" stroke="#ff0000" stroke-width="3"/>
<line x1="1445.85" y1="1853.23" x2="1453.35" y2="1853.23" stroke="#ff0000" stroke-width="3"/>
<line x1="1445.85" y1="1886.63" x2="1453.35" y2="1886.63" stroke="#ff0000" stroke-width="3"/>
<line x1="1490.6" y1="1796.71" x2="1490.6" y2="1824.97" stroke="#ff0000" stroke-width="3"/>
<line x1="1486.85" y1="1796.71" x2="1494.35" y2="1796.71" stroke="#ff0000" stroke-width="3"/>
<line x1="1486.85" y1="1824.97" x2="1494.35" y2="1824.97" stroke="#ff0000" stroke-width="3"/>
<line x1="1532.1" y1="1842.96" x2="1532.1" y2="1889.2" stroke="#ff0000" stroke-width="3"/>
<line x1="1528.35" y1="1842.96" x2="1535.85" y2="1842.96" stroke="#ff0000" stroke-width="3"/>
<line x1="1528.35" y1="1889.2" x2="1535.85" y2="1889.2" stroke="#ff0000" stroke-width="3"/>
<polyline points="1408.1,1922.59 1449.6,1869.93 1490.6,1810.84 1532.1,1866.08" fill="none" stroke="#ff0000" stroke-width="3" stroke-linejoin="round" stroke-linecap="butt"/>
<circle cx="1408.1" cy="1922.59" r="4.8" fill="#ff0000"/>
<circle cx="1449.6" cy="1869.93" r="4.8" fill="#ff0000"/>
<circle cx="1490.6" cy="1810.84" r="4.8" fill="#ff0000"/>
<circle cx="1532.1" cy="1866.08" r="4.8" fill="#ff0000"/>
<text transform="translate(1544.9,1878.6)" font-size="19.8">P=0.9192</text>
<text transform="translate(1326,1836.8) rotate(-90)" font-size="23.5" text-anchor="middle">p-IKBα/Actin</text>
<line x1="1718.8" y1="1741.48" x2="1718.8" y2="1948.5" stroke="#000" stroke-width="3"/>
<line x1="1712.3" y1="1947" x2="1718.8" y2="1947" stroke="#000" stroke-width="3"/>
<text transform="translate(1709.8,1955.06) scale(1.07,1)" font-size="22.5" text-anchor="end">0</text>
<line x1="1712.3" y1="1895.62" x2="1718.8" y2="1895.62" stroke="#000" stroke-width="3"/>
<text transform="translate(1709.8,1903.67) scale(1.07,1)" font-size="22.5" text-anchor="end">2</text>
<line x1="1712.3" y1="1844.24" x2="1718.8" y2="1844.24" stroke="#000" stroke-width="3"/>
<text transform="translate(1709.8,1852.3) scale(1.07,1)" font-size="22.5" text-anchor="end">4</text>
<line x1="1712.3" y1="1792.86" x2="1718.8" y2="1792.86" stroke="#000" stroke-width="3"/>
<text transform="translate(1709.8,1800.91) scale(1.07,1)" font-size="22.5" text-anchor="end">6</text>
<line x1="1712.3" y1="1741.48" x2="1718.8" y2="1741.48" stroke="#000" stroke-width="3"/>
<text transform="translate(1709.8,1749.54) scale(1.07,1)" font-size="22.5" text-anchor="end">8</text>
<line x1="1717.3" y1="1947" x2="1925.2" y2="1947" stroke="#000" stroke-width="3"/>
<text transform="translate(1757.7,1977.8) scale(1.07,1)" font-size="22.5" text-anchor="middle">0</text>
<text transform="translate(1800,1977.8) scale(1.07,1)" font-size="22.5" text-anchor="middle">30</text>
<text transform="translate(1841.9,1977.8) scale(1.07,1)" font-size="22.5" text-anchor="middle">60</text>
<text transform="translate(1882.5,1977.8) scale(1.07,1)" font-size="22.5" text-anchor="middle">120</text>
<text transform="translate(1715,1977.8)" font-size="22.5" text-anchor="end"><tspan font-style="italic">L.m.</tspan> (min)</text>
<line x1="1757.7" y1="1904.61" x2="1757.7" y2="1935.44" stroke="#0000ff" stroke-width="3"/>
<line x1="1753.95" y1="1904.61" x2="1761.45" y2="1904.61" stroke="#0000ff" stroke-width="3"/>
<line x1="1753.95" y1="1935.44" x2="1761.45" y2="1935.44" stroke="#0000ff" stroke-width="3"/>
<line x1="1800" y1="1785.15" x2="1800" y2="1827.54" stroke="#0000ff" stroke-width="3"/>
<line x1="1796.25" y1="1785.15" x2="1803.75" y2="1785.15" stroke="#0000ff" stroke-width="3"/>
<line x1="1796.25" y1="1827.54" x2="1803.75" y2="1827.54" stroke="#0000ff" stroke-width="3"/>
<line x1="1841.9" y1="1854.52" x2="1841.9" y2="1908.46" stroke="#0000ff" stroke-width="3"/>
<line x1="1838.15" y1="1854.52" x2="1845.65" y2="1854.52" stroke="#0000ff" stroke-width="3"/>
<line x1="1838.15" y1="1908.46" x2="1845.65" y2="1908.46" stroke="#0000ff" stroke-width="3"/>
<line x1="1882.5" y1="1849.38" x2="1882.5" y2="1922.59" stroke="#0000ff" stroke-width="3"/>
<line x1="1878.75" y1="1849.38" x2="1886.25" y2="1849.38" stroke="#0000ff" stroke-width="3"/>
<line x1="1878.75" y1="1922.59" x2="1886.25" y2="1922.59" stroke="#0000ff" stroke-width="3"/>
<polyline points="1757.7,1921.31 1800,1805.7 1841.9,1881.49 1882.5,1886.63" fill="none" stroke="#0000ff" stroke-width="3" stroke-linejoin="round" stroke-linecap="butt"/>
<rect x="1753.2" y="1916.81" width="9" height="9" fill="#0000ff"/>
<rect x="1795.5" y="1801.2" width="9" height="9" fill="#0000ff"/>
<rect x="1837.4" y="1876.99" width="9" height="9" fill="#0000ff"/>
<rect x="1878" y="1882.13" width="9" height="9" fill="#0000ff"/>
<line x1="1757.7" y1="1927.73" x2="1757.7" y2="1938.01" stroke="#ff0000" stroke-width="3"/>
<line x1="1753.95" y1="1927.73" x2="1761.45" y2="1927.73" stroke="#ff0000" stroke-width="3"/>
<line x1="1753.95" y1="1938.01" x2="1761.45" y2="1938.01" stroke="#ff0000" stroke-width="3"/>
<line x1="1800" y1="1803.14" x2="1800" y2="1839.1" stroke="#ff0000" stroke-width="3"/>
<line x1="1796.25" y1="1803.14" x2="1803.75" y2="1803.14" stroke="#ff0000" stroke-width="3"/>
<line x1="1796.25" y1="1839.1" x2="1803.75" y2="1839.1" stroke="#ff0000" stroke-width="3"/>
<line x1="1841.9" y1="1833.96" x2="1841.9" y2="1922.59" stroke="#ff0000" stroke-width="3"/>
<line x1="1838.15" y1="1833.96" x2="1845.65" y2="1833.96" stroke="#ff0000" stroke-width="3"/>
<line x1="1838.15" y1="1922.59" x2="1845.65" y2="1922.59" stroke="#ff0000" stroke-width="3"/>
<line x1="1882.5" y1="1860.94" x2="1882.5" y2="1921.31" stroke="#ff0000" stroke-width="3"/>
<line x1="1878.75" y1="1860.94" x2="1886.25" y2="1860.94" stroke="#ff0000" stroke-width="3"/>
<line x1="1878.75" y1="1921.31" x2="1886.25" y2="1921.31" stroke="#ff0000" stroke-width="3"/>
<polyline points="1757.7,1932.87 1800,1821.12 1841.9,1878.92 1882.5,1890.48" fill="none" stroke="#ff0000" stroke-width="3" stroke-linejoin="round" stroke-linecap="butt"/>
<circle cx="1757.7" cy="1932.87" r="4.8" fill="#ff0000"/>
<circle cx="1800" cy="1821.12" r="4.8" fill="#ff0000"/>
<circle cx="1841.9" cy="1878.92" r="4.8" fill="#ff0000"/>
<circle cx="1882.5" cy="1890.48" r="4.8" fill="#ff0000"/>
<text transform="translate(1893.2,1892.3)" font-size="19.8">P=0.9220</text>
<text transform="translate(1680,1839) rotate(-90)" font-size="23.5" text-anchor="middle">p-JNK/Actin</text>
<line x1="1366.7" y1="2018.42" x2="1366.7" y2="2225.9" stroke="#000" stroke-width="3"/>
<line x1="1360.2" y1="2224.4" x2="1366.7" y2="2224.4" stroke="#000" stroke-width="3"/>
<text transform="translate(1357.7,2232.45) scale(1.07,1)" font-size="22.5" text-anchor="end">0</text>
<line x1="1360.2" y1="2155.74" x2="1366.7" y2="2155.74" stroke="#000" stroke-width="3"/>
<text transform="translate(1357.7,2163.8) scale(1.07,1)" font-size="22.5" text-anchor="end">2</text>
<line x1="1360.2" y1="2087.08" x2="1366.7" y2="2087.08" stroke="#000" stroke-width="3"/>
<text transform="translate(1357.7,2095.13) scale(1.07,1)" font-size="22.5" text-anchor="end">4</text>
<line x1="1360.2" y1="2018.42" x2="1366.7" y2="2018.42" stroke="#000" stroke-width="3"/>
<text transform="translate(1357.7,2026.48) scale(1.07,1)" font-size="22.5" text-anchor="end">6</text>
<line x1="1365.2" y1="2224.4" x2="1574.8" y2="2224.4" stroke="#000" stroke-width="3"/>
<text transform="translate(1408.1,2255.1) scale(1.07,1)" font-size="22.5" text-anchor="middle">0</text>
<text transform="translate(1449.6,2255.1) scale(1.07,1)" font-size="22.5" text-anchor="middle">30</text>
<text transform="translate(1490.6,2255.1) scale(1.07,1)" font-size="22.5" text-anchor="middle">60</text>
<text transform="translate(1532.1,2255.1) scale(1.07,1)" font-size="22.5" text-anchor="middle">120</text>
<text transform="translate(1364.5,2255.1)" font-size="22.5" text-anchor="end"><tspan font-style="italic">L.m.</tspan> (min)</text>
<line x1="1408.1" y1="2203.8" x2="1408.1" y2="2212.38" stroke="#0000ff" stroke-width="3"/>
<line x1="1404.35" y1="2203.8" x2="1411.85" y2="2203.8" stroke="#0000ff" stroke-width="3"/>
<line x1="1404.35" y1="2212.38" x2="1411.85" y2="2212.38" stroke="#0000ff" stroke-width="3"/>
<line x1="1449.6" y1="2068.2" x2="1449.6" y2="2099.1" stroke="#0000ff" stroke-width="3"/>
<line x1="1445.85" y1="2068.2" x2="1453.35" y2="2068.2" stroke="#0000ff" stroke-width="3"/>
<line x1="1445.85" y1="2099.1" x2="1453.35" y2="2099.1" stroke="#0000ff" stroke-width="3"/>
<line x1="1490.6" y1="2135.14" x2="1490.6" y2="2157.46" stroke="#0000ff" stroke-width="3"/>
<line x1="1486.85" y1="2135.14" x2="1494.35" y2="2135.14" stroke="#0000ff" stroke-width="3"/>
<line x1="1486.85" y1="2157.46" x2="1494.35" y2="2157.46" stroke="#0000ff" stroke-width="3"/>
<line x1="1532.1" y1="2184.92" x2="1532.1" y2="2191.79" stroke="#0000ff" stroke-width="3"/>
<line x1="1528.35" y1="2184.92" x2="1535.85" y2="2184.92" stroke="#0000ff" stroke-width="3"/>
<line x1="1528.35" y1="2191.79" x2="1535.85" y2="2191.79" stroke="#0000ff" stroke-width="3"/>
<polyline points="1408.1,2208.95 1449.6,2083.65 1490.6,2145.44 1532.1,2188.35" fill="none" stroke="#0000ff" stroke-width="3" stroke-linejoin="round" stroke-linecap="butt"/>
<rect x="1403.6" y="2204.45" width="9" height="9" fill="#0000ff"/>
<rect x="1445.1" y="2079.15" width="9" height="9" fill="#0000ff"/>
<rect x="1486.1" y="2140.94" width="9" height="9" fill="#0000ff"/>
<rect x="1527.6" y="2183.85" width="9" height="9" fill="#0000ff"/>
<line x1="1408.1" y1="2196.94" x2="1408.1" y2="2212.38" stroke="#ff0000" stroke-width="3"/>
<line x1="1404.35" y1="2196.94" x2="1411.85" y2="2196.94" stroke="#ff0000" stroke-width="3"/>
<line x1="1404.35" y1="2212.38" x2="1411.85" y2="2212.38" stroke="#ff0000" stroke-width="3"/>
<line x1="1449.6" y1="2056.18" x2="1449.6" y2="2097.38" stroke="#ff0000" stroke-width="3"/>
<line x1="1445.85" y1="2056.18" x2="1453.35" y2="2056.18" stroke="#ff0000" stroke-width="3"/>
<line x1="1445.85" y1="2097.38" x2="1453.35" y2="2097.38" stroke="#ff0000" stroke-width="3"/>
<line x1="1490.6" y1="2100.81" x2="1490.6" y2="2160.89" stroke="#ff0000" stroke-width="3"/>
<line x1="1486.85" y1="2100.81" x2="1494.35" y2="2100.81" stroke="#ff0000" stroke-width="3"/>
<line x1="1486.85" y1="2160.89" x2="1494.35" y2="2160.89" stroke="#ff0000" stroke-width="3"/>
<line x1="1532.1" y1="2148.87" x2="1532.1" y2="2186.64" stroke="#ff0000" stroke-width="3"/>
<line x1="1528.35" y1="2148.87" x2="1535.85" y2="2148.87" stroke="#ff0000" stroke-width="3"/>
<line x1="1528.35" y1="2186.64" x2="1535.85" y2="2186.64" stroke="#ff0000" stroke-width="3"/>
<polyline points="1408.1,2203.8 1449.6,2076.78 1490.6,2129.99 1532.1,2167.76" fill="none" stroke="#ff0000" stroke-width="3" stroke-linejoin="round" stroke-linecap="butt"/>
<circle cx="1408.1" cy="2203.8" r="4.8" fill="#ff0000"/>
<circle cx="1449.6" cy="2076.78" r="4.8" fill="#ff0000"/>
<circle cx="1490.6" cy="2129.99" r="4.8" fill="#ff0000"/>
<circle cx="1532.1" cy="2167.76" r="4.8" fill="#ff0000"/>
<text transform="translate(1544.9,2180.8)" font-size="19.8">P=0.3454</text>
<text transform="translate(1326,2115.4) rotate(-90)" font-size="23.5" text-anchor="middle">p-ERK/Actin</text>
<line x1="1718.8" y1="2018.45" x2="1718.8" y2="2225.9" stroke="#000" stroke-width="3"/>
<line x1="1712.3" y1="2224.4" x2="1718.8" y2="2224.4" stroke="#000" stroke-width="3"/>
<text transform="translate(1709.8,2232.45) scale(1.07,1)" font-size="22.5" text-anchor="end">0</text>
<line x1="1712.3" y1="2155.75" x2="1718.8" y2="2155.75" stroke="#000" stroke-width="3"/>
<text transform="translate(1709.8,2163.8) scale(1.07,1)" font-size="22.5" text-anchor="end">5</text>
<line x1="1712.3" y1="2087.1" x2="1718.8" y2="2087.1" stroke="#000" stroke-width="3"/>
<text transform="translate(1709.8,2095.15) scale(1.07,1)" font-size="22.5" text-anchor="end">10</text>
<line x1="1712.3" y1="2018.45" x2="1718.8" y2="2018.45" stroke="#000" stroke-width="3"/>
<text transform="translate(1709.8,2026.51) scale(1.07,1)" font-size="22.5" text-anchor="end">15</text>
<line x1="1717.3" y1="2224.4" x2="1925.2" y2="2224.4" stroke="#000" stroke-width="3"/>
<text transform="translate(1759.4,2255.1) scale(1.07,1)" font-size="22.5" text-anchor="middle">0</text>
<text transform="translate(1800.4,2255.1) scale(1.07,1)" font-size="22.5" text-anchor="middle">30</text>
<text transform="translate(1841.9,2255.1) scale(1.07,1)" font-size="22.5" text-anchor="middle">60</text>
<text transform="translate(1882.5,2255.1) scale(1.07,1)" font-size="22.5" text-anchor="middle">120</text>
<text transform="translate(1715,2255.1)" font-size="22.5" text-anchor="end"><tspan font-style="italic">L.m.</tspan> (min)</text>
<line x1="1759.4" y1="2196.94" x2="1759.4" y2="2213.42" stroke="#0000ff" stroke-width="3"/>
<line x1="1755.65" y1="2196.94" x2="1763.15" y2="2196.94" stroke="#0000ff" stroke-width="3"/>
<line x1="1755.65" y1="2213.42" x2="1763.15" y2="2213.42" stroke="#0000ff" stroke-width="3"/>
<line x1="1800.4" y1="2061.7" x2="1800.4" y2="2124.17" stroke="#0000ff" stroke-width="3"/>
<line x1="1796.65" y1="2061.7" x2="1804.15" y2="2061.7" stroke="#0000ff" stroke-width="3"/>
<line x1="1796.65" y1="2124.17" x2="1804.15" y2="2124.17" stroke="#0000ff" stroke-width="3"/>
<line x1="1841.9" y1="2124.17" x2="1841.9" y2="2176.35" stroke="#0000ff" stroke-width="3"/>
<line x1="1838.15" y1="2124.17" x2="1845.65" y2="2124.17" stroke="#0000ff" stroke-width="3"/>
<line x1="1838.15" y1="2176.35" x2="1845.65" y2="2176.35" stroke="#0000ff" stroke-width="3"/>
<line x1="1882.5" y1="2132.41" x2="1882.5" y2="2183.21" stroke="#0000ff" stroke-width="3"/>
<line x1="1878.75" y1="2132.41" x2="1886.25" y2="2132.41" stroke="#0000ff" stroke-width="3"/>
<line x1="1878.75" y1="2183.21" x2="1886.25" y2="2183.21" stroke="#0000ff" stroke-width="3"/>
<polyline points="1759.4,2205.18 1800.4,2092.59 1841.9,2150.26 1882.5,2157.12" fill="none" stroke="#0000ff" stroke-width="3" stroke-linejoin="round" stroke-linecap="butt"/>
<rect x="1754.9" y="2200.68" width="9" height="9" fill="#0000ff"/>
<rect x="1795.9" y="2088.09" width="9" height="9" fill="#0000ff"/>
<rect x="1837.4" y="2145.76" width="9" height="9" fill="#0000ff"/>
<rect x="1878" y="2152.62" width="9" height="9" fill="#0000ff"/>
<line x1="1759.4" y1="2192.13" x2="1759.4" y2="2214.1" stroke="#ff0000" stroke-width="3"/>
<line x1="1755.65" y1="2192.13" x2="1763.15" y2="2192.13" stroke="#ff0000" stroke-width="3"/>
<line x1="1755.65" y1="2214.1" x2="1763.15" y2="2214.1" stroke="#ff0000" stroke-width="3"/>
<line x1="1800.4" y1="2087.1" x2="1800.4" y2="2124.17" stroke="#ff0000" stroke-width="3"/>
<line x1="1796.65" y1="2087.1" x2="1804.15" y2="2087.1" stroke="#ff0000" stroke-width="3"/>
<line x1="1796.65" y1="2124.17" x2="1804.15" y2="2124.17" stroke="#ff0000" stroke-width="3"/>
<line x1="1841.9" y1="2125.54" x2="1841.9" y2="2154.38" stroke="#ff0000" stroke-width="3"/>
<line x1="1838.15" y1="2125.54" x2="1845.65" y2="2125.54" stroke="#ff0000" stroke-width="3"/>
<line x1="1838.15" y1="2154.38" x2="1845.65" y2="2154.38" stroke="#ff0000" stroke-width="3"/>
<line x1="1882.5" y1="2107.01" x2="1882.5" y2="2176.35" stroke="#ff0000" stroke-width="3"/>
<line x1="1878.75" y1="2107.01" x2="1886.25" y2="2107.01" stroke="#ff0000" stroke-width="3"/>
<line x1="1878.75" y1="2176.35" x2="1886.25" y2="2176.35" stroke="#ff0000" stroke-width="3"/>
<polyline points="1759.4,2203.81 1800.4,2104.95 1841.9,2140.65 1882.5,2141.33" fill="none" stroke="#ff0000" stroke-width="3" stroke-linejoin="round" stroke-linecap="butt"/>
<circle cx="1759.4" cy="2203.81" r="4.8" fill="#ff0000"/>
<circle cx="1800.4" cy="2104.95" r="4.8" fill="#ff0000"/>
<circle cx="1841.9" cy="2140.65" r="4.8" fill="#ff0000"/>
<circle cx="1882.5" cy="2141.33" r="4.8" fill="#ff0000"/>
<text transform="translate(1893.2,2154.7)" font-size="19.8">P=0.7197</text>
<text transform="translate(1667,2115.4) rotate(-90)" font-size="23.5" text-anchor="middle">p-p38/Actin</text>
<line x1="1366.7" y1="2296.2" x2="1366.7" y2="2503.7" stroke="#000" stroke-width="3"/>
<line x1="1360.2" y1="2502.2" x2="1366.7" y2="2502.2" stroke="#000" stroke-width="3"/>
<text transform="translate(1357.7,2510.25) scale(1.07,1)" font-size="22.5" text-anchor="end">0</text>
<line x1="1360.2" y1="2461" x2="1366.7" y2="2461" stroke="#000" stroke-width="3"/>
<text transform="translate(1357.7,2469.05) scale(1.07,1)" font-size="22.5" text-anchor="end">2</text>
<line x1="1360.2" y1="2419.8" x2="1366.7" y2="2419.8" stroke="#000" stroke-width="3"/>
<text transform="translate(1357.7,2427.85) scale(1.07,1)" font-size="22.5" text-anchor="end">4</text>
<line x1="1360.2" y1="2378.6" x2="1366.7" y2="2378.6" stroke="#000" stroke-width="3"/>
<text transform="translate(1357.7,2386.65) scale(1.07,1)" font-size="22.5" text-anchor="end">6</text>
<line x1="1360.2" y1="2337.4" x2="1366.7" y2="2337.4" stroke="#000" stroke-width="3"/>
<text transform="translate(1357.7,2345.45) scale(1.07,1)" font-size="22.5" text-anchor="end">8</text>
<line x1="1360.2" y1="2296.2" x2="1366.7" y2="2296.2" stroke="#000" stroke-width="3"/>
<text transform="translate(1357.7,2304.25) scale(1.07,1)" font-size="22.5" text-anchor="end">10</text>
<line x1="1365.2" y1="2502.2" x2="1574.8" y2="2502.2" stroke="#000" stroke-width="3"/>
<text transform="translate(1408.1,2533) scale(1.07,1)" font-size="22.5" text-anchor="middle">0</text>
<text transform="translate(1449.6,2533) scale(1.07,1)" font-size="22.5" text-anchor="middle">30</text>
<text transform="translate(1490.6,2533) scale(1.07,1)" font-size="22.5" text-anchor="middle">60</text>
<text transform="translate(1532.1,2533) scale(1.07,1)" font-size="22.5" text-anchor="middle">120</text>
<text transform="translate(1364.5,2533)" font-size="22.5" text-anchor="end"><tspan font-style="italic">L.m.</tspan> (min)</text>
<line x1="1408.1" y1="2479.54" x2="1408.1" y2="2484.69" stroke="#0000ff" stroke-width="3"/>
<line x1="1404.35" y1="2479.54" x2="1411.85" y2="2479.54" stroke="#0000ff" stroke-width="3"/>
<line x1="1404.35" y1="2484.69" x2="1411.85" y2="2484.69" stroke="#0000ff" stroke-width="3"/>
<line x1="1449.6" y1="2481.6" x2="1449.6" y2="2485.72" stroke="#0000ff" stroke-width="3"/>
<line x1="1445.85" y1="2481.6" x2="1453.35" y2="2481.6" stroke="#0000ff" stroke-width="3"/>
<line x1="1445.85" y1="2485.72" x2="1453.35" y2="2485.72" stroke="#0000ff" stroke-width="3"/>
<line x1="1490.6" y1="2459.97" x2="1490.6" y2="2477.48" stroke="#0000ff" stroke-width="3"/>
<line x1="1486.85" y1="2459.97" x2="1494.35" y2="2459.97" stroke="#0000ff" stroke-width="3"/>
<line x1="1486.85" y1="2477.48" x2="1494.35" y2="2477.48" stroke="#0000ff" stroke-width="3"/>
<line x1="1532.1" y1="2334.31" x2="1532.1" y2="2378.6" stroke="#0000ff" stroke-width="3"/>
<line x1="1528.35" y1="2334.31" x2="1535.85" y2="2334.31" stroke="#0000ff" stroke-width="3"/>
<line x1="1528.35" y1="2378.6" x2="1535.85" y2="2378.6" stroke="#0000ff" stroke-width="3"/>
<polyline points="1408.1,2481.6 1449.6,2483.66 1490.6,2469.24 1532.1,2355.94" fill="none" stroke="#0000ff" stroke-width="3" stroke-linejoin="round" stroke-linecap="butt"/>
<rect x="1403.6" y="2477.1" width="9" height="9" fill="#0000ff"/>
<rect x="1445.1" y="2479.16" width="9" height="9" fill="#0000ff"/>
<rect x="1486.1" y="2464.74" width="9" height="9" fill="#0000ff"/>
<rect x="1527.6" y="2351.44" width="9" height="9" fill="#0000ff"/>
<line x1="1408.1" y1="2483.66" x2="1408.1" y2="2487.78" stroke="#ff0000" stroke-width="3"/>
<line x1="1404.35" y1="2483.66" x2="1411.85" y2="2483.66" stroke="#ff0000" stroke-width="3"/>
<line x1="1404.35" y1="2487.78" x2="1411.85" y2="2487.78" stroke="#ff0000" stroke-width="3"/>
<line x1="1449.6" y1="2482.63" x2="1449.6" y2="2486.75" stroke="#ff0000" stroke-width="3"/>
<line x1="1445.85" y1="2482.63" x2="1453.35" y2="2482.63" stroke="#ff0000" stroke-width="3"/>
<line x1="1445.85" y1="2486.75" x2="1453.35" y2="2486.75" stroke="#ff0000" stroke-width="3"/>
<line x1="1490.6" y1="2458.94" x2="1490.6" y2="2473.36" stroke="#ff0000" stroke-width="3"/>
<line x1="1486.85" y1="2458.94" x2="1494.35" y2="2458.94" stroke="#ff0000" stroke-width="3"/>
<line x1="1486.85" y1="2473.36" x2="1494.35" y2="2473.36" stroke="#ff0000" stroke-width="3"/>
<line x1="1532.1" y1="2350.79" x2="1532.1" y2="2418.77" stroke="#ff0000" stroke-width="3"/>
<line x1="1528.35" y1="2350.79" x2="1535.85" y2="2350.79" stroke="#ff0000" stroke-width="3"/>
<line x1="1528.35" y1="2418.77" x2="1535.85" y2="2418.77" stroke="#ff0000" stroke-width="3"/>
<polyline points="1408.1,2485.72 1449.6,2484.69 1490.6,2466.15 1532.1,2384.78" fill="none" stroke="#ff0000" stroke-width="3" stroke-linejoin="round" stroke-linecap="butt"/>
<circle cx="1408.1" cy="2485.72" r="4.8" fill="#ff0000"/>
<circle cx="1449.6" cy="2484.69" r="4.8" fill="#ff0000"/>
<circle cx="1490.6" cy="2466.15" r="4.8" fill="#ff0000"/>
<circle cx="1532.1" cy="2384.78" r="4.8" fill="#ff0000"/>
<text transform="translate(1544,2375.2)" font-size="19.8">P=0.5255</text>
<text transform="translate(1289,2395) rotate(-90)" font-size="23.5" text-anchor="middle">Caspase1 p20/</text>
<text transform="translate(1313,2395) rotate(-90)" font-size="23.5" text-anchor="middle">Actin</text>
<text transform="translate(7.5,41.5)" font-size="60">a</text>
<text transform="translate(523,41)" font-size="60">b</text>
<text transform="translate(976,41)" font-size="60">c</text>
<text transform="translate(1311,41)" font-size="60">d</text>
<text transform="translate(1561.2,41.5)" font-size="60">e</text>
<text transform="translate(8,495)" font-size="60">f</text>
<text transform="translate(523,494)" font-size="60">g</text>
<text transform="translate(1011,495)" font-size="60">h</text>
<text transform="translate(1312.5,495)" font-size="60">i</text>
<text transform="translate(1583.6,493)" font-size="60">j</text>
<text transform="translate(6.3,970.2)" font-size="60">k</text>
<text transform="translate(524.5,969.5)" font-size="60">l</text>
<text transform="translate(974,971)" font-size="60">m</text>
<text transform="translate(1282,971)" font-size="60">n</text>
<text transform="translate(1560,971)" font-size="60">o</text>
<text transform="translate(7.1,1436.5)" font-size="60">p</text>
<text transform="translate(7,1846.5)" font-size="60">q</text>
<text transform="translate(6.1,2207.2)" font-size="60">r</text>
<text transform="translate(489,1436.5) scale(0.93,1)" font-size="60" font-weight="bold">s</text>
</svg>
</body></html>
